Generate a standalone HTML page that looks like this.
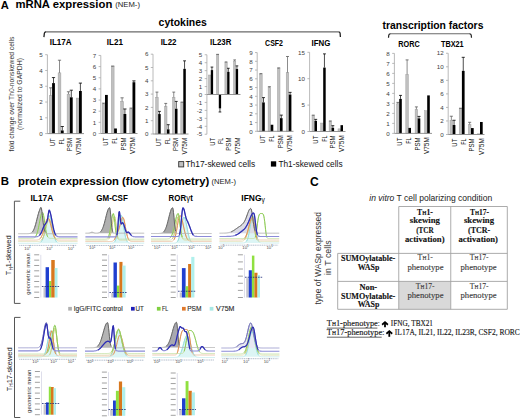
<!DOCTYPE html>
<html><head><meta charset="utf-8"><title>figure</title>
<style>html,body{margin:0;padding:0;background:#fff;width:520px;height:419px;overflow:hidden;font-family:"Liberation Sans",sans-serif}svg{display:block}</style>
</head><body>
<svg width="520" height="419" viewBox="0 0 520 419">
<text x="0.88" y="8.5" font-size="11" font-weight="bold" fill="#000" font-family='"Liberation Sans", sans-serif' textLength="8.06" lengthAdjust="spacingAndGlyphs">A</text>
<text x="15.47" y="8.3" font-size="10.8" font-weight="bold" fill="#000" font-family='"Liberation Sans", sans-serif' textLength="96.83" lengthAdjust="spacingAndGlyphs">mRNA expression</text>
<text x="115.22" y="6.9" font-size="6.4" font-weight="normal" fill="#222" font-family='"Liberation Sans", sans-serif' textLength="24.75" lengthAdjust="spacingAndGlyphs">(NEM-)</text>
<text x="158.59" y="25.6" font-size="10.8" font-weight="bold" fill="#000" font-family='"Liberation Sans", sans-serif' textLength="48.23" lengthAdjust="spacingAndGlyphs">cytokines</text>
<text x="382.58" y="28.5" font-size="10.8" font-weight="bold" fill="#000" font-family='"Liberation Sans", sans-serif' textLength="100.84" lengthAdjust="spacingAndGlyphs">transcription factors</text>
<path d="M45.5,31.9 L338.5,31.9" stroke="#6a6a6a" stroke-width="1.2" fill="none"/>
<path d="M43.9,37.2 L44.4,33.2 Q44.6,31.9 46,31.9" stroke="#222" stroke-width="1.3" fill="none"/>
<path d="M338.5,31.9 Q339.9,31.9 340.1,33.2 L340.4,37" stroke="#222" stroke-width="1.3" fill="none"/>
<path d="M390,33.8 L470,33.8" stroke="#6a6a6a" stroke-width="1.1" fill="none"/>
<path d="M388.5,37.7 L388.8,35 Q389,33.8 390.3,33.8" stroke="#222" stroke-width="1.2" fill="none"/>
<path d="M469.7,33.8 Q471,33.8 471.2,35 L471.5,37.7" stroke="#222" stroke-width="1.2" fill="none"/>
<text x="-0.09" y="0" transform="translate(14 151.4) rotate(-90)" font-size="8" font-weight="normal" fill="#333" font-family='"Liberation Sans", sans-serif' textLength="114.74" lengthAdjust="spacingAndGlyphs">fold change over Th0-nonskewed cells</text>
<text x="-0.42" y="0" transform="translate(22.4 129.5) rotate(-90)" font-size="8" font-weight="normal" fill="#333" font-family='"Liberation Sans", sans-serif' textLength="71.85" lengthAdjust="spacingAndGlyphs">(normalized to GAPDH)</text>
<text x="49.67" y="45.3" font-size="8.9" font-weight="bold" fill="#000" font-family='"Liberation Sans", sans-serif' textLength="22.05" lengthAdjust="spacingAndGlyphs">IL17A</text>
<line x1="47.4" y1="54.7" x2="47.4" y2="133.6" stroke="#a8a8a8" stroke-width="0.8"/>
<line x1="45.2" y1="133.6" x2="47.4" y2="133.6" stroke="#a8a8a8" stroke-width="0.8"/>
<text x="42.8" y="135.8" font-size="6.2" font-weight="normal" text-anchor="end" fill="#404040" font-family='"Liberation Sans", sans-serif'>0</text>
<line x1="45.2" y1="117.82" x2="47.4" y2="117.82" stroke="#a8a8a8" stroke-width="0.8"/>
<text x="42.8" y="120.02" font-size="6.2" font-weight="normal" text-anchor="end" fill="#404040" font-family='"Liberation Sans", sans-serif'>1</text>
<line x1="45.2" y1="102.04" x2="47.4" y2="102.04" stroke="#a8a8a8" stroke-width="0.8"/>
<text x="42.8" y="104.24" font-size="6.2" font-weight="normal" text-anchor="end" fill="#404040" font-family='"Liberation Sans", sans-serif'>2</text>
<line x1="45.2" y1="86.26" x2="47.4" y2="86.26" stroke="#a8a8a8" stroke-width="0.8"/>
<text x="42.8" y="88.46" font-size="6.2" font-weight="normal" text-anchor="end" fill="#404040" font-family='"Liberation Sans", sans-serif'>3</text>
<line x1="45.2" y1="70.48" x2="47.4" y2="70.48" stroke="#a8a8a8" stroke-width="0.8"/>
<text x="42.8" y="72.68" font-size="6.2" font-weight="normal" text-anchor="end" fill="#404040" font-family='"Liberation Sans", sans-serif'>4</text>
<line x1="45.2" y1="54.7" x2="47.4" y2="54.7" stroke="#a8a8a8" stroke-width="0.8"/>
<text x="42.8" y="56.9" font-size="6.2" font-weight="normal" text-anchor="end" fill="#404040" font-family='"Liberation Sans", sans-serif'>5</text>
<rect x="49.3" y="95.73" width="2.8" height="37.87" fill="#c0c0c0" stroke="#9c9c9c" stroke-width="0.45"/>
<line x1="50.7" y1="95.73" x2="50.7" y2="87.84" stroke="#5a5a5a" stroke-width="0.7"/>
<line x1="49.1" y1="87.84" x2="52.3" y2="87.84" stroke="#5a5a5a" stroke-width="0.8"/>
<rect x="52.1" y="83.1" width="2.8" height="50.5" fill="#000"/>
<line x1="53.5" y1="83.1" x2="53.5" y2="77.58" stroke="#000" stroke-width="0.7"/>
<line x1="51.9" y1="77.58" x2="55.1" y2="77.58" stroke="#000" stroke-width="0.8"/>
<rect x="58.1" y="72.85" width="2.8" height="60.75" fill="#c0c0c0" stroke="#9c9c9c" stroke-width="0.45"/>
<line x1="59.5" y1="72.85" x2="59.5" y2="60.22" stroke="#5a5a5a" stroke-width="0.7"/>
<line x1="57.9" y1="60.22" x2="61.1" y2="60.22" stroke="#5a5a5a" stroke-width="0.8"/>
<rect x="60.9" y="130.44" width="2.8" height="3.16" fill="#000"/>
<line x1="62.3" y1="130.44" x2="62.3" y2="126.5" stroke="#000" stroke-width="0.7"/>
<line x1="60.7" y1="126.5" x2="63.9" y2="126.5" stroke="#000" stroke-width="0.8"/>
<rect x="67.1" y="94.15" width="2.8" height="39.45" fill="#c0c0c0" stroke="#9c9c9c" stroke-width="0.45"/>
<line x1="68.5" y1="94.15" x2="68.5" y2="91.78" stroke="#5a5a5a" stroke-width="0.7"/>
<line x1="66.9" y1="91.78" x2="70.1" y2="91.78" stroke="#5a5a5a" stroke-width="0.8"/>
<rect x="69.9" y="97.31" width="2.8" height="36.29" fill="#000"/>
<line x1="71.3" y1="97.31" x2="71.3" y2="90.2" stroke="#000" stroke-width="0.7"/>
<line x1="69.7" y1="90.2" x2="72.9" y2="90.2" stroke="#000" stroke-width="0.8"/>
<rect x="76.2" y="98.09" width="2.8" height="35.5" fill="#c0c0c0" stroke="#9c9c9c" stroke-width="0.45"/>
<rect x="79" y="90.99" width="2.8" height="42.61" fill="#000"/>
<line x1="80.4" y1="90.99" x2="80.4" y2="83.1" stroke="#000" stroke-width="0.7"/>
<line x1="78.8" y1="83.1" x2="82" y2="83.1" stroke="#000" stroke-width="0.8"/>
<line x1="47.4" y1="133.6" x2="84" y2="133.6" stroke="#8a8a8a" stroke-width="0.9"/>
<text x="-0.46" y="0" transform="translate(54.9 145.9) rotate(-90)" font-size="7.5" font-weight="normal" fill="#111" font-family='"Liberation Sans", sans-serif' textLength="8" lengthAdjust="spacingAndGlyphs">UT</text>
<text x="-0.44" y="0" transform="translate(63.5 144.1) rotate(-90)" font-size="7.5" font-weight="normal" fill="#111" font-family='"Liberation Sans", sans-serif' textLength="6.21" lengthAdjust="spacingAndGlyphs">FL</text>
<text x="-0.5" y="0" transform="translate(72.3 150.7) rotate(-90)" font-size="7.5" font-weight="normal" fill="#111" font-family='"Liberation Sans", sans-serif' textLength="13.2" lengthAdjust="spacingAndGlyphs">PSM</text>
<text x="-0.03" y="0" transform="translate(81.3 154.7) rotate(-90)" font-size="7.5" font-weight="normal" fill="#111" font-family='"Liberation Sans", sans-serif' textLength="16.75" lengthAdjust="spacingAndGlyphs">V75M</text>
<text x="106.87" y="44.8" font-size="8.9" font-weight="bold" fill="#000" font-family='"Liberation Sans", sans-serif' textLength="16.15" lengthAdjust="spacingAndGlyphs">IL21</text>
<line x1="100.8" y1="55.45" x2="100.8" y2="133.5" stroke="#a8a8a8" stroke-width="0.8"/>
<line x1="98.6" y1="133.5" x2="100.8" y2="133.5" stroke="#a8a8a8" stroke-width="0.8"/>
<text x="96.2" y="135.7" font-size="6.2" font-weight="normal" text-anchor="end" fill="#404040" font-family='"Liberation Sans", sans-serif'>0</text>
<line x1="98.6" y1="122.35" x2="100.8" y2="122.35" stroke="#a8a8a8" stroke-width="0.8"/>
<text x="96.2" y="124.55" font-size="6.2" font-weight="normal" text-anchor="end" fill="#404040" font-family='"Liberation Sans", sans-serif'>1</text>
<line x1="98.6" y1="111.2" x2="100.8" y2="111.2" stroke="#a8a8a8" stroke-width="0.8"/>
<text x="96.2" y="113.4" font-size="6.2" font-weight="normal" text-anchor="end" fill="#404040" font-family='"Liberation Sans", sans-serif'>2</text>
<line x1="98.6" y1="100.05" x2="100.8" y2="100.05" stroke="#a8a8a8" stroke-width="0.8"/>
<text x="96.2" y="102.25" font-size="6.2" font-weight="normal" text-anchor="end" fill="#404040" font-family='"Liberation Sans", sans-serif'>3</text>
<line x1="98.6" y1="88.9" x2="100.8" y2="88.9" stroke="#a8a8a8" stroke-width="0.8"/>
<text x="96.2" y="91.1" font-size="6.2" font-weight="normal" text-anchor="end" fill="#404040" font-family='"Liberation Sans", sans-serif'>4</text>
<line x1="98.6" y1="77.75" x2="100.8" y2="77.75" stroke="#a8a8a8" stroke-width="0.8"/>
<text x="96.2" y="79.95" font-size="6.2" font-weight="normal" text-anchor="end" fill="#404040" font-family='"Liberation Sans", sans-serif'>5</text>
<line x1="98.6" y1="66.6" x2="100.8" y2="66.6" stroke="#a8a8a8" stroke-width="0.8"/>
<text x="96.2" y="68.8" font-size="6.2" font-weight="normal" text-anchor="end" fill="#404040" font-family='"Liberation Sans", sans-serif'>6</text>
<line x1="98.6" y1="55.45" x2="100.8" y2="55.45" stroke="#a8a8a8" stroke-width="0.8"/>
<text x="96.2" y="57.65" font-size="6.2" font-weight="normal" text-anchor="end" fill="#404040" font-family='"Liberation Sans", sans-serif'>7</text>
<rect x="102.2" y="103.95" width="2.8" height="29.55" fill="#c0c0c0" stroke="#9c9c9c" stroke-width="0.45"/>
<line x1="103.6" y1="103.95" x2="103.6" y2="103.17" stroke="#5a5a5a" stroke-width="0.7"/>
<line x1="102" y1="103.17" x2="105.2" y2="103.17" stroke="#5a5a5a" stroke-width="0.8"/>
<rect x="105" y="94.92" width="2.8" height="38.58" fill="#000"/>
<rect x="111.3" y="66.6" width="2.8" height="66.9" fill="#c0c0c0" stroke="#9c9c9c" stroke-width="0.45"/>
<line x1="112.7" y1="66.6" x2="112.7" y2="66.04" stroke="#5a5a5a" stroke-width="0.7"/>
<line x1="111.1" y1="66.04" x2="114.3" y2="66.04" stroke="#5a5a5a" stroke-width="0.8"/>
<rect x="114.1" y="128.48" width="2.8" height="5.02" fill="#000"/>
<rect x="120.7" y="101.72" width="2.8" height="31.78" fill="#c0c0c0" stroke="#9c9c9c" stroke-width="0.45"/>
<line x1="122.1" y1="101.72" x2="122.1" y2="97.82" stroke="#5a5a5a" stroke-width="0.7"/>
<line x1="120.5" y1="97.82" x2="123.7" y2="97.82" stroke="#5a5a5a" stroke-width="0.8"/>
<rect x="123.5" y="113.99" width="2.8" height="19.51" fill="#000"/>
<line x1="124.9" y1="113.99" x2="124.9" y2="108.97" stroke="#000" stroke-width="0.7"/>
<line x1="123.3" y1="108.97" x2="126.5" y2="108.97" stroke="#000" stroke-width="0.8"/>
<rect x="129.7" y="108.97" width="2.8" height="24.53" fill="#c0c0c0" stroke="#9c9c9c" stroke-width="0.45"/>
<line x1="131.1" y1="108.97" x2="131.1" y2="108.08" stroke="#5a5a5a" stroke-width="0.7"/>
<line x1="129.5" y1="108.08" x2="132.7" y2="108.08" stroke="#5a5a5a" stroke-width="0.8"/>
<rect x="132.5" y="82.21" width="2.8" height="51.29" fill="#000"/>
<line x1="133.9" y1="82.21" x2="133.9" y2="80.87" stroke="#000" stroke-width="0.7"/>
<line x1="132.3" y1="80.87" x2="135.5" y2="80.87" stroke="#000" stroke-width="0.8"/>
<line x1="100.8" y1="133.5" x2="137.5" y2="133.5" stroke="#8a8a8a" stroke-width="0.9"/>
<text x="-0.46" y="0" transform="translate(107.6 145.2) rotate(-90)" font-size="7.5" font-weight="normal" fill="#111" font-family='"Liberation Sans", sans-serif' textLength="8" lengthAdjust="spacingAndGlyphs">UT</text>
<text x="-0.44" y="0" transform="translate(116.7 143.4) rotate(-90)" font-size="7.5" font-weight="normal" fill="#111" font-family='"Liberation Sans", sans-serif' textLength="6.21" lengthAdjust="spacingAndGlyphs">FL</text>
<text x="-0.5" y="0" transform="translate(126 150) rotate(-90)" font-size="7.5" font-weight="normal" fill="#111" font-family='"Liberation Sans", sans-serif' textLength="13.2" lengthAdjust="spacingAndGlyphs">PSM</text>
<text x="-0.03" y="0" transform="translate(135 154) rotate(-90)" font-size="7.5" font-weight="normal" fill="#111" font-family='"Liberation Sans", sans-serif' textLength="16.75" lengthAdjust="spacingAndGlyphs">V75M</text>
<text x="160.68" y="44.8" font-size="8.9" font-weight="bold" fill="#000" font-family='"Liberation Sans", sans-serif' textLength="15.83" lengthAdjust="spacingAndGlyphs">IL22</text>
<line x1="153" y1="54.2" x2="153" y2="134" stroke="#a8a8a8" stroke-width="0.8"/>
<line x1="150.8" y1="134" x2="153" y2="134" stroke="#a8a8a8" stroke-width="0.8"/>
<text x="148.4" y="136.2" font-size="6.2" font-weight="normal" text-anchor="end" fill="#404040" font-family='"Liberation Sans", sans-serif'>0</text>
<line x1="150.8" y1="120.7" x2="153" y2="120.7" stroke="#a8a8a8" stroke-width="0.8"/>
<text x="148.4" y="122.9" font-size="6.2" font-weight="normal" text-anchor="end" fill="#404040" font-family='"Liberation Sans", sans-serif'>1</text>
<line x1="150.8" y1="107.4" x2="153" y2="107.4" stroke="#a8a8a8" stroke-width="0.8"/>
<text x="148.4" y="109.6" font-size="6.2" font-weight="normal" text-anchor="end" fill="#404040" font-family='"Liberation Sans", sans-serif'>2</text>
<line x1="150.8" y1="94.1" x2="153" y2="94.1" stroke="#a8a8a8" stroke-width="0.8"/>
<text x="148.4" y="96.3" font-size="6.2" font-weight="normal" text-anchor="end" fill="#404040" font-family='"Liberation Sans", sans-serif'>3</text>
<line x1="150.8" y1="80.8" x2="153" y2="80.8" stroke="#a8a8a8" stroke-width="0.8"/>
<text x="148.4" y="83" font-size="6.2" font-weight="normal" text-anchor="end" fill="#404040" font-family='"Liberation Sans", sans-serif'>4</text>
<line x1="150.8" y1="67.5" x2="153" y2="67.5" stroke="#a8a8a8" stroke-width="0.8"/>
<text x="148.4" y="69.7" font-size="6.2" font-weight="normal" text-anchor="end" fill="#404040" font-family='"Liberation Sans", sans-serif'>5</text>
<line x1="150.8" y1="54.2" x2="153" y2="54.2" stroke="#a8a8a8" stroke-width="0.8"/>
<text x="148.4" y="56.4" font-size="6.2" font-weight="normal" text-anchor="end" fill="#404040" font-family='"Liberation Sans", sans-serif'>6</text>
<rect x="155.7" y="97.42" width="2.5" height="36.58" fill="#c0c0c0" stroke="#9c9c9c" stroke-width="0.45"/>
<line x1="156.95" y1="97.42" x2="156.95" y2="92.1" stroke="#5a5a5a" stroke-width="0.7"/>
<line x1="155.5" y1="92.1" x2="158.4" y2="92.1" stroke="#5a5a5a" stroke-width="0.8"/>
<rect x="158.2" y="114.05" width="2.5" height="19.95" fill="#000"/>
<line x1="159.45" y1="114.05" x2="159.45" y2="111.39" stroke="#000" stroke-width="0.7"/>
<line x1="158" y1="111.39" x2="160.9" y2="111.39" stroke="#000" stroke-width="0.8"/>
<rect x="164.5" y="106.73" width="2.5" height="27.27" fill="#c0c0c0" stroke="#9c9c9c" stroke-width="0.45"/>
<line x1="165.75" y1="106.73" x2="165.75" y2="103.41" stroke="#5a5a5a" stroke-width="0.7"/>
<line x1="164.3" y1="103.41" x2="167.2" y2="103.41" stroke="#5a5a5a" stroke-width="0.8"/>
<rect x="167" y="129.34" width="2.5" height="4.66" fill="#000"/>
<line x1="168.25" y1="129.34" x2="168.25" y2="124.69" stroke="#000" stroke-width="0.7"/>
<line x1="166.8" y1="124.69" x2="169.7" y2="124.69" stroke="#000" stroke-width="0.8"/>
<rect x="172.5" y="97.42" width="2.5" height="36.58" fill="#c0c0c0" stroke="#9c9c9c" stroke-width="0.45"/>
<line x1="173.75" y1="97.42" x2="173.75" y2="92.1" stroke="#5a5a5a" stroke-width="0.7"/>
<line x1="172.3" y1="92.1" x2="175.2" y2="92.1" stroke="#5a5a5a" stroke-width="0.8"/>
<rect x="175" y="108.73" width="2.5" height="25.27" fill="#000"/>
<line x1="176.25" y1="108.73" x2="176.25" y2="101.41" stroke="#000" stroke-width="0.7"/>
<line x1="174.8" y1="101.41" x2="177.7" y2="101.41" stroke="#000" stroke-width="0.8"/>
<rect x="180.8" y="102.75" width="2.5" height="31.25" fill="#c0c0c0" stroke="#9c9c9c" stroke-width="0.45"/>
<line x1="182.05" y1="102.75" x2="182.05" y2="102.08" stroke="#5a5a5a" stroke-width="0.7"/>
<line x1="180.6" y1="102.08" x2="183.5" y2="102.08" stroke="#5a5a5a" stroke-width="0.8"/>
<rect x="183.3" y="68.83" width="2.5" height="65.17" fill="#000"/>
<line x1="184.55" y1="68.83" x2="184.55" y2="60.85" stroke="#000" stroke-width="0.7"/>
<line x1="183.1" y1="60.85" x2="186" y2="60.85" stroke="#000" stroke-width="0.8"/>
<line x1="153" y1="134" x2="188.5" y2="134" stroke="#8a8a8a" stroke-width="0.9"/>
<text x="-0.46" y="0" transform="translate(161.3 145.7) rotate(-90)" font-size="7.5" font-weight="normal" fill="#111" font-family='"Liberation Sans", sans-serif' textLength="8" lengthAdjust="spacingAndGlyphs">UT</text>
<text x="-0.44" y="0" transform="translate(169.7 143.9) rotate(-90)" font-size="7.5" font-weight="normal" fill="#111" font-family='"Liberation Sans", sans-serif' textLength="6.21" lengthAdjust="spacingAndGlyphs">FL</text>
<text x="-0.5" y="0" transform="translate(178.2 150.5) rotate(-90)" font-size="7.5" font-weight="normal" fill="#111" font-family='"Liberation Sans", sans-serif' textLength="13.2" lengthAdjust="spacingAndGlyphs">PSM</text>
<text x="-0.03" y="0" transform="translate(186.7 154.5) rotate(-90)" font-size="7.5" font-weight="normal" fill="#111" font-family='"Liberation Sans", sans-serif' textLength="16.75" lengthAdjust="spacingAndGlyphs">V75M</text>
<text x="210.08" y="45.4" font-size="8.9" font-weight="bold" fill="#000" font-family='"Liberation Sans", sans-serif' textLength="21.27" lengthAdjust="spacingAndGlyphs">IL23R</text>
<line x1="206.9" y1="54.75" x2="206.9" y2="134.25" stroke="#a8a8a8" stroke-width="0.8"/>
<line x1="204.7" y1="134.25" x2="206.9" y2="134.25" stroke="#a8a8a8" stroke-width="0.8"/>
<text x="202.3" y="136.45" font-size="6.2" font-weight="normal" text-anchor="end" fill="#404040" font-family='"Liberation Sans", sans-serif'>-5</text>
<line x1="204.7" y1="126.3" x2="206.9" y2="126.3" stroke="#a8a8a8" stroke-width="0.8"/>
<text x="202.3" y="128.5" font-size="6.2" font-weight="normal" text-anchor="end" fill="#404040" font-family='"Liberation Sans", sans-serif'>-4</text>
<line x1="204.7" y1="118.35" x2="206.9" y2="118.35" stroke="#a8a8a8" stroke-width="0.8"/>
<text x="202.3" y="120.55" font-size="6.2" font-weight="normal" text-anchor="end" fill="#404040" font-family='"Liberation Sans", sans-serif'>-3</text>
<line x1="204.7" y1="110.4" x2="206.9" y2="110.4" stroke="#a8a8a8" stroke-width="0.8"/>
<text x="202.3" y="112.6" font-size="6.2" font-weight="normal" text-anchor="end" fill="#404040" font-family='"Liberation Sans", sans-serif'>-2</text>
<line x1="204.7" y1="102.45" x2="206.9" y2="102.45" stroke="#a8a8a8" stroke-width="0.8"/>
<text x="202.3" y="104.65" font-size="6.2" font-weight="normal" text-anchor="end" fill="#404040" font-family='"Liberation Sans", sans-serif'>-1</text>
<line x1="204.7" y1="94.5" x2="206.9" y2="94.5" stroke="#a8a8a8" stroke-width="0.8"/>
<text x="202.3" y="96.7" font-size="6.2" font-weight="normal" text-anchor="end" fill="#404040" font-family='"Liberation Sans", sans-serif'>0</text>
<line x1="204.7" y1="86.55" x2="206.9" y2="86.55" stroke="#a8a8a8" stroke-width="0.8"/>
<text x="202.3" y="88.75" font-size="6.2" font-weight="normal" text-anchor="end" fill="#404040" font-family='"Liberation Sans", sans-serif'>1</text>
<line x1="204.7" y1="78.6" x2="206.9" y2="78.6" stroke="#a8a8a8" stroke-width="0.8"/>
<text x="202.3" y="80.8" font-size="6.2" font-weight="normal" text-anchor="end" fill="#404040" font-family='"Liberation Sans", sans-serif'>2</text>
<line x1="204.7" y1="70.65" x2="206.9" y2="70.65" stroke="#a8a8a8" stroke-width="0.8"/>
<text x="202.3" y="72.85" font-size="6.2" font-weight="normal" text-anchor="end" fill="#404040" font-family='"Liberation Sans", sans-serif'>3</text>
<line x1="204.7" y1="62.7" x2="206.9" y2="62.7" stroke="#a8a8a8" stroke-width="0.8"/>
<text x="202.3" y="64.9" font-size="6.2" font-weight="normal" text-anchor="end" fill="#404040" font-family='"Liberation Sans", sans-serif'>4</text>
<line x1="204.7" y1="54.75" x2="206.9" y2="54.75" stroke="#a8a8a8" stroke-width="0.8"/>
<text x="202.3" y="56.95" font-size="6.2" font-weight="normal" text-anchor="end" fill="#404040" font-family='"Liberation Sans", sans-serif'>5</text>
<rect x="208.5" y="75.02" width="2.3" height="19.48" fill="#c0c0c0" stroke="#9c9c9c" stroke-width="0.45"/>
<rect x="210.8" y="70.09" width="2.3" height="24.41" fill="#000"/>
<line x1="211.95" y1="70.09" x2="211.95" y2="67.07" stroke="#000" stroke-width="0.7"/>
<line x1="210.6" y1="67.07" x2="213.3" y2="67.07" stroke="#000" stroke-width="0.8"/>
<rect x="216.5" y="54.59" width="2.3" height="39.91" fill="#c0c0c0" stroke="#9c9c9c" stroke-width="0.45"/>
<line x1="217.65" y1="54.59" x2="217.65" y2="54.35" stroke="#5a5a5a" stroke-width="0.7"/>
<line x1="216.3" y1="54.35" x2="219" y2="54.35" stroke="#5a5a5a" stroke-width="0.8"/>
<rect x="218.8" y="94.5" width="2.3" height="13.91" fill="#000"/>
<line x1="219.95" y1="108.41" x2="219.95" y2="111.99" stroke="#000" stroke-width="0.7"/>
<line x1="218.6" y1="111.99" x2="221.3" y2="111.99" stroke="#000" stroke-width="0.8"/>
<rect x="224.9" y="62.7" width="2.3" height="31.8" fill="#c0c0c0" stroke="#9c9c9c" stroke-width="0.45"/>
<line x1="226.05" y1="62.7" x2="226.05" y2="61.91" stroke="#5a5a5a" stroke-width="0.7"/>
<line x1="224.7" y1="61.91" x2="227.4" y2="61.91" stroke="#5a5a5a" stroke-width="0.8"/>
<rect x="227.2" y="71.84" width="2.3" height="22.66" fill="#000"/>
<line x1="228.35" y1="71.84" x2="228.35" y2="68.27" stroke="#000" stroke-width="0.7"/>
<line x1="227" y1="68.27" x2="229.7" y2="68.27" stroke="#000" stroke-width="0.8"/>
<rect x="233.5" y="61.11" width="2.3" height="33.39" fill="#c0c0c0" stroke="#9c9c9c" stroke-width="0.45"/>
<line x1="234.65" y1="61.11" x2="234.65" y2="59.92" stroke="#5a5a5a" stroke-width="0.7"/>
<line x1="233.3" y1="59.92" x2="236" y2="59.92" stroke="#5a5a5a" stroke-width="0.8"/>
<rect x="235.8" y="69.06" width="2.3" height="25.44" fill="#000"/>
<line x1="236.95" y1="69.06" x2="236.95" y2="65.88" stroke="#000" stroke-width="0.7"/>
<line x1="235.6" y1="65.88" x2="238.3" y2="65.88" stroke="#000" stroke-width="0.8"/>
<line x1="206.9" y1="94.5" x2="240.5" y2="94.5" stroke="#8a8a8a" stroke-width="0.9"/>
<text x="-0.46" y="0" transform="translate(214.7 145.4) rotate(-90)" font-size="7.5" font-weight="normal" fill="#111" font-family='"Liberation Sans", sans-serif' textLength="8" lengthAdjust="spacingAndGlyphs">UT</text>
<text x="-0.44" y="0" transform="translate(223 143.6) rotate(-90)" font-size="7.5" font-weight="normal" fill="#111" font-family='"Liberation Sans", sans-serif' textLength="6.21" lengthAdjust="spacingAndGlyphs">FL</text>
<text x="-0.5" y="0" transform="translate(231.3 150.2) rotate(-90)" font-size="7.5" font-weight="normal" fill="#111" font-family='"Liberation Sans", sans-serif' textLength="13.2" lengthAdjust="spacingAndGlyphs">PSM</text>
<text x="-0.03" y="0" transform="translate(240 154.2) rotate(-90)" font-size="7.5" font-weight="normal" fill="#111" font-family='"Liberation Sans", sans-serif' textLength="16.75" lengthAdjust="spacingAndGlyphs">V75M</text>
<text x="265.11" y="45.6" font-size="8.9" font-weight="bold" fill="#000" font-family='"Liberation Sans", sans-serif' textLength="17.86" lengthAdjust="spacingAndGlyphs">CSF2</text>
<line x1="257.2" y1="52.55" x2="257.2" y2="131.3" stroke="#a8a8a8" stroke-width="0.8"/>
<line x1="255" y1="131.3" x2="257.2" y2="131.3" stroke="#a8a8a8" stroke-width="0.8"/>
<text x="252.6" y="133.5" font-size="6.2" font-weight="normal" text-anchor="end" fill="#404040" font-family='"Liberation Sans", sans-serif'>0</text>
<line x1="255" y1="122.55" x2="257.2" y2="122.55" stroke="#a8a8a8" stroke-width="0.8"/>
<text x="252.6" y="124.75" font-size="6.2" font-weight="normal" text-anchor="end" fill="#404040" font-family='"Liberation Sans", sans-serif'>1</text>
<line x1="255" y1="113.8" x2="257.2" y2="113.8" stroke="#a8a8a8" stroke-width="0.8"/>
<text x="252.6" y="116" font-size="6.2" font-weight="normal" text-anchor="end" fill="#404040" font-family='"Liberation Sans", sans-serif'>2</text>
<line x1="255" y1="105.05" x2="257.2" y2="105.05" stroke="#a8a8a8" stroke-width="0.8"/>
<text x="252.6" y="107.25" font-size="6.2" font-weight="normal" text-anchor="end" fill="#404040" font-family='"Liberation Sans", sans-serif'>3</text>
<line x1="255" y1="96.3" x2="257.2" y2="96.3" stroke="#a8a8a8" stroke-width="0.8"/>
<text x="252.6" y="98.5" font-size="6.2" font-weight="normal" text-anchor="end" fill="#404040" font-family='"Liberation Sans", sans-serif'>4</text>
<line x1="255" y1="87.55" x2="257.2" y2="87.55" stroke="#a8a8a8" stroke-width="0.8"/>
<text x="252.6" y="89.75" font-size="6.2" font-weight="normal" text-anchor="end" fill="#404040" font-family='"Liberation Sans", sans-serif'>5</text>
<line x1="255" y1="78.8" x2="257.2" y2="78.8" stroke="#a8a8a8" stroke-width="0.8"/>
<text x="252.6" y="81" font-size="6.2" font-weight="normal" text-anchor="end" fill="#404040" font-family='"Liberation Sans", sans-serif'>6</text>
<line x1="255" y1="70.05" x2="257.2" y2="70.05" stroke="#a8a8a8" stroke-width="0.8"/>
<text x="252.6" y="72.25" font-size="6.2" font-weight="normal" text-anchor="end" fill="#404040" font-family='"Liberation Sans", sans-serif'>7</text>
<line x1="255" y1="61.3" x2="257.2" y2="61.3" stroke="#a8a8a8" stroke-width="0.8"/>
<text x="252.6" y="63.5" font-size="6.2" font-weight="normal" text-anchor="end" fill="#404040" font-family='"Liberation Sans", sans-serif'>8</text>
<line x1="255" y1="52.55" x2="257.2" y2="52.55" stroke="#a8a8a8" stroke-width="0.8"/>
<text x="252.6" y="54.75" font-size="6.2" font-weight="normal" text-anchor="end" fill="#404040" font-family='"Liberation Sans", sans-serif'>9</text>
<rect x="259.6" y="74.43" width="2.6" height="56.88" fill="#c0c0c0" stroke="#9c9c9c" stroke-width="0.45"/>
<line x1="260.9" y1="74.43" x2="260.9" y2="73.55" stroke="#5a5a5a" stroke-width="0.7"/>
<line x1="259.4" y1="73.55" x2="262.4" y2="73.55" stroke="#5a5a5a" stroke-width="0.8"/>
<rect x="262.2" y="102.43" width="2.6" height="28.88" fill="#000"/>
<line x1="263.5" y1="102.43" x2="263.5" y2="97.61" stroke="#000" stroke-width="0.7"/>
<line x1="262" y1="97.61" x2="265" y2="97.61" stroke="#000" stroke-width="0.8"/>
<rect x="268.1" y="87.55" width="2.6" height="43.75" fill="#c0c0c0" stroke="#9c9c9c" stroke-width="0.45"/>
<line x1="269.4" y1="87.55" x2="269.4" y2="86.68" stroke="#5a5a5a" stroke-width="0.7"/>
<line x1="267.9" y1="86.68" x2="270.9" y2="86.68" stroke="#5a5a5a" stroke-width="0.8"/>
<rect x="270.7" y="124.74" width="2.6" height="6.56" fill="#000"/>
<rect x="277.4" y="68.74" width="2.6" height="62.56" fill="#c0c0c0" stroke="#9c9c9c" stroke-width="0.45"/>
<line x1="278.7" y1="68.74" x2="278.7" y2="67.86" stroke="#5a5a5a" stroke-width="0.7"/>
<line x1="277.2" y1="67.86" x2="280.2" y2="67.86" stroke="#5a5a5a" stroke-width="0.8"/>
<rect x="280" y="118.18" width="2.6" height="13.12" fill="#000"/>
<line x1="281.3" y1="118.18" x2="281.3" y2="115.11" stroke="#000" stroke-width="0.7"/>
<line x1="279.8" y1="115.11" x2="282.8" y2="115.11" stroke="#000" stroke-width="0.8"/>
<rect x="286.2" y="72.68" width="2.6" height="58.62" fill="#c0c0c0" stroke="#9c9c9c" stroke-width="0.45"/>
<line x1="287.5" y1="72.68" x2="287.5" y2="56.49" stroke="#5a5a5a" stroke-width="0.7"/>
<line x1="286" y1="56.49" x2="289" y2="56.49" stroke="#5a5a5a" stroke-width="0.8"/>
<rect x="288.8" y="94.55" width="2.6" height="36.75" fill="#000"/>
<line x1="290.1" y1="94.55" x2="290.1" y2="92.36" stroke="#000" stroke-width="0.7"/>
<line x1="288.6" y1="92.36" x2="291.6" y2="92.36" stroke="#000" stroke-width="0.8"/>
<line x1="257.2" y1="131.3" x2="293.5" y2="131.3" stroke="#8a8a8a" stroke-width="0.9"/>
<text x="-0.46" y="0" transform="translate(265.1 143) rotate(-90)" font-size="7.5" font-weight="normal" fill="#111" font-family='"Liberation Sans", sans-serif' textLength="8" lengthAdjust="spacingAndGlyphs">UT</text>
<text x="-0.44" y="0" transform="translate(273.9 141.2) rotate(-90)" font-size="7.5" font-weight="normal" fill="#111" font-family='"Liberation Sans", sans-serif' textLength="6.21" lengthAdjust="spacingAndGlyphs">FL</text>
<text x="-0.5" y="0" transform="translate(282.9 147.8) rotate(-90)" font-size="7.5" font-weight="normal" fill="#111" font-family='"Liberation Sans", sans-serif' textLength="13.2" lengthAdjust="spacingAndGlyphs">PSM</text>
<text x="-0.03" y="0" transform="translate(291.8 151.8) rotate(-90)" font-size="7.5" font-weight="normal" fill="#111" font-family='"Liberation Sans", sans-serif' textLength="16.75" lengthAdjust="spacingAndGlyphs">V75M</text>
<text x="311.48" y="45.6" font-size="8.9" font-weight="bold" fill="#000" font-family='"Liberation Sans", sans-serif' textLength="18.81" lengthAdjust="spacingAndGlyphs">IFNG</text>
<line x1="309.6" y1="52.3" x2="309.6" y2="131.5" stroke="#a8a8a8" stroke-width="0.8"/>
<line x1="307.4" y1="131.5" x2="309.6" y2="131.5" stroke="#a8a8a8" stroke-width="0.8"/>
<text x="305" y="133.7" font-size="6.2" font-weight="normal" text-anchor="end" fill="#404040" font-family='"Liberation Sans", sans-serif'>0</text>
<line x1="307.4" y1="105.1" x2="309.6" y2="105.1" stroke="#a8a8a8" stroke-width="0.8"/>
<text x="305" y="107.3" font-size="6.2" font-weight="normal" text-anchor="end" fill="#404040" font-family='"Liberation Sans", sans-serif'>5</text>
<line x1="307.4" y1="78.7" x2="309.6" y2="78.7" stroke="#a8a8a8" stroke-width="0.8"/>
<text x="305" y="80.9" font-size="6.2" font-weight="normal" text-anchor="end" fill="#404040" font-family='"Liberation Sans", sans-serif'>10</text>
<line x1="307.4" y1="52.3" x2="309.6" y2="52.3" stroke="#a8a8a8" stroke-width="0.8"/>
<text x="305" y="54.5" font-size="6.2" font-weight="normal" text-anchor="end" fill="#404040" font-family='"Liberation Sans", sans-serif'>15</text>
<rect x="312" y="115.66" width="2.5" height="15.84" fill="#c0c0c0" stroke="#9c9c9c" stroke-width="0.45"/>
<line x1="313.25" y1="115.66" x2="313.25" y2="115.13" stroke="#5a5a5a" stroke-width="0.7"/>
<line x1="311.8" y1="115.13" x2="314.7" y2="115.13" stroke="#5a5a5a" stroke-width="0.8"/>
<rect x="314.5" y="120.94" width="2.5" height="10.56" fill="#000"/>
<line x1="315.75" y1="120.94" x2="315.75" y2="119.36" stroke="#000" stroke-width="0.7"/>
<line x1="314.3" y1="119.36" x2="317.2" y2="119.36" stroke="#000" stroke-width="0.8"/>
<rect x="320.7" y="123.05" width="2.5" height="8.45" fill="#c0c0c0" stroke="#9c9c9c" stroke-width="0.45"/>
<rect x="323.2" y="67.61" width="2.5" height="63.89" fill="#000"/>
<line x1="324.45" y1="67.61" x2="324.45" y2="53.88" stroke="#000" stroke-width="0.7"/>
<line x1="323" y1="53.88" x2="325.9" y2="53.88" stroke="#000" stroke-width="0.8"/>
<rect x="329.1" y="121.47" width="2.5" height="10.03" fill="#c0c0c0" stroke="#9c9c9c" stroke-width="0.45"/>
<line x1="330.35" y1="121.47" x2="330.35" y2="120.94" stroke="#5a5a5a" stroke-width="0.7"/>
<line x1="328.9" y1="120.94" x2="331.8" y2="120.94" stroke="#5a5a5a" stroke-width="0.8"/>
<rect x="331.6" y="127.8" width="2.5" height="3.7" fill="#000"/>
<line x1="332.85" y1="127.8" x2="332.85" y2="125.69" stroke="#000" stroke-width="0.7"/>
<line x1="331.4" y1="125.69" x2="334.3" y2="125.69" stroke="#000" stroke-width="0.8"/>
<rect x="338" y="128.86" width="2.5" height="2.64" fill="#c0c0c0" stroke="#9c9c9c" stroke-width="0.45"/>
<rect x="340.5" y="125.16" width="2.5" height="6.34" fill="#000"/>
<line x1="309.6" y1="131.5" x2="345.5" y2="131.5" stroke="#8a8a8a" stroke-width="0.9"/>
<text x="-0.46" y="0" transform="translate(317.7 143.2) rotate(-90)" font-size="7.5" font-weight="normal" fill="#111" font-family='"Liberation Sans", sans-serif' textLength="8" lengthAdjust="spacingAndGlyphs">UT</text>
<text x="-0.44" y="0" transform="translate(326.5 141.4) rotate(-90)" font-size="7.5" font-weight="normal" fill="#111" font-family='"Liberation Sans", sans-serif' textLength="6.21" lengthAdjust="spacingAndGlyphs">FL</text>
<text x="-0.5" y="0" transform="translate(335.2 148) rotate(-90)" font-size="7.5" font-weight="normal" fill="#111" font-family='"Liberation Sans", sans-serif' textLength="13.2" lengthAdjust="spacingAndGlyphs">PSM</text>
<text x="-0.03" y="0" transform="translate(344.2 152) rotate(-90)" font-size="7.5" font-weight="normal" fill="#111" font-family='"Liberation Sans", sans-serif' textLength="16.75" lengthAdjust="spacingAndGlyphs">V75M</text>
<text x="398.32" y="47.1" font-size="8.9" font-weight="bold" fill="#000" font-family='"Liberation Sans", sans-serif' textLength="21.48" lengthAdjust="spacingAndGlyphs">RORC</text>
<line x1="394.4" y1="53.4" x2="394.4" y2="133.4" stroke="#a8a8a8" stroke-width="0.8"/>
<line x1="392.2" y1="133.4" x2="394.4" y2="133.4" stroke="#a8a8a8" stroke-width="0.8"/>
<text x="389.8" y="135.6" font-size="6.2" font-weight="normal" text-anchor="end" fill="#404040" font-family='"Liberation Sans", sans-serif'>0</text>
<line x1="392.2" y1="123.4" x2="394.4" y2="123.4" stroke="#a8a8a8" stroke-width="0.8"/>
<text x="389.8" y="125.6" font-size="6.2" font-weight="normal" text-anchor="end" fill="#404040" font-family='"Liberation Sans", sans-serif'>1</text>
<line x1="392.2" y1="113.4" x2="394.4" y2="113.4" stroke="#a8a8a8" stroke-width="0.8"/>
<text x="389.8" y="115.6" font-size="6.2" font-weight="normal" text-anchor="end" fill="#404040" font-family='"Liberation Sans", sans-serif'>2</text>
<line x1="392.2" y1="103.4" x2="394.4" y2="103.4" stroke="#a8a8a8" stroke-width="0.8"/>
<text x="389.8" y="105.6" font-size="6.2" font-weight="normal" text-anchor="end" fill="#404040" font-family='"Liberation Sans", sans-serif'>3</text>
<line x1="392.2" y1="93.4" x2="394.4" y2="93.4" stroke="#a8a8a8" stroke-width="0.8"/>
<text x="389.8" y="95.6" font-size="6.2" font-weight="normal" text-anchor="end" fill="#404040" font-family='"Liberation Sans", sans-serif'>4</text>
<line x1="392.2" y1="83.4" x2="394.4" y2="83.4" stroke="#a8a8a8" stroke-width="0.8"/>
<text x="389.8" y="85.6" font-size="6.2" font-weight="normal" text-anchor="end" fill="#404040" font-family='"Liberation Sans", sans-serif'>5</text>
<line x1="392.2" y1="73.4" x2="394.4" y2="73.4" stroke="#a8a8a8" stroke-width="0.8"/>
<text x="389.8" y="75.6" font-size="6.2" font-weight="normal" text-anchor="end" fill="#404040" font-family='"Liberation Sans", sans-serif'>6</text>
<line x1="392.2" y1="63.4" x2="394.4" y2="63.4" stroke="#a8a8a8" stroke-width="0.8"/>
<text x="389.8" y="65.6" font-size="6.2" font-weight="normal" text-anchor="end" fill="#404040" font-family='"Liberation Sans", sans-serif'>7</text>
<line x1="392.2" y1="53.4" x2="394.4" y2="53.4" stroke="#a8a8a8" stroke-width="0.8"/>
<text x="389.8" y="55.6" font-size="6.2" font-weight="normal" text-anchor="end" fill="#404040" font-family='"Liberation Sans", sans-serif'>8</text>
<rect x="396.6" y="103.9" width="2.6" height="29.5" fill="#c0c0c0" stroke="#9c9c9c" stroke-width="0.45"/>
<line x1="397.9" y1="103.9" x2="397.9" y2="102.4" stroke="#5a5a5a" stroke-width="0.7"/>
<line x1="396.4" y1="102.4" x2="399.4" y2="102.4" stroke="#5a5a5a" stroke-width="0.8"/>
<rect x="399.2" y="98.9" width="2.6" height="34.5" fill="#000"/>
<line x1="400.5" y1="98.9" x2="400.5" y2="95.4" stroke="#000" stroke-width="0.7"/>
<line x1="399" y1="95.4" x2="402" y2="95.4" stroke="#000" stroke-width="0.8"/>
<rect x="405.8" y="74.4" width="2.6" height="59" fill="#c0c0c0" stroke="#9c9c9c" stroke-width="0.45"/>
<line x1="407.1" y1="74.4" x2="407.1" y2="59.9" stroke="#5a5a5a" stroke-width="0.7"/>
<line x1="405.6" y1="59.9" x2="408.6" y2="59.9" stroke="#5a5a5a" stroke-width="0.8"/>
<rect x="408.4" y="127.9" width="2.6" height="5.5" fill="#000"/>
<rect x="415.1" y="109.4" width="2.6" height="24" fill="#c0c0c0" stroke="#9c9c9c" stroke-width="0.45"/>
<line x1="416.4" y1="109.4" x2="416.4" y2="106.9" stroke="#5a5a5a" stroke-width="0.7"/>
<line x1="414.9" y1="106.9" x2="417.9" y2="106.9" stroke="#5a5a5a" stroke-width="0.8"/>
<rect x="417.7" y="118.4" width="2.6" height="15" fill="#000"/>
<line x1="419" y1="118.4" x2="419" y2="116.4" stroke="#000" stroke-width="0.7"/>
<line x1="417.5" y1="116.4" x2="420.5" y2="116.4" stroke="#000" stroke-width="0.8"/>
<rect x="424.6" y="110.7" width="2.6" height="22.7" fill="#c0c0c0" stroke="#9c9c9c" stroke-width="0.45"/>
<rect x="427.2" y="95.4" width="2.6" height="38" fill="#000"/>
<line x1="394.4" y1="133.4" x2="432" y2="133.4" stroke="#8a8a8a" stroke-width="0.9"/>
<text x="-0.46" y="0" transform="translate(401.7 145.2) rotate(-90)" font-size="7.5" font-weight="normal" fill="#111" font-family='"Liberation Sans", sans-serif' textLength="8" lengthAdjust="spacingAndGlyphs">UT</text>
<text x="-0.44" y="0" transform="translate(410.8 143.4) rotate(-90)" font-size="7.5" font-weight="normal" fill="#111" font-family='"Liberation Sans", sans-serif' textLength="6.21" lengthAdjust="spacingAndGlyphs">FL</text>
<text x="-0.5" y="0" transform="translate(420.1 150) rotate(-90)" font-size="7.5" font-weight="normal" fill="#111" font-family='"Liberation Sans", sans-serif' textLength="13.2" lengthAdjust="spacingAndGlyphs">PSM</text>
<text x="-0.03" y="0" transform="translate(429 154) rotate(-90)" font-size="7.5" font-weight="normal" fill="#111" font-family='"Liberation Sans", sans-serif' textLength="16.75" lengthAdjust="spacingAndGlyphs">V75M</text>
<text x="440.92" y="47.1" font-size="8.9" font-weight="bold" fill="#000" font-family='"Liberation Sans", sans-serif' textLength="22.78" lengthAdjust="spacingAndGlyphs">TBX21</text>
<line x1="448.2" y1="53.26" x2="448.2" y2="134.5" stroke="#a8a8a8" stroke-width="0.8"/>
<line x1="446" y1="134.5" x2="448.2" y2="134.5" stroke="#a8a8a8" stroke-width="0.8"/>
<text x="443.6" y="136.7" font-size="6.2" font-weight="normal" text-anchor="end" fill="#404040" font-family='"Liberation Sans", sans-serif'>0</text>
<line x1="446" y1="120.96" x2="448.2" y2="120.96" stroke="#a8a8a8" stroke-width="0.8"/>
<text x="443.6" y="123.16" font-size="6.2" font-weight="normal" text-anchor="end" fill="#404040" font-family='"Liberation Sans", sans-serif'>2</text>
<line x1="446" y1="107.42" x2="448.2" y2="107.42" stroke="#a8a8a8" stroke-width="0.8"/>
<text x="443.6" y="109.62" font-size="6.2" font-weight="normal" text-anchor="end" fill="#404040" font-family='"Liberation Sans", sans-serif'>4</text>
<line x1="446" y1="93.88" x2="448.2" y2="93.88" stroke="#a8a8a8" stroke-width="0.8"/>
<text x="443.6" y="96.08" font-size="6.2" font-weight="normal" text-anchor="end" fill="#404040" font-family='"Liberation Sans", sans-serif'>6</text>
<line x1="446" y1="80.34" x2="448.2" y2="80.34" stroke="#a8a8a8" stroke-width="0.8"/>
<text x="443.6" y="82.54" font-size="6.2" font-weight="normal" text-anchor="end" fill="#404040" font-family='"Liberation Sans", sans-serif'>8</text>
<line x1="446" y1="66.8" x2="448.2" y2="66.8" stroke="#a8a8a8" stroke-width="0.8"/>
<text x="443.6" y="69" font-size="6.2" font-weight="normal" text-anchor="end" fill="#404040" font-family='"Liberation Sans", sans-serif'>10</text>
<line x1="446" y1="53.26" x2="448.2" y2="53.26" stroke="#a8a8a8" stroke-width="0.8"/>
<text x="443.6" y="55.46" font-size="6.2" font-weight="normal" text-anchor="end" fill="#404040" font-family='"Liberation Sans", sans-serif'>12</text>
<rect x="450" y="120.28" width="2.7" height="14.22" fill="#c0c0c0" stroke="#9c9c9c" stroke-width="0.45"/>
<line x1="451.35" y1="120.28" x2="451.35" y2="116.22" stroke="#5a5a5a" stroke-width="0.7"/>
<line x1="449.8" y1="116.22" x2="452.9" y2="116.22" stroke="#5a5a5a" stroke-width="0.8"/>
<rect x="452.7" y="125.02" width="2.7" height="9.48" fill="#000"/>
<line x1="454.05" y1="125.02" x2="454.05" y2="120.28" stroke="#000" stroke-width="0.7"/>
<line x1="452.5" y1="120.28" x2="455.6" y2="120.28" stroke="#000" stroke-width="0.8"/>
<rect x="459.2" y="108.77" width="2.7" height="25.73" fill="#c0c0c0" stroke="#9c9c9c" stroke-width="0.45"/>
<line x1="460.55" y1="108.77" x2="460.55" y2="108.23" stroke="#5a5a5a" stroke-width="0.7"/>
<line x1="459" y1="108.23" x2="462.1" y2="108.23" stroke="#5a5a5a" stroke-width="0.8"/>
<rect x="461.9" y="70.86" width="2.7" height="63.64" fill="#000"/>
<line x1="463.25" y1="70.86" x2="463.25" y2="57.32" stroke="#000" stroke-width="0.7"/>
<line x1="461.7" y1="57.32" x2="464.8" y2="57.32" stroke="#000" stroke-width="0.8"/>
<rect x="468.3" y="124.68" width="2.7" height="9.82" fill="#c0c0c0" stroke="#9c9c9c" stroke-width="0.45"/>
<line x1="469.65" y1="124.68" x2="469.65" y2="122.31" stroke="#5a5a5a" stroke-width="0.7"/>
<line x1="468.1" y1="122.31" x2="471.2" y2="122.31" stroke="#5a5a5a" stroke-width="0.8"/>
<rect x="471" y="128.07" width="2.7" height="6.43" fill="#000"/>
<rect x="477.3" y="133.82" width="2.7" height="0.68" fill="#c0c0c0" stroke="#9c9c9c" stroke-width="0.45"/>
<rect x="480" y="121.98" width="2.7" height="12.52" fill="#000"/>
<line x1="448.2" y1="134.5" x2="484.5" y2="134.5" stroke="#8a8a8a" stroke-width="0.9"/>
<text x="-0.46" y="0" transform="translate(456.7 146.2) rotate(-90)" font-size="7.5" font-weight="normal" fill="#111" font-family='"Liberation Sans", sans-serif' textLength="8" lengthAdjust="spacingAndGlyphs">UT</text>
<text x="-0.44" y="0" transform="translate(466.3 144.4) rotate(-90)" font-size="7.5" font-weight="normal" fill="#111" font-family='"Liberation Sans", sans-serif' textLength="6.21" lengthAdjust="spacingAndGlyphs">FL</text>
<text x="-0.5" y="0" transform="translate(474.2 151) rotate(-90)" font-size="7.5" font-weight="normal" fill="#111" font-family='"Liberation Sans", sans-serif' textLength="13.2" lengthAdjust="spacingAndGlyphs">PSM</text>
<text x="-0.03" y="0" transform="translate(483.7 155) rotate(-90)" font-size="7.5" font-weight="normal" fill="#111" font-family='"Liberation Sans", sans-serif' textLength="16.75" lengthAdjust="spacingAndGlyphs">V75M</text>
<rect x="178.7" y="161.6" width="5" height="5.3" fill="#c0c0c0" stroke="#333" stroke-width="0.9"/>
<text x="185.41" y="167.4" font-size="8.8" font-weight="normal" fill="#111" font-family='"Liberation Sans", sans-serif' textLength="69.69" lengthAdjust="spacingAndGlyphs">Th17-skewed cells</text>
<rect x="270.9" y="161.3" width="5.3" height="5.3" fill="#000"/>
<text x="278.42" y="167.4" font-size="8.8" font-weight="normal" fill="#111" font-family='"Liberation Sans", sans-serif' textLength="64.18" lengthAdjust="spacingAndGlyphs">Th1-skewed cells</text>
<text x="0.74" y="185" font-size="10.5" font-weight="bold" fill="#000" font-family='"Liberation Sans", sans-serif' textLength="8.27" lengthAdjust="spacingAndGlyphs">B</text>
<text x="18.07" y="185" font-size="10.6" font-weight="bold" fill="#000" font-family='"Liberation Sans", sans-serif' textLength="191.18" lengthAdjust="spacingAndGlyphs">protein expression (flow cytometry)</text>
<text x="211.53" y="184" font-size="6.4" font-weight="normal" fill="#222" font-family='"Liberation Sans", sans-serif' textLength="24.44" lengthAdjust="spacingAndGlyphs">(NEM-)</text>
<text x="30.45" y="200.5" font-size="8.8" font-weight="bold" fill="#000" font-family='"Liberation Sans", sans-serif' textLength="22.87" lengthAdjust="spacingAndGlyphs">IL17A</text>
<text x="96.37" y="200.5" font-size="8.8" font-weight="bold" fill="#000" font-family='"Liberation Sans", sans-serif' textLength="31.41" lengthAdjust="spacingAndGlyphs">GM-CSF</text>
<text x="168.59" y="200.5" font-size="8.8" font-weight="bold" fill="#000" font-family='"Liberation Sans", sans-serif' textLength="24.21" lengthAdjust="spacingAndGlyphs">ROR<tspan font-weight="normal">&#947;</tspan>t</text>
<text x="241.37" y="200.5" font-size="8.8" font-weight="bold" fill="#000" font-family='"Liberation Sans", sans-serif' textLength="23.46" lengthAdjust="spacingAndGlyphs">IFNG<tspan font-weight="normal" font-size="7" dy="1.2">&#947;</tspan></text>
<path d="M20.3,201.2 L14.4,201.2 L14.4,303.4 L20.5,303.4" stroke="#555" stroke-width="1" fill="none"/>
<path d="M20.5,317.4 L14.5,317.4 L14.5,417.5 L20.3,417.5" stroke="#555" stroke-width="1" fill="none"/>
<text x="-0.16" y="0" transform="translate(11 275) rotate(-90)" font-size="7.5" font-weight="normal" fill="#1a1a1a" font-family='"Liberation Sans", sans-serif' textLength="39.71" lengthAdjust="spacingAndGlyphs">T<tspan font-size="4.8" dy="1.7">H</tspan><tspan dy="-1.7">1-skewed</tspan></text>
<text x="-0.16" y="0" transform="translate(11.6 391.2) rotate(-90)" font-size="7.5" font-weight="normal" fill="#1a1a1a" font-family='"Liberation Sans", sans-serif' textLength="44.01" lengthAdjust="spacingAndGlyphs">T<tspan font-size="4.8" dy="1.7">H</tspan><tspan dy="-1.7">17-skewed</tspan></text>
<line x1="19.2" y1="245.4" x2="76.5" y2="245.4" stroke="#8090aa" stroke-width="0.6" stroke-dasharray="1.2,0.6"/>
<text x="27.5" y="249.6" font-size="4.3" font-weight="normal" text-anchor="middle" fill="#4a4a4a" font-family='"Liberation Sans", sans-serif'>10<tspan font-size="3" dy="-1.6">1</tspan></text>
<text x="49.5" y="249.6" font-size="4.3" font-weight="normal" text-anchor="middle" fill="#4a4a4a" font-family='"Liberation Sans", sans-serif'>10<tspan font-size="3" dy="-1.6">1</tspan></text>
<text x="71" y="249.6" font-size="4.3" font-weight="normal" text-anchor="middle" fill="#4a4a4a" font-family='"Liberation Sans", sans-serif'>10<tspan font-size="3" dy="-1.6">1</tspan></text>
<path d="M18.2,243.3 L18.62,243.3 L19.05,243.3 L19.47,243.3 L19.89,243.3 L20.32,243.3 L20.74,243.3 L21.16,243.3 L21.59,243.3 L22.01,243.3 L22.44,243.3 L22.86,243.3 L23.28,243.3 L23.71,243.3 L24.13,243.3 L24.55,243.3 L24.98,243.3 L25.4,243.3 L25.82,243.3 L26.25,243.3 L26.67,243.3 L27.09,243.3 L27.52,243.3 L27.94,243.3 L28.37,243.3 L28.79,243.3 L29.21,243.3 L29.64,243.3 L30.06,243.3 L30.48,243.3 L30.91,243.3 L31.33,243.3 L31.75,243.3 L32.18,243.3 L32.6,243.3 L33.02,243.3 L33.45,243.3 L33.87,243.3 L34.3,243.3 L34.72,243.3 L35.14,243.3 L35.57,243.29 L35.99,243.29 L36.41,243.28 L36.84,243.27 L37.26,243.25 L37.68,243.22 L38.11,243.18 L38.53,243.12 L38.95,243.03 L39.38,242.91 L39.8,242.74 L40.23,242.52 L40.65,242.22 L41.07,241.83 L41.5,241.33 L41.92,240.69 L42.34,239.91 L42.77,238.96 L43.19,237.83 L43.61,236.51 L44.04,235 L44.46,233.31 L44.88,231.46 L45.31,229.49 L45.73,227.44 L46.16,225.37 L46.58,223.33 L47,221.41 L47.43,219.67 L47.85,218.19 L48.27,217.03 L48.7,216.23 L49.12,215.84 L49.54,215.89 L49.97,216.47 L50.39,217.56 L50.81,219.09 L51.24,220.98 L51.66,223.13 L52.09,225.43 L52.51,227.78 L52.93,230.09 L53.36,232.28 L53.78,234.28 L54.2,236.07 L54.63,237.62 L55.05,238.92 L55.47,239.99 L55.9,240.85 L56.32,241.52 L56.75,242.04 L57.17,242.42 L57.59,242.7 L58.02,242.9 L58.44,243.03 L58.86,243.13 L59.29,243.19 L59.71,243.23 L60.13,243.26 L60.56,243.28 L60.98,243.29 L61.4,243.29 L61.83,243.3 L62.25,243.3 L62.67,243.3 L63.1,243.3 L63.52,243.3 L63.95,243.3 L64.37,243.3 L64.79,243.3 L65.22,243.3 L65.64,243.3 L66.06,243.3 L66.49,243.3 L66.91,243.3 L67.33,243.3 L67.76,243.3 L68.18,243.3 L68.61,243.3 L69.03,243.3 L69.45,243.3 L69.88,243.3 L70.3,243.3 L70.72,243.3 L71.15,243.3 L71.57,243.3 L71.99,243.3 L72.42,243.3 L72.84,243.3 L73.26,243.3 L73.69,243.3 L74.11,243.3 L74.53,243.3 L74.96,243.3 L75.38,243.3 L75.81,243.3 L76.23,243.3 L76.65,243.3 L77.08,243.3 L77.5,243.3 L77.5,243.3 L18.2,243.3 Z" stroke="none" stroke-width="1" fill="#dcf5f5"/>
<path d="M18.2,233.7 L18.62,233.7 L19.05,233.7 L19.47,233.7 L19.89,233.7 L20.32,233.7 L20.74,233.7 L21.16,233.7 L21.59,233.7 L22.01,233.7 L22.44,233.7 L22.86,233.7 L23.28,233.7 L23.71,233.7 L24.13,233.7 L24.55,233.7 L24.98,233.7 L25.4,233.7 L25.82,233.69 L26.25,233.69 L26.67,233.69 L27.09,233.68 L27.52,233.67 L27.94,233.65 L28.37,233.63 L28.79,233.59 L29.21,233.54 L29.64,233.47 L30.06,233.37 L30.48,233.24 L30.91,233.06 L31.33,232.83 L31.75,232.53 L32.18,232.15 L32.6,231.67 L33.02,231.08 L33.45,230.36 L33.87,229.51 L34.3,228.52 L34.72,227.38 L35.14,226.09 L35.57,224.67 L35.99,223.13 L36.41,221.49 L36.84,219.8 L37.26,218.09 L37.68,216.41 L38.11,214.8 L38.53,213.32 L38.95,211.96 L39.38,210.73 L39.8,209.57 L40.23,208.5 L40.65,207.62 L41.07,207.62 L41.5,208.99 L41.92,211.65 L42.34,215.19 L42.77,219.01 L43.19,222.61 L43.61,225.67 L44.04,228.1 L44.46,229.94 L44.88,231.27 L45.31,232.2 L45.73,232.81 L46.16,233.19 L46.58,233.42 L47,233.56 L47.43,233.63 L47.85,233.67 L48.27,233.68 L48.7,233.69 L49.12,233.7 L49.54,233.7 L49.97,233.7 L50.39,233.7 L50.81,233.7 L51.24,233.7 L51.66,233.7 L52.09,233.7 L52.51,233.7 L52.93,233.7 L53.36,233.7 L53.78,233.7 L54.2,233.7 L54.63,233.7 L55.05,233.7 L55.47,233.7 L55.9,233.7 L56.32,233.7 L56.75,233.7 L57.17,233.7 L57.59,233.7 L58.02,233.7 L58.44,233.7 L58.86,233.7 L59.29,233.7 L59.71,233.7 L60.13,233.7 L60.56,233.7 L60.98,233.7 L61.4,233.7 L61.83,233.7 L62.25,233.7 L62.67,233.7 L63.1,233.7 L63.52,233.7 L63.95,233.7 L64.37,233.7 L64.79,233.7 L65.22,233.7 L65.64,233.7 L66.06,233.7 L66.49,233.7 L66.91,233.7 L67.33,233.7 L67.76,233.7 L68.18,233.7 L68.61,233.7 L69.03,233.7 L69.45,233.7 L69.88,233.7 L70.3,233.7 L70.72,233.7 L71.15,233.7 L71.57,233.7 L71.99,233.7 L72.42,233.7 L72.84,233.7 L73.26,233.7 L73.69,233.7 L74.11,233.7 L74.53,233.7 L74.96,233.7 L75.38,233.7 L75.81,233.7 L76.23,233.7 L76.65,233.7 L77.08,233.7 L77.5,233.7 L77.5,233.7 L18.2,233.7 Z" stroke="none" stroke-width="1" fill="#c4c4c4"/>
<path d="M18.2,243.3 L18.62,243.3 L19.05,243.3 L19.47,243.3 L19.89,243.3 L20.32,243.3 L20.74,243.3 L21.16,243.3 L21.59,243.3 L22.01,243.3 L22.44,243.3 L22.86,243.3 L23.28,243.3 L23.71,243.3 L24.13,243.3 L24.55,243.3 L24.98,243.3 L25.4,243.3 L25.82,243.3 L26.25,243.3 L26.67,243.3 L27.09,243.3 L27.52,243.3 L27.94,243.3 L28.37,243.3 L28.79,243.3 L29.21,243.3 L29.64,243.3 L30.06,243.3 L30.48,243.3 L30.91,243.3 L31.33,243.3 L31.75,243.3 L32.18,243.3 L32.6,243.3 L33.02,243.3 L33.45,243.3 L33.87,243.3 L34.3,243.3 L34.72,243.3 L35.14,243.3 L35.57,243.29 L35.99,243.29 L36.41,243.28 L36.84,243.27 L37.26,243.25 L37.68,243.22 L38.11,243.18 L38.53,243.12 L38.95,243.03 L39.38,242.91 L39.8,242.74 L40.23,242.52 L40.65,242.22 L41.07,241.83 L41.5,241.33 L41.92,240.69 L42.34,239.91 L42.77,238.96 L43.19,237.83 L43.61,236.51 L44.04,235 L44.46,233.31 L44.88,231.46 L45.31,229.49 L45.73,227.44 L46.16,225.37 L46.58,223.33 L47,221.41 L47.43,219.67 L47.85,218.19 L48.27,217.03 L48.7,216.23 L49.12,215.84 L49.54,215.89 L49.97,216.47 L50.39,217.56 L50.81,219.09 L51.24,220.98 L51.66,223.13 L52.09,225.43 L52.51,227.78 L52.93,230.09 L53.36,232.28 L53.78,234.28 L54.2,236.07 L54.63,237.62 L55.05,238.92 L55.47,239.99 L55.9,240.85 L56.32,241.52 L56.75,242.04 L57.17,242.42 L57.59,242.7 L58.02,242.9 L58.44,243.03 L58.86,243.13 L59.29,243.19 L59.71,243.23 L60.13,243.26 L60.56,243.28 L60.98,243.29 L61.4,243.29 L61.83,243.3 L62.25,243.3 L62.67,243.3 L63.1,243.3 L63.52,243.3 L63.95,243.3 L64.37,243.3 L64.79,243.3 L65.22,243.3 L65.64,243.3 L66.06,243.3 L66.49,243.3 L66.91,243.3 L67.33,243.3 L67.76,243.3 L68.18,243.3 L68.61,243.3 L69.03,243.3 L69.45,243.3 L69.88,243.3 L70.3,243.3 L70.72,243.3 L71.15,243.3 L71.57,243.3 L71.99,243.3 L72.42,243.3 L72.84,243.3 L73.26,243.3 L73.69,243.3 L74.11,243.3 L74.53,243.3 L74.96,243.3 L75.38,243.3 L75.81,243.3 L76.23,243.3 L76.65,243.3 L77.08,243.3 L77.5,243.3" stroke="#bce8e8" stroke-width="0.8" fill="none" stroke-linejoin="round"/>
<path d="M41.07,241.83 L41.5,241.33 L41.92,240.69 L42.34,239.91 L42.77,238.96 L43.19,237.83 L43.61,236.51 L44.04,235 L44.46,233.31 L44.88,231.46 L45.31,229.49 L45.73,227.44 L46.16,225.37 L46.58,223.33 L47,221.41 L47.43,219.67 L47.85,218.19 L48.27,217.03 L48.7,216.23 L49.12,215.84 L49.54,215.89 L49.97,216.47 L50.39,217.56 L50.81,219.09 L51.24,220.98 L51.66,223.13 L52.09,225.43 L52.51,227.78 L52.93,230.09 L53.36,232.28 L53.78,234.28 L54.2,236.07 L54.63,237.62 L55.05,238.92 L55.47,239.99 L55.9,240.85 L56.32,241.52 L56.75,242.04" stroke="#86d8d8" stroke-width="0.8" fill="none" stroke-linejoin="round"/>
<path d="M18.2,241.5 L18.62,241.5 L19.05,241.5 L19.47,241.5 L19.89,241.5 L20.32,241.5 L20.74,241.5 L21.16,241.5 L21.59,241.5 L22.01,241.5 L22.44,241.5 L22.86,241.5 L23.28,241.5 L23.71,241.5 L24.13,241.5 L24.55,241.5 L24.98,241.5 L25.4,241.5 L25.82,241.5 L26.25,241.5 L26.67,241.5 L27.09,241.5 L27.52,241.5 L27.94,241.5 L28.37,241.5 L28.79,241.5 L29.21,241.5 L29.64,241.5 L30.06,241.5 L30.48,241.5 L30.91,241.5 L31.33,241.5 L31.75,241.5 L32.18,241.5 L32.6,241.5 L33.02,241.5 L33.45,241.5 L33.87,241.5 L34.3,241.5 L34.72,241.5 L35.14,241.5 L35.57,241.5 L35.99,241.49 L36.41,241.49 L36.84,241.48 L37.26,241.47 L37.68,241.46 L38.11,241.43 L38.53,241.4 L38.95,241.34 L39.38,241.26 L39.8,241.15 L40.23,240.99 L40.65,240.77 L41.07,240.48 L41.5,240.09 L41.92,239.6 L42.34,238.97 L42.77,238.2 L43.19,237.27 L43.61,236.16 L44.04,234.89 L44.46,233.45 L44.88,231.88 L45.31,230.19 L45.73,228.44 L46.16,226.68 L46.58,224.97 L47,223.39 L47.43,222.01 L47.85,220.88 L48.27,220.06 L48.7,219.6 L49.12,219.52 L49.54,219.82 L49.97,220.48 L50.39,221.48 L50.81,222.77 L51.24,224.28 L51.66,225.94 L52.09,227.68 L52.51,229.44 L52.93,231.16 L53.36,232.79 L53.78,234.29 L54.2,235.64 L54.63,236.81 L55.05,237.82 L55.47,238.66 L55.9,239.35 L56.32,239.89 L56.75,240.32 L57.17,240.65 L57.59,240.9 L58.02,241.08 L58.44,241.22 L58.86,241.31 L59.29,241.37 L59.71,241.42 L60.13,241.45 L60.56,241.47 L60.98,241.48 L61.4,241.49 L61.83,241.49 L62.25,241.5 L62.67,241.5 L63.1,241.5 L63.52,241.5 L63.95,241.5 L64.37,241.5 L64.79,241.5 L65.22,241.5 L65.64,241.5 L66.06,241.5 L66.49,241.5 L66.91,241.5 L67.33,241.5 L67.76,241.5 L68.18,241.5 L68.61,241.5 L69.03,241.5 L69.45,241.5 L69.88,241.5 L70.3,241.5 L70.72,241.5 L71.15,241.5 L71.57,241.5 L71.99,241.5 L72.42,241.5 L72.84,241.5 L73.26,241.5 L73.69,241.5 L74.11,241.5 L74.53,241.5 L74.96,241.5 L75.38,241.5 L75.81,241.5 L76.23,241.5 L76.65,241.5 L77.08,241.5 L77.5,241.5" stroke="#deddb0" stroke-width="0.8" fill="none" stroke-linejoin="round"/>
<path d="M41.5,240.09 L41.92,239.6 L42.34,238.97 L42.77,238.2 L43.19,237.27 L43.61,236.16 L44.04,234.89 L44.46,233.45 L44.88,231.88 L45.31,230.19 L45.73,228.44 L46.16,226.68 L46.58,224.97 L47,223.39 L47.43,222.01 L47.85,220.88 L48.27,220.06 L48.7,219.6 L49.12,219.52 L49.54,219.82 L49.97,220.48 L50.39,221.48 L50.81,222.77 L51.24,224.28 L51.66,225.94 L52.09,227.68 L52.51,229.44 L52.93,231.16 L53.36,232.79 L53.78,234.29 L54.2,235.64 L54.63,236.81 L55.05,237.82 L55.47,238.66 L55.9,239.35 L56.32,239.89" stroke="#c4c468" stroke-width="0.8" fill="none" stroke-linejoin="round"/>
<path d="M18.2,240.1 L18.62,240.1 L19.05,240.1 L19.47,240.1 L19.89,240.1 L20.32,240.1 L20.74,240.1 L21.16,240.1 L21.59,240.1 L22.01,240.1 L22.44,240.1 L22.86,240.1 L23.28,240.1 L23.71,240.1 L24.13,240.1 L24.55,240.1 L24.98,240.1 L25.4,240.1 L25.82,240.1 L26.25,240.1 L26.67,240.1 L27.09,240.1 L27.52,240.1 L27.94,240.1 L28.37,240.1 L28.79,240.1 L29.21,240.1 L29.64,240.1 L30.06,240.1 L30.48,240.1 L30.91,240.1 L31.33,240.1 L31.75,240.1 L32.18,240.1 L32.6,240.1 L33.02,240.1 L33.45,240.1 L33.87,240.1 L34.3,240.09 L34.72,240.09 L35.14,240.08 L35.57,240.07 L35.99,240.06 L36.41,240.03 L36.84,240 L37.26,239.95 L37.68,239.88 L38.11,239.78 L38.53,239.64 L38.95,239.46 L39.38,239.22 L39.8,238.9 L40.23,238.49 L40.65,237.97 L41.07,237.34 L41.5,236.57 L41.92,235.65 L42.34,234.59 L42.77,233.37 L43.19,232.01 L43.61,230.53 L44.04,228.94 L44.46,227.3 L44.88,225.64 L45.31,224.02 L45.73,222.49 L46.16,221.11 L46.58,219.94 L47,219.03 L47.43,218.41 L47.85,218.12 L48.27,218.18 L48.7,218.62 L49.12,219.41 L49.54,220.52 L49.97,221.89 L50.39,223.46 L50.81,225.16 L51.24,226.92 L51.66,228.67 L52.09,230.36 L52.51,231.95 L52.93,233.39 L53.36,234.68 L53.78,235.8 L54.2,236.74 L54.63,237.52 L55.05,238.16 L55.47,238.66 L55.9,239.05 L56.32,239.35 L56.75,239.57 L57.17,239.74 L57.59,239.85 L58.02,239.94 L58.44,239.99 L58.86,240.03 L59.29,240.06 L59.71,240.07 L60.13,240.08 L60.56,240.09 L60.98,240.09 L61.4,240.1 L61.83,240.1 L62.25,240.1 L62.67,240.1 L63.1,240.1 L63.52,240.1 L63.95,240.1 L64.37,240.1 L64.79,240.1 L65.22,240.1 L65.64,240.1 L66.06,240.1 L66.49,240.1 L66.91,240.1 L67.33,240.1 L67.76,240.1 L68.18,240.1 L68.61,240.1 L69.03,240.1 L69.45,240.1 L69.88,240.1 L70.3,240.1 L70.72,240.1 L71.15,240.1 L71.57,240.1 L71.99,240.1 L72.42,240.1 L72.84,240.1 L73.26,240.1 L73.69,240.1 L74.11,240.1 L74.53,240.1 L74.96,240.1 L75.38,240.1 L75.81,240.1 L76.23,240.1 L76.65,240.1 L77.08,240.1 L77.5,240.1" stroke="#eac0a0" stroke-width="0.85" fill="none" stroke-linejoin="round"/>
<path d="M39.8,238.9 L40.23,238.49 L40.65,237.97 L41.07,237.34 L41.5,236.57 L41.92,235.65 L42.34,234.59 L42.77,233.37 L43.19,232.01 L43.61,230.53 L44.04,228.94 L44.46,227.3 L44.88,225.64 L45.31,224.02 L45.73,222.49 L46.16,221.11 L46.58,219.94 L47,219.03 L47.43,218.41 L47.85,218.12 L48.27,218.18 L48.7,218.62 L49.12,219.41 L49.54,220.52 L49.97,221.89 L50.39,223.46 L50.81,225.16 L51.24,226.92 L51.66,228.67 L52.09,230.36 L52.51,231.95 L52.93,233.39 L53.36,234.68 L53.78,235.8 L54.2,236.74 L54.63,237.52 L55.05,238.16 L55.47,238.66" stroke="#dc8846" stroke-width="0.85" fill="none" stroke-linejoin="round"/>
<path d="M18.2,238.4 L18.62,238.4 L19.05,238.4 L19.47,238.4 L19.89,238.4 L20.32,238.4 L20.74,238.4 L21.16,238.4 L21.59,238.4 L22.01,238.4 L22.44,238.4 L22.86,238.4 L23.28,238.4 L23.71,238.4 L24.13,238.4 L24.55,238.4 L24.98,238.4 L25.4,238.4 L25.82,238.4 L26.25,238.4 L26.67,238.4 L27.09,238.4 L27.52,238.4 L27.94,238.4 L28.37,238.4 L28.79,238.4 L29.21,238.4 L29.64,238.4 L30.06,238.4 L30.48,238.39 L30.91,238.39 L31.33,238.37 L31.75,238.36 L32.18,238.33 L32.6,238.29 L33.02,238.22 L33.45,238.13 L33.87,237.98 L34.3,237.78 L34.72,237.5 L35.14,237.11 L35.57,236.6 L35.99,235.93 L36.41,235.08 L36.84,234.02 L37.26,232.74 L37.68,231.23 L38.11,229.5 L38.53,227.56 L38.95,225.47 L39.38,223.27 L39.8,221.05 L40.23,218.89 L40.65,216.91 L41.07,215.18 L41.5,213.81 L41.92,212.88 L42.34,212.44 L42.77,212.59 L43.19,213.65 L43.61,215.53 L44.04,218.04 L44.46,220.93 L44.88,223.95 L45.31,226.89 L45.73,229.56 L46.16,231.86 L46.58,233.74 L47,235.2 L47.43,236.28 L47.85,237.05 L48.27,237.57 L48.7,237.91 L49.12,238.12 L49.54,238.25 L49.97,238.32 L50.39,238.36 L50.81,238.38 L51.24,238.39 L51.66,238.4 L52.09,238.4 L52.51,238.4 L52.93,238.4 L53.36,238.4 L53.78,238.4 L54.2,238.4 L54.63,238.4 L55.05,238.4 L55.47,238.4 L55.9,238.4 L56.32,238.4 L56.75,238.4 L57.17,238.4 L57.59,238.4 L58.02,238.4 L58.44,238.4 L58.86,238.4 L59.29,238.4 L59.71,238.4 L60.13,238.4 L60.56,238.4 L60.98,238.4 L61.4,238.4 L61.83,238.4 L62.25,238.4 L62.67,238.4 L63.1,238.4 L63.52,238.4 L63.95,238.4 L64.37,238.4 L64.79,238.4 L65.22,238.4 L65.64,238.4 L66.06,238.4 L66.49,238.4 L66.91,238.4 L67.33,238.4 L67.76,238.4 L68.18,238.4 L68.61,238.4 L69.03,238.4 L69.45,238.4 L69.88,238.4 L70.3,238.4 L70.72,238.4 L71.15,238.4 L71.57,238.4 L71.99,238.4 L72.42,238.4 L72.84,238.4 L73.26,238.4 L73.69,238.4 L74.11,238.4 L74.53,238.4 L74.96,238.4 L75.38,238.4 L75.81,238.4 L76.23,238.4 L76.65,238.4 L77.08,238.4 L77.5,238.4" stroke="#c4e2a4" stroke-width="0.9" fill="none" stroke-linejoin="round"/>
<path d="M35.14,237.11 L35.57,236.6 L35.99,235.93 L36.41,235.08 L36.84,234.02 L37.26,232.74 L37.68,231.23 L38.11,229.5 L38.53,227.56 L38.95,225.47 L39.38,223.27 L39.8,221.05 L40.23,218.89 L40.65,216.91 L41.07,215.18 L41.5,213.81 L41.92,212.88 L42.34,212.44 L42.77,212.59 L43.19,213.65 L43.61,215.53 L44.04,218.04 L44.46,220.93 L44.88,223.95 L45.31,226.89 L45.73,229.56 L46.16,231.86 L46.58,233.74 L47,235.2 L47.43,236.28 L47.85,237.05" stroke="#86c84c" stroke-width="0.9" fill="none" stroke-linejoin="round"/>
<path d="M18.2,233.7 L18.62,233.7 L19.05,233.7 L19.47,233.7 L19.89,233.7 L20.32,233.7 L20.74,233.7 L21.16,233.7 L21.59,233.7 L22.01,233.7 L22.44,233.7 L22.86,233.7 L23.28,233.7 L23.71,233.7 L24.13,233.7 L24.55,233.7 L24.98,233.7 L25.4,233.7 L25.82,233.69 L26.25,233.69 L26.67,233.69 L27.09,233.68 L27.52,233.67 L27.94,233.65 L28.37,233.63 L28.79,233.59 L29.21,233.54 L29.64,233.47 L30.06,233.37 L30.48,233.24 L30.91,233.06 L31.33,232.83 L31.75,232.53 L32.18,232.15 L32.6,231.67 L33.02,231.08 L33.45,230.36 L33.87,229.51 L34.3,228.52 L34.72,227.38 L35.14,226.09 L35.57,224.67 L35.99,223.13 L36.41,221.49 L36.84,219.8 L37.26,218.09 L37.68,216.41 L38.11,214.8 L38.53,213.32 L38.95,211.96 L39.38,210.73 L39.8,209.57 L40.23,208.5 L40.65,207.62 L41.07,207.62 L41.5,208.99 L41.92,211.65 L42.34,215.19 L42.77,219.01 L43.19,222.61 L43.61,225.67 L44.04,228.1 L44.46,229.94 L44.88,231.27 L45.31,232.2 L45.73,232.81 L46.16,233.19 L46.58,233.42 L47,233.56 L47.43,233.63 L47.85,233.67 L48.27,233.68 L48.7,233.69 L49.12,233.7 L49.54,233.7 L49.97,233.7 L50.39,233.7 L50.81,233.7 L51.24,233.7 L51.66,233.7 L52.09,233.7 L52.51,233.7 L52.93,233.7 L53.36,233.7 L53.78,233.7 L54.2,233.7 L54.63,233.7 L55.05,233.7 L55.47,233.7 L55.9,233.7 L56.32,233.7 L56.75,233.7 L57.17,233.7 L57.59,233.7 L58.02,233.7 L58.44,233.7 L58.86,233.7 L59.29,233.7 L59.71,233.7 L60.13,233.7 L60.56,233.7 L60.98,233.7 L61.4,233.7 L61.83,233.7 L62.25,233.7 L62.67,233.7 L63.1,233.7 L63.52,233.7 L63.95,233.7 L64.37,233.7 L64.79,233.7 L65.22,233.7 L65.64,233.7 L66.06,233.7 L66.49,233.7 L66.91,233.7 L67.33,233.7 L67.76,233.7 L68.18,233.7 L68.61,233.7 L69.03,233.7 L69.45,233.7 L69.88,233.7 L70.3,233.7 L70.72,233.7 L71.15,233.7 L71.57,233.7 L71.99,233.7 L72.42,233.7 L72.84,233.7 L73.26,233.7 L73.69,233.7 L74.11,233.7 L74.53,233.7 L74.96,233.7 L75.38,233.7 L75.81,233.7 L76.23,233.7 L76.65,233.7 L77.08,233.7 L77.5,233.7" stroke="#b4b4b4" stroke-width="1" fill="none" stroke-linejoin="round"/>
<path d="M32.18,232.15 L32.6,231.67 L33.02,231.08 L33.45,230.36 L33.87,229.51 L34.3,228.52 L34.72,227.38 L35.14,226.09 L35.57,224.67 L35.99,223.13 L36.41,221.49 L36.84,219.8 L37.26,218.09 L37.68,216.41 L38.11,214.8 L38.53,213.32 L38.95,211.96 L39.38,210.73 L39.8,209.57 L40.23,208.5 L40.65,207.62 L41.07,207.62 L41.5,208.99 L41.92,211.65 L42.34,215.19 L42.77,219.01 L43.19,222.61 L43.61,225.67 L44.04,228.1 L44.46,229.94 L44.88,231.27 L45.31,232.2" stroke="#666666" stroke-width="1" fill="none" stroke-linejoin="round"/>
<path d="M18.2,236.9 L18.62,236.9 L19.05,236.9 L19.47,236.9 L19.89,236.9 L20.32,236.9 L20.74,236.9 L21.16,236.9 L21.59,236.9 L22.01,236.9 L22.44,236.9 L22.86,236.9 L23.28,236.9 L23.71,236.9 L24.13,236.9 L24.55,236.9 L24.98,236.9 L25.4,236.9 L25.82,236.9 L26.25,236.9 L26.67,236.9 L27.09,236.9 L27.52,236.9 L27.94,236.9 L28.37,236.9 L28.79,236.9 L29.21,236.9 L29.64,236.9 L30.06,236.9 L30.48,236.9 L30.91,236.9 L31.33,236.9 L31.75,236.9 L32.18,236.9 L32.6,236.9 L33.02,236.9 L33.45,236.89 L33.87,236.89 L34.3,236.88 L34.72,236.87 L35.14,236.86 L35.57,236.84 L35.99,236.8 L36.41,236.75 L36.84,236.68 L37.26,236.59 L37.68,236.46 L38.11,236.28 L38.53,236.05 L38.95,235.75 L39.38,235.37 L39.8,234.91 L40.23,234.35 L40.65,233.69 L41.07,232.93 L41.5,232.07 L41.92,231.13 L42.34,230.13 L42.77,229.1 L43.19,228.06 L43.61,227.05 L44.04,226.12 L44.46,225.3 L44.88,224.61 L45.31,224.03 L45.73,223.49 L46.16,222.86 L46.58,222.23 L47,221.29 L47.43,219.66 L47.85,217.2 L48.27,214.21 L48.7,211.5 L49.12,210.07 L49.54,210.56 L49.97,211.75 L50.39,213.23 L50.81,214.97 L51.24,216.96 L51.66,219.13 L52.09,221.39 L52.51,223.66 L52.93,225.84 L53.36,227.87 L53.78,229.69 L54.2,231.28 L54.63,232.61 L55.05,233.7 L55.47,234.57 L55.9,235.24 L56.32,235.75 L56.75,236.11 L57.17,236.38 L57.59,236.56 L58.02,236.68 L58.44,236.77 L58.86,236.82 L59.29,236.85 L59.71,236.87 L60.13,236.88 L60.56,236.89 L60.98,236.9 L61.4,236.9 L61.83,236.9 L62.25,236.9 L62.67,236.9 L63.1,236.9 L63.52,236.9 L63.95,236.9 L64.37,236.9 L64.79,236.9 L65.22,236.9 L65.64,236.9 L66.06,236.9 L66.49,236.9 L66.91,236.9 L67.33,236.9 L67.76,236.9 L68.18,236.9 L68.61,236.9 L69.03,236.9 L69.45,236.9 L69.88,236.9 L70.3,236.9 L70.72,236.9 L71.15,236.9 L71.57,236.9 L71.99,236.9 L72.42,236.9 L72.84,236.9 L73.26,236.9 L73.69,236.9 L74.11,236.9 L74.53,236.9 L74.96,236.9 L75.38,236.9 L75.81,236.9 L76.23,236.9 L76.65,236.9 L77.08,236.9 L77.5,236.9" stroke="#8c8cd8" stroke-width="1.2" fill="none" stroke-linejoin="round"/>
<path d="M39.38,235.37 L39.8,234.91 L40.23,234.35 L40.65,233.69 L41.07,232.93 L41.5,232.07 L41.92,231.13 L42.34,230.13 L42.77,229.1 L43.19,228.06 L43.61,227.05 L44.04,226.12 L44.46,225.3 L44.88,224.61 L45.31,224.03 L45.73,223.49 L46.16,222.86 L46.58,222.23 L47,221.29 L47.43,219.66 L47.85,217.2 L48.27,214.21 L48.7,211.5 L49.12,210.07 L49.54,210.56 L49.97,211.75 L50.39,213.23 L50.81,214.97 L51.24,216.96 L51.66,219.13 L52.09,221.39 L52.51,223.66 L52.93,225.84 L53.36,227.87 L53.78,229.69 L54.2,231.28 L54.63,232.61 L55.05,233.7 L55.47,234.57 L55.9,235.24" stroke="#2c2cb0" stroke-width="1.2" fill="none" stroke-linejoin="round"/>
<line x1="86.4" y1="245.5" x2="143.2" y2="245.5" stroke="#8090aa" stroke-width="0.6" stroke-dasharray="1.2,0.6"/>
<text x="92.3" y="249.1" font-size="4.3" font-weight="normal" text-anchor="middle" fill="#4a4a4a" font-family='"Liberation Sans", sans-serif'>10<tspan font-size="3" dy="-1.6">1</tspan></text>
<text x="112.2" y="249.1" font-size="4.3" font-weight="normal" text-anchor="middle" fill="#4a4a4a" font-family='"Liberation Sans", sans-serif'>10<tspan font-size="3" dy="-1.6">1</tspan></text>
<text x="131.2" y="249.1" font-size="4.3" font-weight="normal" text-anchor="middle" fill="#4a4a4a" font-family='"Liberation Sans", sans-serif'>10<tspan font-size="3" dy="-1.6">1</tspan></text>
<path d="M85.4,243.2 L85.82,243.2 L86.24,243.2 L86.66,243.2 L87.08,243.2 L87.5,243.2 L87.92,243.2 L88.34,243.2 L88.76,243.2 L89.18,243.2 L89.6,243.2 L90.02,243.2 L90.44,243.2 L90.86,243.2 L91.28,243.2 L91.7,243.2 L92.12,243.2 L92.54,243.2 L92.96,243.2 L93.38,243.2 L93.8,243.2 L94.22,243.2 L94.64,243.2 L95.06,243.2 L95.48,243.2 L95.9,243.2 L96.32,243.2 L96.74,243.2 L97.16,243.2 L97.58,243.2 L98,243.2 L98.42,243.2 L98.84,243.2 L99.26,243.2 L99.68,243.2 L100.1,243.2 L100.52,243.2 L100.94,243.2 L101.36,243.2 L101.78,243.2 L102.2,243.2 L102.62,243.2 L103.04,243.2 L103.46,243.2 L103.88,243.2 L104.3,243.2 L104.72,243.2 L105.14,243.2 L105.56,243.2 L105.98,243.2 L106.4,243.2 L106.82,243.2 L107.24,243.2 L107.66,243.2 L108.08,243.2 L108.5,243.2 L108.92,243.2 L109.34,243.2 L109.76,243.2 L110.18,243.2 L110.6,243.19 L111.02,243.18 L111.44,243.17 L111.86,243.14 L112.28,243.1 L112.7,243.03 L113.12,242.92 L113.54,242.74 L113.96,242.48 L114.38,242.1 L114.8,241.57 L115.22,240.83 L115.64,239.86 L116.06,238.59 L116.48,237.02 L116.9,235.12 L117.32,232.92 L117.74,230.44 L118.16,227.78 L118.58,225.04 L119,222.37 L119.42,219.92 L119.84,217.85 L120.26,216.31 L120.68,215.41 L121.1,215.22 L121.52,215.75 L121.94,216.97 L122.36,218.78 L122.78,221.05 L123.2,223.63 L123.62,226.35 L124.04,229.06 L124.46,231.65 L124.88,234 L125.3,236.07 L125.72,237.81 L126.14,239.23 L126.56,240.35 L126.98,241.21 L127.4,241.85 L127.82,242.3 L128.24,242.62 L128.66,242.83 L129.08,242.98 L129.5,243.07 L129.92,243.12 L130.34,243.16 L130.76,243.18 L131.18,243.19 L131.6,243.19 L132.02,243.2 L132.44,243.2 L132.86,243.2 L133.28,243.2 L133.7,243.2 L134.12,243.2 L134.54,243.2 L134.96,243.2 L135.38,243.2 L135.8,243.2 L136.22,243.2 L136.64,243.2 L137.06,243.2 L137.48,243.2 L137.9,243.2 L138.32,243.2 L138.74,243.2 L139.16,243.2 L139.58,243.2 L140,243.2 L140.42,243.2 L140.84,243.2 L141.26,243.2 L141.68,243.2 L142.1,243.2 L142.52,243.2 L142.94,243.2 L143.36,243.2 L143.78,243.2 L144.2,243.2 L144.2,243.2 L85.4,243.2 Z" stroke="none" stroke-width="1" fill="#dcf5f5"/>
<path d="M85.4,233.2 L85.82,233.2 L86.24,233.2 L86.66,233.2 L87.08,233.2 L87.5,233.19 L87.92,233.18 L88.34,233.15 L88.76,233.1 L89.18,233.03 L89.6,232.92 L90.02,232.78 L90.44,232.62 L90.86,232.45 L91.28,232.31 L91.7,232.22 L92.12,232.2 L92.54,232.26 L92.96,232.38 L93.38,232.54 L93.8,232.71 L94.22,232.86 L94.64,232.98 L95.06,233.06 L95.48,233.11 L95.9,233.13 L96.32,233.13 L96.74,233.11 L97.16,233.08 L97.58,233.03 L98,232.96 L98.42,232.86 L98.84,232.74 L99.26,232.57 L99.68,232.36 L100.1,232.08 L100.52,231.73 L100.94,231.3 L101.36,230.77 L101.78,230.13 L102.2,229.37 L102.62,228.48 L103.04,227.45 L103.46,226.29 L103.88,224.99 L104.3,223.56 L104.72,222.02 L105.14,220.39 L105.56,218.71 L105.98,217 L106.4,215.31 L106.82,213.69 L107.24,212.17 L107.66,210.82 L108.08,209.66 L108.5,208.75 L108.92,208.11 L109.34,207.76 L109.76,207.89 L110.18,210.12 L110.6,214.23 L111.02,219.16 L111.44,223.83 L111.86,227.57 L112.28,230.15 L112.7,231.71 L113.12,232.55 L113.54,232.94 L113.96,233.11 L114.38,233.17 L114.8,233.19 L115.22,233.2 L115.64,233.2 L116.06,233.2 L116.48,233.2 L116.9,233.2 L117.32,233.2 L117.74,233.2 L118.16,233.2 L118.58,233.2 L119,233.2 L119.42,233.2 L119.84,233.2 L120.26,233.2 L120.68,233.2 L121.1,233.2 L121.52,233.2 L121.94,233.2 L122.36,233.2 L122.78,233.2 L123.2,233.2 L123.62,233.2 L124.04,233.2 L124.46,233.2 L124.88,233.2 L125.3,233.2 L125.72,233.2 L126.14,233.2 L126.56,233.2 L126.98,233.2 L127.4,233.2 L127.82,233.2 L128.24,233.2 L128.66,233.2 L129.08,233.2 L129.5,233.2 L129.92,233.2 L130.34,233.2 L130.76,233.2 L131.18,233.2 L131.6,233.2 L132.02,233.2 L132.44,233.2 L132.86,233.2 L133.28,233.2 L133.7,233.2 L134.12,233.2 L134.54,233.2 L134.96,233.2 L135.38,233.2 L135.8,233.2 L136.22,233.2 L136.64,233.2 L137.06,233.2 L137.48,233.2 L137.9,233.2 L138.32,233.2 L138.74,233.2 L139.16,233.2 L139.58,233.2 L140,233.2 L140.42,233.2 L140.84,233.2 L141.26,233.2 L141.68,233.2 L142.1,233.2 L142.52,233.2 L142.94,233.2 L143.36,233.2 L143.78,233.2 L144.2,233.2 L144.2,233.2 L85.4,233.2 Z" stroke="none" stroke-width="1" fill="#b0b0b0"/>
<path d="M85.4,243.2 L85.82,243.2 L86.24,243.2 L86.66,243.2 L87.08,243.2 L87.5,243.2 L87.92,243.2 L88.34,243.2 L88.76,243.2 L89.18,243.2 L89.6,243.2 L90.02,243.2 L90.44,243.2 L90.86,243.2 L91.28,243.2 L91.7,243.2 L92.12,243.2 L92.54,243.2 L92.96,243.2 L93.38,243.2 L93.8,243.2 L94.22,243.2 L94.64,243.2 L95.06,243.2 L95.48,243.2 L95.9,243.2 L96.32,243.2 L96.74,243.2 L97.16,243.2 L97.58,243.2 L98,243.2 L98.42,243.2 L98.84,243.2 L99.26,243.2 L99.68,243.2 L100.1,243.2 L100.52,243.2 L100.94,243.2 L101.36,243.2 L101.78,243.2 L102.2,243.2 L102.62,243.2 L103.04,243.2 L103.46,243.2 L103.88,243.2 L104.3,243.2 L104.72,243.2 L105.14,243.2 L105.56,243.2 L105.98,243.2 L106.4,243.2 L106.82,243.2 L107.24,243.2 L107.66,243.2 L108.08,243.2 L108.5,243.2 L108.92,243.2 L109.34,243.2 L109.76,243.2 L110.18,243.2 L110.6,243.19 L111.02,243.18 L111.44,243.17 L111.86,243.14 L112.28,243.1 L112.7,243.03 L113.12,242.92 L113.54,242.74 L113.96,242.48 L114.38,242.1 L114.8,241.57 L115.22,240.83 L115.64,239.86 L116.06,238.59 L116.48,237.02 L116.9,235.12 L117.32,232.92 L117.74,230.44 L118.16,227.78 L118.58,225.04 L119,222.37 L119.42,219.92 L119.84,217.85 L120.26,216.31 L120.68,215.41 L121.1,215.22 L121.52,215.75 L121.94,216.97 L122.36,218.78 L122.78,221.05 L123.2,223.63 L123.62,226.35 L124.04,229.06 L124.46,231.65 L124.88,234 L125.3,236.07 L125.72,237.81 L126.14,239.23 L126.56,240.35 L126.98,241.21 L127.4,241.85 L127.82,242.3 L128.24,242.62 L128.66,242.83 L129.08,242.98 L129.5,243.07 L129.92,243.12 L130.34,243.16 L130.76,243.18 L131.18,243.19 L131.6,243.19 L132.02,243.2 L132.44,243.2 L132.86,243.2 L133.28,243.2 L133.7,243.2 L134.12,243.2 L134.54,243.2 L134.96,243.2 L135.38,243.2 L135.8,243.2 L136.22,243.2 L136.64,243.2 L137.06,243.2 L137.48,243.2 L137.9,243.2 L138.32,243.2 L138.74,243.2 L139.16,243.2 L139.58,243.2 L140,243.2 L140.42,243.2 L140.84,243.2 L141.26,243.2 L141.68,243.2 L142.1,243.2 L142.52,243.2 L142.94,243.2 L143.36,243.2 L143.78,243.2 L144.2,243.2" stroke="#bce8e8" stroke-width="0.8" fill="none" stroke-linejoin="round"/>
<path d="M114.8,241.57 L115.22,240.83 L115.64,239.86 L116.06,238.59 L116.48,237.02 L116.9,235.12 L117.32,232.92 L117.74,230.44 L118.16,227.78 L118.58,225.04 L119,222.37 L119.42,219.92 L119.84,217.85 L120.26,216.31 L120.68,215.41 L121.1,215.22 L121.52,215.75 L121.94,216.97 L122.36,218.78 L122.78,221.05 L123.2,223.63 L123.62,226.35 L124.04,229.06 L124.46,231.65 L124.88,234 L125.3,236.07 L125.72,237.81 L126.14,239.23 L126.56,240.35 L126.98,241.21 L127.4,241.85" stroke="#86d8d8" stroke-width="0.8" fill="none" stroke-linejoin="round"/>
<path d="M85.4,240.3 L85.82,240.3 L86.24,240.3 L86.66,240.3 L87.08,240.3 L87.5,240.3 L87.92,240.3 L88.34,240.3 L88.76,240.3 L89.18,240.3 L89.6,240.3 L90.02,240.3 L90.44,240.3 L90.86,240.3 L91.28,240.3 L91.7,240.3 L92.12,240.3 L92.54,240.3 L92.96,240.3 L93.38,240.3 L93.8,240.3 L94.22,240.3 L94.64,240.3 L95.06,240.3 L95.48,240.3 L95.9,240.3 L96.32,240.3 L96.74,240.3 L97.16,240.3 L97.58,240.3 L98,240.3 L98.42,240.3 L98.84,240.3 L99.26,240.3 L99.68,240.3 L100.1,240.3 L100.52,240.3 L100.94,240.3 L101.36,240.3 L101.78,240.3 L102.2,240.3 L102.62,240.3 L103.04,240.3 L103.46,240.3 L103.88,240.3 L104.3,240.3 L104.72,240.29 L105.14,240.29 L105.56,240.28 L105.98,240.26 L106.4,240.22 L106.82,240.16 L107.24,240.05 L107.66,239.89 L108.08,239.63 L108.5,239.25 L108.92,238.69 L109.34,237.92 L109.76,236.89 L110.18,235.55 L110.6,233.89 L111.02,231.91 L111.44,229.65 L111.86,227.19 L112.28,224.65 L112.7,222.18 L113.12,219.96 L113.54,218.15 L113.96,216.9 L114.38,216.33 L114.8,216.72 L115.22,218.61 L115.64,221.68 L116.06,225.38 L116.48,229.14 L116.9,232.51 L117.32,235.22 L117.74,237.21 L118.16,238.55 L118.58,239.37 L119,239.84 L119.42,240.09 L119.84,240.21 L120.26,240.26 L120.68,240.29 L121.1,240.3 L121.52,240.3 L121.94,240.3 L122.36,240.3 L122.78,240.3 L123.2,240.3 L123.62,240.3 L124.04,240.3 L124.46,240.3 L124.88,240.3 L125.3,240.3 L125.72,240.3 L126.14,240.3 L126.56,240.3 L126.98,240.3 L127.4,240.3 L127.82,240.3 L128.24,240.3 L128.66,240.3 L129.08,240.3 L129.5,240.3 L129.92,240.3 L130.34,240.3 L130.76,240.3 L131.18,240.3 L131.6,240.3 L132.02,240.3 L132.44,240.3 L132.86,240.3 L133.28,240.3 L133.7,240.3 L134.12,240.3 L134.54,240.3 L134.96,240.3 L135.38,240.3 L135.8,240.3 L136.22,240.3 L136.64,240.3 L137.06,240.3 L137.48,240.3 L137.9,240.3 L138.32,240.3 L138.74,240.3 L139.16,240.3 L139.58,240.3 L140,240.3 L140.42,240.3 L140.84,240.3 L141.26,240.3 L141.68,240.3 L142.1,240.3 L142.52,240.3 L142.94,240.3 L143.36,240.3 L143.78,240.3 L144.2,240.3" stroke="#deddb0" stroke-width="0.8" fill="none" stroke-linejoin="round"/>
<path d="M108.92,238.69 L109.34,237.92 L109.76,236.89 L110.18,235.55 L110.6,233.89 L111.02,231.91 L111.44,229.65 L111.86,227.19 L112.28,224.65 L112.7,222.18 L113.12,219.96 L113.54,218.15 L113.96,216.9 L114.38,216.33 L114.8,216.72 L115.22,218.61 L115.64,221.68 L116.06,225.38 L116.48,229.14 L116.9,232.51 L117.32,235.22 L117.74,237.21 L118.16,238.55" stroke="#c4c468" stroke-width="0.8" fill="none" stroke-linejoin="round"/>
<path d="M85.4,241.5 L85.82,241.5 L86.24,241.5 L86.66,241.5 L87.08,241.5 L87.5,241.5 L87.92,241.5 L88.34,241.5 L88.76,241.5 L89.18,241.5 L89.6,241.5 L90.02,241.5 L90.44,241.5 L90.86,241.5 L91.28,241.5 L91.7,241.5 L92.12,241.5 L92.54,241.5 L92.96,241.5 L93.38,241.5 L93.8,241.5 L94.22,241.5 L94.64,241.5 L95.06,241.5 L95.48,241.5 L95.9,241.5 L96.32,241.5 L96.74,241.5 L97.16,241.5 L97.58,241.5 L98,241.5 L98.42,241.5 L98.84,241.5 L99.26,241.5 L99.68,241.5 L100.1,241.5 L100.52,241.5 L100.94,241.5 L101.36,241.5 L101.78,241.5 L102.2,241.5 L102.62,241.5 L103.04,241.5 L103.46,241.5 L103.88,241.5 L104.3,241.5 L104.72,241.5 L105.14,241.5 L105.56,241.5 L105.98,241.5 L106.4,241.5 L106.82,241.5 L107.24,241.5 L107.66,241.5 L108.08,241.5 L108.5,241.5 L108.92,241.5 L109.34,241.5 L109.76,241.5 L110.18,241.49 L110.6,241.48 L111.02,241.47 L111.44,241.44 L111.86,241.38 L112.28,241.29 L112.7,241.15 L113.12,240.93 L113.54,240.61 L113.96,240.17 L114.38,239.6 L114.8,238.88 L115.22,238.02 L115.64,237.07 L116.06,236.04 L116.48,234.98 L116.9,233.94 L117.32,232.92 L117.74,231.93 L118.16,230.94 L118.58,229.88 L119,228.72 L119.42,227.41 L119.84,225.92 L120.26,224.29 L120.68,222.59 L121.1,220.93 L121.52,219.44 L121.94,218.27 L122.36,217.53 L122.78,217.32 L123.2,217.68 L123.62,218.61 L124.04,220.05 L124.46,221.91 L124.88,224.07 L125.3,226.38 L125.72,228.72 L126.14,230.98 L126.56,233.06 L126.98,234.91 L127.4,236.48 L127.82,237.78 L128.24,238.81 L128.66,239.61 L129.08,240.2 L129.5,240.63 L129.92,240.94 L130.34,241.14 L130.76,241.28 L131.18,241.37 L131.6,241.42 L132.02,241.46 L132.44,241.48 L132.86,241.49 L133.28,241.49 L133.7,241.5 L134.12,241.5 L134.54,241.5 L134.96,241.5 L135.38,241.5 L135.8,241.5 L136.22,241.5 L136.64,241.5 L137.06,241.5 L137.48,241.5 L137.9,241.5 L138.32,241.5 L138.74,241.5 L139.16,241.5 L139.58,241.5 L140,241.5 L140.42,241.5 L140.84,241.5 L141.26,241.5 L141.68,241.5 L142.1,241.5 L142.52,241.5 L142.94,241.5 L143.36,241.5 L143.78,241.5 L144.2,241.5" stroke="#eac0a0" stroke-width="0.9" fill="none" stroke-linejoin="round"/>
<path d="M113.96,240.17 L114.38,239.6 L114.8,238.88 L115.22,238.02 L115.64,237.07 L116.06,236.04 L116.48,234.98 L116.9,233.94 L117.32,232.92 L117.74,231.93 L118.16,230.94 L118.58,229.88 L119,228.72 L119.42,227.41 L119.84,225.92 L120.26,224.29 L120.68,222.59 L121.1,220.93 L121.52,219.44 L121.94,218.27 L122.36,217.53 L122.78,217.32 L123.2,217.68 L123.62,218.61 L124.04,220.05 L124.46,221.91 L124.88,224.07 L125.3,226.38 L125.72,228.72 L126.14,230.98 L126.56,233.06 L126.98,234.91 L127.4,236.48 L127.82,237.78 L128.24,238.81 L128.66,239.61 L129.08,240.2" stroke="#dc8846" stroke-width="0.9" fill="none" stroke-linejoin="round"/>
<path d="M85.4,239.2 L85.82,239.2 L86.24,239.2 L86.66,239.2 L87.08,239.2 L87.5,239.2 L87.92,239.2 L88.34,239.2 L88.76,239.2 L89.18,239.2 L89.6,239.2 L90.02,239.2 L90.44,239.2 L90.86,239.2 L91.28,239.2 L91.7,239.2 L92.12,239.2 L92.54,239.2 L92.96,239.2 L93.38,239.2 L93.8,239.2 L94.22,239.2 L94.64,239.2 L95.06,239.2 L95.48,239.2 L95.9,239.2 L96.32,239.2 L96.74,239.2 L97.16,239.2 L97.58,239.2 L98,239.2 L98.42,239.2 L98.84,239.2 L99.26,239.2 L99.68,239.2 L100.1,239.2 L100.52,239.2 L100.94,239.2 L101.36,239.2 L101.78,239.2 L102.2,239.2 L102.62,239.2 L103.04,239.2 L103.46,239.2 L103.88,239.2 L104.3,239.19 L104.72,239.19 L105.14,239.17 L105.56,239.15 L105.98,239.1 L106.4,239.01 L106.82,238.86 L107.24,238.62 L107.66,238.24 L108.08,237.66 L108.5,236.82 L108.92,235.66 L109.34,234.11 L109.76,232.16 L110.18,229.8 L110.6,227.1 L111.02,224.18 L111.44,221.22 L111.86,218.46 L112.28,216.12 L112.7,214.44 L113.12,213.59 L113.54,213.79 L113.96,215.6 L114.38,218.74 L114.8,222.64 L115.22,226.69 L115.64,230.38 L116.06,233.4 L116.48,235.63 L116.9,237.16 L117.32,238.11 L117.74,238.65 L118.16,238.95 L118.58,239.09 L119,239.15 L119.42,239.18 L119.84,239.19 L120.26,239.2 L120.68,239.2 L121.1,239.2 L121.52,239.2 L121.94,239.2 L122.36,239.2 L122.78,239.2 L123.2,239.2 L123.62,239.2 L124.04,239.2 L124.46,239.2 L124.88,239.2 L125.3,239.2 L125.72,239.2 L126.14,239.2 L126.56,239.2 L126.98,239.2 L127.4,239.2 L127.82,239.2 L128.24,239.2 L128.66,239.2 L129.08,239.2 L129.5,239.2 L129.92,239.2 L130.34,239.2 L130.76,239.2 L131.18,239.2 L131.6,239.2 L132.02,239.2 L132.44,239.2 L132.86,239.2 L133.28,239.2 L133.7,239.2 L134.12,239.2 L134.54,239.2 L134.96,239.2 L135.38,239.2 L135.8,239.2 L136.22,239.2 L136.64,239.2 L137.06,239.2 L137.48,239.2 L137.9,239.2 L138.32,239.2 L138.74,239.2 L139.16,239.2 L139.58,239.2 L140,239.2 L140.42,239.2 L140.84,239.2 L141.26,239.2 L141.68,239.2 L142.1,239.2 L142.52,239.2 L142.94,239.2 L143.36,239.2 L143.78,239.2 L144.2,239.2" stroke="#c4e2a4" stroke-width="0.9" fill="none" stroke-linejoin="round"/>
<path d="M108.08,237.66 L108.5,236.82 L108.92,235.66 L109.34,234.11 L109.76,232.16 L110.18,229.8 L110.6,227.1 L111.02,224.18 L111.44,221.22 L111.86,218.46 L112.28,216.12 L112.7,214.44 L113.12,213.59 L113.54,213.79 L113.96,215.6 L114.38,218.74 L114.8,222.64 L115.22,226.69 L115.64,230.38 L116.06,233.4 L116.48,235.63 L116.9,237.16" stroke="#86c84c" stroke-width="0.9" fill="none" stroke-linejoin="round"/>
<path d="M85.4,233.2 L85.82,233.2 L86.24,233.2 L86.66,233.2 L87.08,233.2 L87.5,233.19 L87.92,233.18 L88.34,233.15 L88.76,233.1 L89.18,233.03 L89.6,232.92 L90.02,232.78 L90.44,232.62 L90.86,232.45 L91.28,232.31 L91.7,232.22 L92.12,232.2 L92.54,232.26 L92.96,232.38 L93.38,232.54 L93.8,232.71 L94.22,232.86 L94.64,232.98 L95.06,233.06 L95.48,233.11 L95.9,233.13 L96.32,233.13 L96.74,233.11 L97.16,233.08 L97.58,233.03 L98,232.96 L98.42,232.86 L98.84,232.74 L99.26,232.57 L99.68,232.36 L100.1,232.08 L100.52,231.73 L100.94,231.3 L101.36,230.77 L101.78,230.13 L102.2,229.37 L102.62,228.48 L103.04,227.45 L103.46,226.29 L103.88,224.99 L104.3,223.56 L104.72,222.02 L105.14,220.39 L105.56,218.71 L105.98,217 L106.4,215.31 L106.82,213.69 L107.24,212.17 L107.66,210.82 L108.08,209.66 L108.5,208.75 L108.92,208.11 L109.34,207.76 L109.76,207.89 L110.18,210.12 L110.6,214.23 L111.02,219.16 L111.44,223.83 L111.86,227.57 L112.28,230.15 L112.7,231.71 L113.12,232.55 L113.54,232.94 L113.96,233.11 L114.38,233.17 L114.8,233.19 L115.22,233.2 L115.64,233.2 L116.06,233.2 L116.48,233.2 L116.9,233.2 L117.32,233.2 L117.74,233.2 L118.16,233.2 L118.58,233.2 L119,233.2 L119.42,233.2 L119.84,233.2 L120.26,233.2 L120.68,233.2 L121.1,233.2 L121.52,233.2 L121.94,233.2 L122.36,233.2 L122.78,233.2 L123.2,233.2 L123.62,233.2 L124.04,233.2 L124.46,233.2 L124.88,233.2 L125.3,233.2 L125.72,233.2 L126.14,233.2 L126.56,233.2 L126.98,233.2 L127.4,233.2 L127.82,233.2 L128.24,233.2 L128.66,233.2 L129.08,233.2 L129.5,233.2 L129.92,233.2 L130.34,233.2 L130.76,233.2 L131.18,233.2 L131.6,233.2 L132.02,233.2 L132.44,233.2 L132.86,233.2 L133.28,233.2 L133.7,233.2 L134.12,233.2 L134.54,233.2 L134.96,233.2 L135.38,233.2 L135.8,233.2 L136.22,233.2 L136.64,233.2 L137.06,233.2 L137.48,233.2 L137.9,233.2 L138.32,233.2 L138.74,233.2 L139.16,233.2 L139.58,233.2 L140,233.2 L140.42,233.2 L140.84,233.2 L141.26,233.2 L141.68,233.2 L142.1,233.2 L142.52,233.2 L142.94,233.2 L143.36,233.2 L143.78,233.2 L144.2,233.2" stroke="#b4b4b4" stroke-width="1" fill="none" stroke-linejoin="round"/>
<path d="M100.52,231.73 L100.94,231.3 L101.36,230.77 L101.78,230.13 L102.2,229.37 L102.62,228.48 L103.04,227.45 L103.46,226.29 L103.88,224.99 L104.3,223.56 L104.72,222.02 L105.14,220.39 L105.56,218.71 L105.98,217 L106.4,215.31 L106.82,213.69 L107.24,212.17 L107.66,210.82 L108.08,209.66 L108.5,208.75 L108.92,208.11 L109.34,207.76 L109.76,207.89 L110.18,210.12 L110.6,214.23 L111.02,219.16 L111.44,223.83 L111.86,227.57 L112.28,230.15 L112.7,231.71" stroke="#666666" stroke-width="1" fill="none" stroke-linejoin="round"/>
<path d="M85.4,236.8 L85.82,236.8 L86.24,236.8 L86.66,236.8 L87.08,236.8 L87.5,236.8 L87.92,236.8 L88.34,236.8 L88.76,236.8 L89.18,236.8 L89.6,236.8 L90.02,236.8 L90.44,236.8 L90.86,236.8 L91.28,236.8 L91.7,236.8 L92.12,236.8 L92.54,236.8 L92.96,236.8 L93.38,236.8 L93.8,236.8 L94.22,236.8 L94.64,236.8 L95.06,236.8 L95.48,236.8 L95.9,236.8 L96.32,236.8 L96.74,236.8 L97.16,236.8 L97.58,236.8 L98,236.8 L98.42,236.8 L98.84,236.8 L99.26,236.8 L99.68,236.8 L100.1,236.8 L100.52,236.8 L100.94,236.8 L101.36,236.8 L101.78,236.8 L102.2,236.8 L102.62,236.8 L103.04,236.8 L103.46,236.8 L103.88,236.8 L104.3,236.8 L104.72,236.8 L105.14,236.8 L105.56,236.8 L105.98,236.8 L106.4,236.8 L106.82,236.8 L107.24,236.8 L107.66,236.8 L108.08,236.8 L108.5,236.8 L108.92,236.8 L109.34,236.8 L109.76,236.8 L110.18,236.8 L110.6,236.8 L111.02,236.8 L111.44,236.8 L111.86,236.8 L112.28,236.8 L112.7,236.8 L113.12,236.8 L113.54,236.8 L113.96,236.8 L114.38,236.8 L114.8,236.8 L115.22,236.79 L115.64,236.76 L116.06,236.63 L116.48,236.2 L116.9,235.08 L117.32,232.66 L117.74,228.44 L118.16,222.61 L118.58,216.54 L119,212.36 L119.42,211.67 L119.84,214.34 L120.26,218.52 L120.68,222.07 L121.1,223.8 L121.52,223.86 L121.94,223.18 L122.36,222.7 L122.78,222.86 L123.2,223.37 L123.62,224.24 L124.04,225.4 L124.46,226.76 L124.88,228.2 L125.3,229.6 L125.72,230.83 L126.14,231.79 L126.56,232.37 L126.98,232.55 L127.4,232.43 L127.82,232.19 L128.24,232.09 L128.66,232.29 L129.08,232.64 L129.5,233.07 L129.92,233.57 L130.34,234.11 L130.76,234.65 L131.18,235.15 L131.6,235.59 L132.02,235.94 L132.44,236.22 L132.86,236.43 L133.28,236.57 L133.7,236.66 L134.12,236.72 L134.54,236.76 L134.96,236.78 L135.38,236.79 L135.8,236.79 L136.22,236.8 L136.64,236.8 L137.06,236.8 L137.48,236.8 L137.9,236.8 L138.32,236.8 L138.74,236.8 L139.16,236.8 L139.58,236.8 L140,236.8 L140.42,236.8 L140.84,236.8 L141.26,236.8 L141.68,236.8 L142.1,236.8 L142.52,236.8 L142.94,236.8 L143.36,236.8 L143.78,236.8 L144.2,236.8" stroke="#8c8cd8" stroke-width="1.2" fill="none" stroke-linejoin="round"/>
<path d="M116.9,235.08 L117.32,232.66 L117.74,228.44 L118.16,222.61 L118.58,216.54 L119,212.36 L119.42,211.67 L119.84,214.34 L120.26,218.52 L120.68,222.07 L121.1,223.8 L121.52,223.86 L121.94,223.18 L122.36,222.7 L122.78,222.86 L123.2,223.37 L123.62,224.24 L124.04,225.4 L124.46,226.76 L124.88,228.2 L125.3,229.6 L125.72,230.83 L126.14,231.79 L126.56,232.37 L126.98,232.55 L127.4,232.43 L127.82,232.19 L128.24,232.09 L128.66,232.29 L129.08,232.64 L129.5,233.07 L129.92,233.57 L130.34,234.11 L130.76,234.65 L131.18,235.15 L131.6,235.59" stroke="#2c2cb0" stroke-width="1.2" fill="none" stroke-linejoin="round"/>
<line x1="152" y1="245.5" x2="210.6" y2="245.5" stroke="#8090aa" stroke-width="0.6" stroke-dasharray="1.2,0.6"/>
<text x="157.1" y="249.2" font-size="4.3" font-weight="normal" text-anchor="middle" fill="#4a4a4a" font-family='"Liberation Sans", sans-serif'>10<tspan font-size="3" dy="-1.6">1</tspan></text>
<text x="174.4" y="249.2" font-size="4.3" font-weight="normal" text-anchor="middle" fill="#4a4a4a" font-family='"Liberation Sans", sans-serif'>10<tspan font-size="3" dy="-1.6">1</tspan></text>
<text x="191.4" y="249.2" font-size="4.3" font-weight="normal" text-anchor="middle" fill="#4a4a4a" font-family='"Liberation Sans", sans-serif'>10<tspan font-size="3" dy="-1.6">1</tspan></text>
<text x="208.2" y="249.2" font-size="4.3" font-weight="normal" text-anchor="middle" fill="#4a4a4a" font-family='"Liberation Sans", sans-serif'>10<tspan font-size="3" dy="-1.6">1</tspan></text>
<path d="M151,243.2 L151.43,243.2 L151.87,243.2 L152.3,243.2 L152.73,243.2 L153.16,243.2 L153.6,243.2 L154.03,243.2 L154.46,243.2 L154.9,243.2 L155.33,243.2 L155.76,243.2 L156.19,243.2 L156.63,243.2 L157.06,243.2 L157.49,243.2 L157.93,243.2 L158.36,243.2 L158.79,243.2 L159.22,243.2 L159.66,243.2 L160.09,243.2 L160.52,243.2 L160.96,243.2 L161.39,243.2 L161.82,243.2 L162.25,243.2 L162.69,243.2 L163.12,243.2 L163.55,243.2 L163.99,243.2 L164.42,243.2 L164.85,243.2 L165.28,243.2 L165.72,243.2 L166.15,243.2 L166.58,243.2 L167.02,243.2 L167.45,243.2 L167.88,243.2 L168.31,243.2 L168.75,243.2 L169.18,243.2 L169.61,243.2 L170.05,243.2 L170.48,243.2 L170.91,243.2 L171.34,243.2 L171.78,243.2 L172.21,243.2 L172.64,243.19 L173.08,243.19 L173.51,243.18 L173.94,243.16 L174.37,243.13 L174.81,243.08 L175.24,243.01 L175.67,242.89 L176.11,242.71 L176.54,242.45 L176.97,242.09 L177.4,241.58 L177.84,240.89 L178.27,240 L178.7,238.86 L179.14,237.45 L179.57,235.77 L180,233.82 L180.43,231.64 L180.87,229.3 L181.3,226.87 L181.73,224.47 L182.17,222.22 L182.6,220.26 L183.03,218.71 L183.46,217.67 L183.9,217.22 L184.33,217.36 L184.76,218.03 L185.2,219.19 L185.63,220.76 L186.06,222.67 L186.49,224.8 L186.93,227.05 L187.36,229.31 L187.79,231.51 L188.23,233.56 L188.66,235.41 L189.09,237.04 L189.52,238.43 L189.96,239.58 L190.39,240.51 L190.82,241.24 L191.26,241.8 L191.69,242.23 L192.12,242.53 L192.55,242.75 L192.99,242.91 L193.42,243.01 L193.85,243.08 L194.29,243.13 L194.72,243.16 L195.15,243.17 L195.58,243.18 L196.02,243.19 L196.45,243.2 L196.88,243.2 L197.32,243.2 L197.75,243.2 L198.18,243.2 L198.61,243.2 L199.05,243.2 L199.48,243.2 L199.91,243.2 L200.35,243.2 L200.78,243.2 L201.21,243.2 L201.64,243.2 L202.08,243.2 L202.51,243.2 L202.94,243.2 L203.38,243.2 L203.81,243.2 L204.24,243.2 L204.67,243.2 L205.11,243.2 L205.54,243.2 L205.97,243.2 L206.41,243.2 L206.84,243.2 L207.27,243.2 L207.7,243.2 L208.14,243.2 L208.57,243.2 L209,243.2 L209.44,243.2 L209.87,243.2 L210.3,243.2 L210.73,243.2 L211.17,243.2 L211.6,243.2 L211.6,243.2 L151,243.2 Z" stroke="none" stroke-width="1" fill="#dcf5f5"/>
<path d="M151,233.5 L151.43,233.5 L151.87,233.5 L152.3,233.5 L152.73,233.5 L153.16,233.5 L153.6,233.5 L154.03,233.5 L154.46,233.5 L154.9,233.5 L155.33,233.5 L155.76,233.5 L156.19,233.5 L156.63,233.5 L157.06,233.49 L157.49,233.49 L157.93,233.49 L158.36,233.48 L158.79,233.47 L159.22,233.45 L159.66,233.42 L160.09,233.39 L160.52,233.34 L160.96,233.27 L161.39,233.17 L161.82,233.04 L162.25,232.87 L162.69,232.64 L163.12,232.36 L163.55,231.99 L163.99,231.53 L164.42,230.97 L164.85,230.29 L165.28,229.47 L165.72,228.52 L166.15,227.41 L166.58,226.16 L167.02,224.77 L167.45,223.25 L167.88,221.61 L168.31,219.89 L168.75,218.13 L169.18,216.36 L169.61,214.63 L170.05,213 L170.48,211.51 L170.91,210.22 L171.34,209.17 L171.78,208.4 L172.21,207.93 L172.64,207.81 L173.08,209.24 L173.51,212.68 L173.94,217.26 L174.37,221.99 L174.81,226.08 L175.24,229.16 L175.67,231.19 L176.11,232.38 L176.54,233.01 L176.97,233.3 L177.4,233.43 L177.84,233.48 L178.27,233.49 L178.7,233.5 L179.14,233.5 L179.57,233.5 L180,233.5 L180.43,233.5 L180.87,233.5 L181.3,233.5 L181.73,233.5 L182.17,233.5 L182.6,233.5 L183.03,233.5 L183.46,233.5 L183.9,233.5 L184.33,233.5 L184.76,233.5 L185.2,233.5 L185.63,233.5 L186.06,233.5 L186.49,233.5 L186.93,233.5 L187.36,233.5 L187.79,233.5 L188.23,233.5 L188.66,233.5 L189.09,233.5 L189.52,233.5 L189.96,233.5 L190.39,233.5 L190.82,233.5 L191.26,233.5 L191.69,233.5 L192.12,233.5 L192.55,233.5 L192.99,233.5 L193.42,233.5 L193.85,233.5 L194.29,233.5 L194.72,233.5 L195.15,233.5 L195.58,233.5 L196.02,233.5 L196.45,233.5 L196.88,233.5 L197.32,233.5 L197.75,233.5 L198.18,233.5 L198.61,233.5 L199.05,233.5 L199.48,233.5 L199.91,233.5 L200.35,233.5 L200.78,233.5 L201.21,233.5 L201.64,233.5 L202.08,233.5 L202.51,233.5 L202.94,233.5 L203.38,233.5 L203.81,233.5 L204.24,233.5 L204.67,233.5 L205.11,233.5 L205.54,233.5 L205.97,233.5 L206.41,233.5 L206.84,233.5 L207.27,233.5 L207.7,233.5 L208.14,233.5 L208.57,233.5 L209,233.5 L209.44,233.5 L209.87,233.5 L210.3,233.5 L210.73,233.5 L211.17,233.5 L211.6,233.5 L211.6,233.5 L151,233.5 Z" stroke="none" stroke-width="1" fill="#a8a8a8"/>
<path d="M151,243.2 L151.43,243.2 L151.87,243.2 L152.3,243.2 L152.73,243.2 L153.16,243.2 L153.6,243.2 L154.03,243.2 L154.46,243.2 L154.9,243.2 L155.33,243.2 L155.76,243.2 L156.19,243.2 L156.63,243.2 L157.06,243.2 L157.49,243.2 L157.93,243.2 L158.36,243.2 L158.79,243.2 L159.22,243.2 L159.66,243.2 L160.09,243.2 L160.52,243.2 L160.96,243.2 L161.39,243.2 L161.82,243.2 L162.25,243.2 L162.69,243.2 L163.12,243.2 L163.55,243.2 L163.99,243.2 L164.42,243.2 L164.85,243.2 L165.28,243.2 L165.72,243.2 L166.15,243.2 L166.58,243.2 L167.02,243.2 L167.45,243.2 L167.88,243.2 L168.31,243.2 L168.75,243.2 L169.18,243.2 L169.61,243.2 L170.05,243.2 L170.48,243.2 L170.91,243.2 L171.34,243.2 L171.78,243.2 L172.21,243.2 L172.64,243.19 L173.08,243.19 L173.51,243.18 L173.94,243.16 L174.37,243.13 L174.81,243.08 L175.24,243.01 L175.67,242.89 L176.11,242.71 L176.54,242.45 L176.97,242.09 L177.4,241.58 L177.84,240.89 L178.27,240 L178.7,238.86 L179.14,237.45 L179.57,235.77 L180,233.82 L180.43,231.64 L180.87,229.3 L181.3,226.87 L181.73,224.47 L182.17,222.22 L182.6,220.26 L183.03,218.71 L183.46,217.67 L183.9,217.22 L184.33,217.36 L184.76,218.03 L185.2,219.19 L185.63,220.76 L186.06,222.67 L186.49,224.8 L186.93,227.05 L187.36,229.31 L187.79,231.51 L188.23,233.56 L188.66,235.41 L189.09,237.04 L189.52,238.43 L189.96,239.58 L190.39,240.51 L190.82,241.24 L191.26,241.8 L191.69,242.23 L192.12,242.53 L192.55,242.75 L192.99,242.91 L193.42,243.01 L193.85,243.08 L194.29,243.13 L194.72,243.16 L195.15,243.17 L195.58,243.18 L196.02,243.19 L196.45,243.2 L196.88,243.2 L197.32,243.2 L197.75,243.2 L198.18,243.2 L198.61,243.2 L199.05,243.2 L199.48,243.2 L199.91,243.2 L200.35,243.2 L200.78,243.2 L201.21,243.2 L201.64,243.2 L202.08,243.2 L202.51,243.2 L202.94,243.2 L203.38,243.2 L203.81,243.2 L204.24,243.2 L204.67,243.2 L205.11,243.2 L205.54,243.2 L205.97,243.2 L206.41,243.2 L206.84,243.2 L207.27,243.2 L207.7,243.2 L208.14,243.2 L208.57,243.2 L209,243.2 L209.44,243.2 L209.87,243.2 L210.3,243.2 L210.73,243.2 L211.17,243.2 L211.6,243.2" stroke="#bce8e8" stroke-width="0.8" fill="none" stroke-linejoin="round"/>
<path d="M177.4,241.58 L177.84,240.89 L178.27,240 L178.7,238.86 L179.14,237.45 L179.57,235.77 L180,233.82 L180.43,231.64 L180.87,229.3 L181.3,226.87 L181.73,224.47 L182.17,222.22 L182.6,220.26 L183.03,218.71 L183.46,217.67 L183.9,217.22 L184.33,217.36 L184.76,218.03 L185.2,219.19 L185.63,220.76 L186.06,222.67 L186.49,224.8 L186.93,227.05 L187.36,229.31 L187.79,231.51 L188.23,233.56 L188.66,235.41 L189.09,237.04 L189.52,238.43 L189.96,239.58 L190.39,240.51 L190.82,241.24 L191.26,241.8" stroke="#86d8d8" stroke-width="0.8" fill="none" stroke-linejoin="round"/>
<path d="M151,240.3 L151.43,240.3 L151.87,240.3 L152.3,240.3 L152.73,240.3 L153.16,240.3 L153.6,240.3 L154.03,240.3 L154.46,240.3 L154.9,240.3 L155.33,240.3 L155.76,240.3 L156.19,240.3 L156.63,240.3 L157.06,240.3 L157.49,240.3 L157.93,240.3 L158.36,240.3 L158.79,240.3 L159.22,240.3 L159.66,240.3 L160.09,240.3 L160.52,240.3 L160.96,240.3 L161.39,240.3 L161.82,240.3 L162.25,240.3 L162.69,240.3 L163.12,240.3 L163.55,240.3 L163.99,240.3 L164.42,240.3 L164.85,240.3 L165.28,240.3 L165.72,240.3 L166.15,240.3 L166.58,240.3 L167.02,240.3 L167.45,240.3 L167.88,240.29 L168.31,240.29 L168.75,240.28 L169.18,240.26 L169.61,240.23 L170.05,240.18 L170.48,240.09 L170.91,239.96 L171.34,239.76 L171.78,239.45 L172.21,239.01 L172.64,238.4 L173.08,237.58 L173.51,236.5 L173.94,235.14 L174.37,233.49 L174.81,231.55 L175.24,229.36 L175.67,227.01 L176.11,224.59 L176.54,222.24 L176.97,220.11 L177.4,218.34 L177.84,217.07 L178.27,216.39 L178.7,216.45 L179.14,217.75 L179.57,220.18 L180,223.35 L180.43,226.83 L180.87,230.19 L181.3,233.14 L181.73,235.52 L182.17,237.28 L182.6,238.5 L183.03,239.29 L183.46,239.76 L183.9,240.03 L184.33,240.17 L184.76,240.24 L185.2,240.28 L185.63,240.29 L186.06,240.3 L186.49,240.3 L186.93,240.3 L187.36,240.3 L187.79,240.3 L188.23,240.3 L188.66,240.3 L189.09,240.3 L189.52,240.3 L189.96,240.3 L190.39,240.3 L190.82,240.3 L191.26,240.3 L191.69,240.3 L192.12,240.3 L192.55,240.3 L192.99,240.3 L193.42,240.3 L193.85,240.3 L194.29,240.3 L194.72,240.3 L195.15,240.3 L195.58,240.3 L196.02,240.3 L196.45,240.3 L196.88,240.3 L197.32,240.3 L197.75,240.3 L198.18,240.3 L198.61,240.3 L199.05,240.3 L199.48,240.3 L199.91,240.3 L200.35,240.3 L200.78,240.3 L201.21,240.3 L201.64,240.3 L202.08,240.3 L202.51,240.3 L202.94,240.3 L203.38,240.3 L203.81,240.3 L204.24,240.3 L204.67,240.3 L205.11,240.3 L205.54,240.3 L205.97,240.3 L206.41,240.3 L206.84,240.3 L207.27,240.3 L207.7,240.3 L208.14,240.3 L208.57,240.3 L209,240.3 L209.44,240.3 L209.87,240.3 L210.3,240.3 L210.73,240.3 L211.17,240.3 L211.6,240.3" stroke="#deddb0" stroke-width="0.8" fill="none" stroke-linejoin="round"/>
<path d="M172.21,239.01 L172.64,238.4 L173.08,237.58 L173.51,236.5 L173.94,235.14 L174.37,233.49 L174.81,231.55 L175.24,229.36 L175.67,227.01 L176.11,224.59 L176.54,222.24 L176.97,220.11 L177.4,218.34 L177.84,217.07 L178.27,216.39 L178.7,216.45 L179.14,217.75 L179.57,220.18 L180,223.35 L180.43,226.83 L180.87,230.19 L181.3,233.14 L181.73,235.52 L182.17,237.28 L182.6,238.5" stroke="#c4c468" stroke-width="0.8" fill="none" stroke-linejoin="round"/>
<path d="M151,241.5 L151.43,241.5 L151.87,241.5 L152.3,241.5 L152.73,241.5 L153.16,241.5 L153.6,241.5 L154.03,241.5 L154.46,241.5 L154.9,241.5 L155.33,241.5 L155.76,241.5 L156.19,241.5 L156.63,241.5 L157.06,241.5 L157.49,241.5 L157.93,241.5 L158.36,241.5 L158.79,241.5 L159.22,241.5 L159.66,241.5 L160.09,241.5 L160.52,241.5 L160.96,241.5 L161.39,241.5 L161.82,241.5 L162.25,241.5 L162.69,241.5 L163.12,241.5 L163.55,241.5 L163.99,241.5 L164.42,241.5 L164.85,241.5 L165.28,241.5 L165.72,241.5 L166.15,241.5 L166.58,241.5 L167.02,241.5 L167.45,241.5 L167.88,241.5 L168.31,241.5 L168.75,241.5 L169.18,241.5 L169.61,241.49 L170.05,241.48 L170.48,241.47 L170.91,241.44 L171.34,241.4 L171.78,241.33 L172.21,241.21 L172.64,241.03 L173.08,240.75 L173.51,240.35 L173.94,239.78 L174.37,239 L174.81,237.96 L175.24,236.63 L175.67,234.99 L176.11,233.03 L176.54,230.78 L176.97,228.31 L177.4,225.7 L177.84,223.1 L178.27,220.66 L178.7,218.54 L179.14,216.9 L179.57,215.86 L180,215.5 L180.43,215.71 L180.87,216.33 L181.3,217.33 L181.73,218.67 L182.17,220.27 L182.6,222.09 L183.03,224.03 L183.46,226.03 L183.9,228.02 L184.33,229.94 L184.76,231.75 L185.2,233.41 L185.63,234.9 L186.06,236.19 L186.49,237.31 L186.93,238.24 L187.36,239 L187.79,239.62 L188.23,240.11 L188.66,240.48 L189.09,240.77 L189.52,240.99 L189.96,241.14 L190.39,241.26 L190.82,241.34 L191.26,241.39 L191.69,241.43 L192.12,241.45 L192.55,241.47 L192.99,241.48 L193.42,241.49 L193.85,241.49 L194.29,241.5 L194.72,241.5 L195.15,241.5 L195.58,241.5 L196.02,241.5 L196.45,241.5 L196.88,241.5 L197.32,241.5 L197.75,241.5 L198.18,241.5 L198.61,241.5 L199.05,241.5 L199.48,241.5 L199.91,241.5 L200.35,241.5 L200.78,241.5 L201.21,241.5 L201.64,241.5 L202.08,241.5 L202.51,241.5 L202.94,241.5 L203.38,241.5 L203.81,241.5 L204.24,241.5 L204.67,241.5 L205.11,241.5 L205.54,241.5 L205.97,241.5 L206.41,241.5 L206.84,241.5 L207.27,241.5 L207.7,241.5 L208.14,241.5 L208.57,241.5 L209,241.5 L209.44,241.5 L209.87,241.5 L210.3,241.5 L210.73,241.5 L211.17,241.5 L211.6,241.5" stroke="#eac0a0" stroke-width="0.85" fill="none" stroke-linejoin="round"/>
<path d="M173.94,239.78 L174.37,239 L174.81,237.96 L175.24,236.63 L175.67,234.99 L176.11,233.03 L176.54,230.78 L176.97,228.31 L177.4,225.7 L177.84,223.1 L178.27,220.66 L178.7,218.54 L179.14,216.9 L179.57,215.86 L180,215.5 L180.43,215.71 L180.87,216.33 L181.3,217.33 L181.73,218.67 L182.17,220.27 L182.6,222.09 L183.03,224.03 L183.46,226.03 L183.9,228.02 L184.33,229.94 L184.76,231.75 L185.2,233.41 L185.63,234.9 L186.06,236.19 L186.49,237.31 L186.93,238.24 L187.36,239 L187.79,239.62 L188.23,240.11" stroke="#dc8846" stroke-width="0.85" fill="none" stroke-linejoin="round"/>
<path d="M151,239 L151.43,239 L151.87,239 L152.3,239 L152.73,239 L153.16,239 L153.6,239 L154.03,239 L154.46,239 L154.9,239 L155.33,239 L155.76,239 L156.19,239 L156.63,239 L157.06,239 L157.49,239 L157.93,239 L158.36,239 L158.79,239 L159.22,239 L159.66,239 L160.09,239 L160.52,239 L160.96,239 L161.39,239 L161.82,239 L162.25,239 L162.69,239 L163.12,239 L163.55,239 L163.99,239 L164.42,239 L164.85,239 L165.28,238.99 L165.72,238.99 L166.15,238.98 L166.58,238.96 L167.02,238.94 L167.45,238.9 L167.88,238.84 L168.31,238.76 L168.75,238.64 L169.18,238.48 L169.61,238.24 L170.05,237.93 L170.48,237.5 L170.91,236.95 L171.34,236.25 L171.78,235.38 L172.21,234.31 L172.64,233.04 L173.08,231.57 L173.51,229.89 L173.94,228.04 L174.37,226.05 L174.81,223.98 L175.24,221.9 L175.67,219.87 L176.11,218 L176.54,216.36 L176.97,215.04 L177.4,214.1 L177.84,213.59 L178.27,213.61 L178.7,214.89 L179.14,217.39 L179.57,220.72 L180,224.4 L180.43,228 L180.87,231.18 L181.3,233.75 L181.73,235.67 L182.17,237.01 L182.6,237.88 L183.03,238.4 L183.46,238.7 L183.9,238.86 L184.33,238.94 L184.76,238.97 L185.2,238.99 L185.63,239 L186.06,239 L186.49,239 L186.93,239 L187.36,239 L187.79,239 L188.23,239 L188.66,239 L189.09,239 L189.52,239 L189.96,239 L190.39,239 L190.82,239 L191.26,239 L191.69,239 L192.12,239 L192.55,239 L192.99,239 L193.42,239 L193.85,239 L194.29,239 L194.72,239 L195.15,239 L195.58,239 L196.02,239 L196.45,239 L196.88,239 L197.32,239 L197.75,239 L198.18,239 L198.61,239 L199.05,239 L199.48,239 L199.91,239 L200.35,239 L200.78,239 L201.21,239 L201.64,239 L202.08,239 L202.51,239 L202.94,239 L203.38,239 L203.81,239 L204.24,239 L204.67,239 L205.11,239 L205.54,239 L205.97,239 L206.41,239 L206.84,239 L207.27,239 L207.7,239 L208.14,239 L208.57,239 L209,239 L209.44,239 L209.87,239 L210.3,239 L210.73,239 L211.17,239 L211.6,239" stroke="#c4e2a4" stroke-width="0.9" fill="none" stroke-linejoin="round"/>
<path d="M170.48,237.5 L170.91,236.95 L171.34,236.25 L171.78,235.38 L172.21,234.31 L172.64,233.04 L173.08,231.57 L173.51,229.89 L173.94,228.04 L174.37,226.05 L174.81,223.98 L175.24,221.9 L175.67,219.87 L176.11,218 L176.54,216.36 L176.97,215.04 L177.4,214.1 L177.84,213.59 L178.27,213.61 L178.7,214.89 L179.14,217.39 L179.57,220.72 L180,224.4 L180.43,228 L180.87,231.18 L181.3,233.75 L181.73,235.67 L182.17,237.01" stroke="#86c84c" stroke-width="0.9" fill="none" stroke-linejoin="round"/>
<path d="M151,233.5 L151.43,233.5 L151.87,233.5 L152.3,233.5 L152.73,233.5 L153.16,233.5 L153.6,233.5 L154.03,233.5 L154.46,233.5 L154.9,233.5 L155.33,233.5 L155.76,233.5 L156.19,233.5 L156.63,233.5 L157.06,233.49 L157.49,233.49 L157.93,233.49 L158.36,233.48 L158.79,233.47 L159.22,233.45 L159.66,233.42 L160.09,233.39 L160.52,233.34 L160.96,233.27 L161.39,233.17 L161.82,233.04 L162.25,232.87 L162.69,232.64 L163.12,232.36 L163.55,231.99 L163.99,231.53 L164.42,230.97 L164.85,230.29 L165.28,229.47 L165.72,228.52 L166.15,227.41 L166.58,226.16 L167.02,224.77 L167.45,223.25 L167.88,221.61 L168.31,219.89 L168.75,218.13 L169.18,216.36 L169.61,214.63 L170.05,213 L170.48,211.51 L170.91,210.22 L171.34,209.17 L171.78,208.4 L172.21,207.93 L172.64,207.81 L173.08,209.24 L173.51,212.68 L173.94,217.26 L174.37,221.99 L174.81,226.08 L175.24,229.16 L175.67,231.19 L176.11,232.38 L176.54,233.01 L176.97,233.3 L177.4,233.43 L177.84,233.48 L178.27,233.49 L178.7,233.5 L179.14,233.5 L179.57,233.5 L180,233.5 L180.43,233.5 L180.87,233.5 L181.3,233.5 L181.73,233.5 L182.17,233.5 L182.6,233.5 L183.03,233.5 L183.46,233.5 L183.9,233.5 L184.33,233.5 L184.76,233.5 L185.2,233.5 L185.63,233.5 L186.06,233.5 L186.49,233.5 L186.93,233.5 L187.36,233.5 L187.79,233.5 L188.23,233.5 L188.66,233.5 L189.09,233.5 L189.52,233.5 L189.96,233.5 L190.39,233.5 L190.82,233.5 L191.26,233.5 L191.69,233.5 L192.12,233.5 L192.55,233.5 L192.99,233.5 L193.42,233.5 L193.85,233.5 L194.29,233.5 L194.72,233.5 L195.15,233.5 L195.58,233.5 L196.02,233.5 L196.45,233.5 L196.88,233.5 L197.32,233.5 L197.75,233.5 L198.18,233.5 L198.61,233.5 L199.05,233.5 L199.48,233.5 L199.91,233.5 L200.35,233.5 L200.78,233.5 L201.21,233.5 L201.64,233.5 L202.08,233.5 L202.51,233.5 L202.94,233.5 L203.38,233.5 L203.81,233.5 L204.24,233.5 L204.67,233.5 L205.11,233.5 L205.54,233.5 L205.97,233.5 L206.41,233.5 L206.84,233.5 L207.27,233.5 L207.7,233.5 L208.14,233.5 L208.57,233.5 L209,233.5 L209.44,233.5 L209.87,233.5 L210.3,233.5 L210.73,233.5 L211.17,233.5 L211.6,233.5" stroke="#b4b4b4" stroke-width="1" fill="none" stroke-linejoin="round"/>
<path d="M163.55,231.99 L163.99,231.53 L164.42,230.97 L164.85,230.29 L165.28,229.47 L165.72,228.52 L166.15,227.41 L166.58,226.16 L167.02,224.77 L167.45,223.25 L167.88,221.61 L168.31,219.89 L168.75,218.13 L169.18,216.36 L169.61,214.63 L170.05,213 L170.48,211.51 L170.91,210.22 L171.34,209.17 L171.78,208.4 L172.21,207.93 L172.64,207.81 L173.08,209.24 L173.51,212.68 L173.94,217.26 L174.37,221.99 L174.81,226.08 L175.24,229.16 L175.67,231.19" stroke="#666666" stroke-width="1" fill="none" stroke-linejoin="round"/>
<path d="M151,236.5 L151.43,236.5 L151.87,236.5 L152.3,236.5 L152.73,236.5 L153.16,236.5 L153.6,236.5 L154.03,236.5 L154.46,236.5 L154.9,236.5 L155.33,236.5 L155.76,236.5 L156.19,236.5 L156.63,236.5 L157.06,236.5 L157.49,236.5 L157.93,236.5 L158.36,236.5 L158.79,236.5 L159.22,236.5 L159.66,236.5 L160.09,236.5 L160.52,236.5 L160.96,236.5 L161.39,236.5 L161.82,236.5 L162.25,236.5 L162.69,236.5 L163.12,236.5 L163.55,236.5 L163.99,236.5 L164.42,236.5 L164.85,236.5 L165.28,236.5 L165.72,236.5 L166.15,236.5 L166.58,236.5 L167.02,236.5 L167.45,236.5 L167.88,236.5 L168.31,236.5 L168.75,236.5 L169.18,236.5 L169.61,236.5 L170.05,236.5 L170.48,236.5 L170.91,236.5 L171.34,236.5 L171.78,236.5 L172.21,236.5 L172.64,236.5 L173.08,236.5 L173.51,236.5 L173.94,236.5 L174.37,236.5 L174.81,236.5 L175.24,236.5 L175.67,236.5 L176.11,236.5 L176.54,236.5 L176.97,236.5 L177.4,236.49 L177.84,236.46 L178.27,236.38 L178.7,236.16 L179.14,235.66 L179.57,234.61 L180,232.71 L180.43,229.69 L180.87,225.53 L181.3,220.6 L181.73,215.66 L182.17,211.55 L182.6,208.76 L183.03,207.86 L183.46,208.3 L183.9,209.2 L184.33,210.48 L184.76,212.54 L185.2,214.56 L185.63,216.37 L186.06,217.99 L186.49,219.29 L186.93,220.26 L187.36,221.03 L187.79,221.88 L188.23,223.01 L188.66,224.08 L189.09,225.12 L189.52,226.22 L189.96,227.39 L190.39,228.61 L190.82,229.83 L191.26,231.02 L191.69,232.11 L192.12,233.08 L192.55,233.91 L192.99,234.59 L193.42,235.13 L193.85,235.55 L194.29,235.85 L194.72,236.07 L195.15,236.23 L195.58,236.33 L196.02,236.4 L196.45,236.44 L196.88,236.46 L197.32,236.48 L197.75,236.49 L198.18,236.49 L198.61,236.5 L199.05,236.5 L199.48,236.5 L199.91,236.5 L200.35,236.5 L200.78,236.5 L201.21,236.5 L201.64,236.5 L202.08,236.5 L202.51,236.5 L202.94,236.5 L203.38,236.5 L203.81,236.5 L204.24,236.5 L204.67,236.5 L205.11,236.5 L205.54,236.5 L205.97,236.5 L206.41,236.5 L206.84,236.5 L207.27,236.5 L207.7,236.5 L208.14,236.5 L208.57,236.5 L209,236.5 L209.44,236.5 L209.87,236.5 L210.3,236.5 L210.73,236.5 L211.17,236.5 L211.6,236.5" stroke="#8c8cd8" stroke-width="1.2" fill="none" stroke-linejoin="round"/>
<path d="M179.57,234.61 L180,232.71 L180.43,229.69 L180.87,225.53 L181.3,220.6 L181.73,215.66 L182.17,211.55 L182.6,208.76 L183.03,207.86 L183.46,208.3 L183.9,209.2 L184.33,210.48 L184.76,212.54 L185.2,214.56 L185.63,216.37 L186.06,217.99 L186.49,219.29 L186.93,220.26 L187.36,221.03 L187.79,221.88 L188.23,223.01 L188.66,224.08 L189.09,225.12 L189.52,226.22 L189.96,227.39 L190.39,228.61 L190.82,229.83 L191.26,231.02 L191.69,232.11 L192.12,233.08 L192.55,233.91 L192.99,234.59 L193.42,235.13" stroke="#2c2cb0" stroke-width="1.2" fill="none" stroke-linejoin="round"/>
<line x1="220.5" y1="245.2" x2="278.2" y2="245.2" stroke="#8090aa" stroke-width="0.6" stroke-dasharray="1.2,0.6"/>
<text x="221.2" y="248.7" font-size="4.3" font-weight="normal" text-anchor="middle" fill="#4a4a4a" font-family='"Liberation Sans", sans-serif'>10<tspan font-size="3" dy="-1.6">1</tspan></text>
<text x="245.5" y="248.7" font-size="4.3" font-weight="normal" text-anchor="middle" fill="#4a4a4a" font-family='"Liberation Sans", sans-serif'>10<tspan font-size="3" dy="-1.6">1</tspan></text>
<text x="269.7" y="248.7" font-size="4.3" font-weight="normal" text-anchor="middle" fill="#4a4a4a" font-family='"Liberation Sans", sans-serif'>10<tspan font-size="3" dy="-1.6">1</tspan></text>
<path d="M219.5,243 L219.93,243 L220.35,243 L220.78,243 L221.21,243 L221.63,243 L222.06,243 L222.49,243 L222.91,243 L223.34,243 L223.76,243 L224.19,243 L224.62,243 L225.04,243 L225.47,243 L225.9,243 L226.32,243 L226.75,243 L227.18,243 L227.6,243 L228.03,243 L228.45,243 L228.88,243 L229.31,243 L229.73,243 L230.16,243 L230.59,243 L231.01,243 L231.44,243 L231.87,243 L232.29,243 L232.72,243 L233.15,243 L233.57,243 L234,243 L234.43,243 L234.85,243 L235.28,243 L235.7,243 L236.13,243 L236.56,243 L236.98,243 L237.41,243 L237.84,243 L238.26,243 L238.69,243 L239.12,243 L239.54,243 L239.97,243 L240.39,243 L240.82,243 L241.25,243 L241.67,242.99 L242.1,242.99 L242.53,242.98 L242.95,242.96 L243.38,242.93 L243.81,242.88 L244.23,242.8 L244.66,242.68 L245.09,242.5 L245.51,242.24 L245.94,241.88 L246.37,241.37 L246.79,240.69 L247.22,239.8 L247.64,238.67 L248.07,237.27 L248.5,235.59 L248.92,233.64 L249.35,231.46 L249.78,229.08 L250.2,226.61 L250.63,224.13 L251.06,221.78 L251.48,219.69 L251.91,217.98 L252.33,216.75 L252.76,216.1 L253.19,216.08 L253.61,216.87 L254.04,218.42 L254.47,220.6 L254.89,223.22 L255.32,226.08 L255.75,228.97 L256.17,231.73 L256.6,234.23 L257.03,236.39 L257.45,238.17 L257.88,239.58 L258.31,240.65 L258.73,241.44 L259.16,242 L259.58,242.37 L260.01,242.62 L260.44,242.78 L260.86,242.87 L261.29,242.93 L261.72,242.96 L262.14,242.98 L262.57,242.99 L263,243 L263.42,243 L263.85,243 L264.27,243 L264.7,243 L265.13,243 L265.55,243 L265.98,243 L266.41,243 L266.83,243 L267.26,243 L267.69,243 L268.11,243 L268.54,243 L268.97,243 L269.39,243 L269.82,243 L270.25,243 L270.67,243 L271.1,243 L271.52,243 L271.95,243 L272.38,243 L272.8,243 L273.23,243 L273.66,243 L274.08,243 L274.51,243 L274.94,243 L275.36,243 L275.79,243 L276.21,243 L276.64,243 L277.07,243 L277.49,243 L277.92,243 L278.35,243 L278.77,243 L279.2,243 L279.2,243 L219.5,243 Z" stroke="none" stroke-width="1" fill="#dcf5f5"/>
<path d="M219.5,233.19 L219.93,233.19 L220.35,233.19 L220.78,233.19 L221.21,233.18 L221.63,233.18 L222.06,233.17 L222.49,233.16 L222.91,233.16 L223.34,233.14 L223.76,233.13 L224.19,233.11 L224.62,233.09 L225.04,233.07 L225.47,233.04 L225.9,233.01 L226.32,232.97 L226.75,232.92 L227.18,232.87 L227.6,232.81 L228.03,232.73 L228.45,232.65 L228.88,232.56 L229.31,232.45 L229.73,232.33 L230.16,232.2 L230.59,232.05 L231.01,231.89 L231.44,231.71 L231.87,231.52 L232.29,231.31 L232.72,231.08 L233.15,230.84 L233.57,230.59 L234,230.32 L234.43,230.04 L234.85,229.75 L235.28,229.46 L235.7,229.15 L236.13,228.85 L236.56,228.54 L236.98,228.23 L237.41,227.93 L237.84,227.63 L238.26,227.33 L238.69,227.04 L239.12,226.75 L239.54,226.47 L239.97,226.18 L240.39,225.88 L240.82,225.57 L241.25,225.24 L241.67,224.87 L242.1,224.46 L242.53,224.02 L242.95,223.55 L243.38,223.04 L243.81,222.47 L244.23,221.82 L244.66,221.08 L245.09,220.25 L245.51,219.32 L245.94,218.3 L246.37,217.19 L246.79,216.03 L247.22,214.82 L247.64,213.61 L248.07,212.44 L248.5,211.35 L248.92,210.39 L249.35,209.59 L249.78,209 L250.2,208.64 L250.63,208.54 L251.06,208.86 L251.48,210.13 L251.91,212.29 L252.33,215.07 L252.76,218.17 L253.19,221.29 L253.61,224.18 L254.04,226.67 L254.47,228.68 L254.89,230.21 L255.32,231.31 L255.75,232.05 L256.17,232.54 L256.6,232.83 L257.03,233.01 L257.45,233.1 L257.88,233.15 L258.31,233.18 L258.73,233.19 L259.16,233.2 L259.58,233.2 L260.01,233.2 L260.44,233.2 L260.86,233.2 L261.29,233.2 L261.72,233.2 L262.14,233.2 L262.57,233.2 L263,233.2 L263.42,233.2 L263.85,233.2 L264.27,233.2 L264.7,233.2 L265.13,233.2 L265.55,233.2 L265.98,233.2 L266.41,233.2 L266.83,233.2 L267.26,233.2 L267.69,233.2 L268.11,233.2 L268.54,233.2 L268.97,233.2 L269.39,233.2 L269.82,233.2 L270.25,233.2 L270.67,233.2 L271.1,233.2 L271.52,233.2 L271.95,233.2 L272.38,233.2 L272.8,233.2 L273.23,233.2 L273.66,233.2 L274.08,233.2 L274.51,233.2 L274.94,233.2 L275.36,233.2 L275.79,233.2 L276.21,233.2 L276.64,233.2 L277.07,233.2 L277.49,233.2 L277.92,233.2 L278.35,233.2 L278.77,233.2 L279.2,233.2 L279.2,233.2 L219.5,233.2 Z" stroke="none" stroke-width="1" fill="#dcdce6"/>
<path d="M219.5,243 L219.93,243 L220.35,243 L220.78,243 L221.21,243 L221.63,243 L222.06,243 L222.49,243 L222.91,243 L223.34,243 L223.76,243 L224.19,243 L224.62,243 L225.04,243 L225.47,243 L225.9,243 L226.32,243 L226.75,243 L227.18,243 L227.6,243 L228.03,243 L228.45,243 L228.88,243 L229.31,243 L229.73,243 L230.16,243 L230.59,243 L231.01,243 L231.44,243 L231.87,243 L232.29,243 L232.72,243 L233.15,243 L233.57,243 L234,243 L234.43,243 L234.85,243 L235.28,243 L235.7,243 L236.13,243 L236.56,243 L236.98,243 L237.41,243 L237.84,243 L238.26,243 L238.69,243 L239.12,243 L239.54,243 L239.97,243 L240.39,243 L240.82,243 L241.25,243 L241.67,242.99 L242.1,242.99 L242.53,242.98 L242.95,242.96 L243.38,242.93 L243.81,242.88 L244.23,242.8 L244.66,242.68 L245.09,242.5 L245.51,242.24 L245.94,241.88 L246.37,241.37 L246.79,240.69 L247.22,239.8 L247.64,238.67 L248.07,237.27 L248.5,235.59 L248.92,233.64 L249.35,231.46 L249.78,229.08 L250.2,226.61 L250.63,224.13 L251.06,221.78 L251.48,219.69 L251.91,217.98 L252.33,216.75 L252.76,216.1 L253.19,216.08 L253.61,216.87 L254.04,218.42 L254.47,220.6 L254.89,223.22 L255.32,226.08 L255.75,228.97 L256.17,231.73 L256.6,234.23 L257.03,236.39 L257.45,238.17 L257.88,239.58 L258.31,240.65 L258.73,241.44 L259.16,242 L259.58,242.37 L260.01,242.62 L260.44,242.78 L260.86,242.87 L261.29,242.93 L261.72,242.96 L262.14,242.98 L262.57,242.99 L263,243 L263.42,243 L263.85,243 L264.27,243 L264.7,243 L265.13,243 L265.55,243 L265.98,243 L266.41,243 L266.83,243 L267.26,243 L267.69,243 L268.11,243 L268.54,243 L268.97,243 L269.39,243 L269.82,243 L270.25,243 L270.67,243 L271.1,243 L271.52,243 L271.95,243 L272.38,243 L272.8,243 L273.23,243 L273.66,243 L274.08,243 L274.51,243 L274.94,243 L275.36,243 L275.79,243 L276.21,243 L276.64,243 L277.07,243 L277.49,243 L277.92,243 L278.35,243 L278.77,243 L279.2,243" stroke="#bce8e8" stroke-width="0.8" fill="none" stroke-linejoin="round"/>
<path d="M246.37,241.37 L246.79,240.69 L247.22,239.8 L247.64,238.67 L248.07,237.27 L248.5,235.59 L248.92,233.64 L249.35,231.46 L249.78,229.08 L250.2,226.61 L250.63,224.13 L251.06,221.78 L251.48,219.69 L251.91,217.98 L252.33,216.75 L252.76,216.1 L253.19,216.08 L253.61,216.87 L254.04,218.42 L254.47,220.6 L254.89,223.22 L255.32,226.08 L255.75,228.97 L256.17,231.73 L256.6,234.23 L257.03,236.39 L257.45,238.17 L257.88,239.58 L258.31,240.65 L258.73,241.44" stroke="#86d8d8" stroke-width="0.8" fill="none" stroke-linejoin="round"/>
<path d="M219.5,241.5 L219.93,241.5 L220.35,241.5 L220.78,241.5 L221.21,241.5 L221.63,241.5 L222.06,241.5 L222.49,241.5 L222.91,241.5 L223.34,241.5 L223.76,241.5 L224.19,241.5 L224.62,241.5 L225.04,241.5 L225.47,241.5 L225.9,241.5 L226.32,241.5 L226.75,241.5 L227.18,241.5 L227.6,241.5 L228.03,241.5 L228.45,241.5 L228.88,241.5 L229.31,241.5 L229.73,241.5 L230.16,241.5 L230.59,241.5 L231.01,241.5 L231.44,241.5 L231.87,241.5 L232.29,241.5 L232.72,241.5 L233.15,241.5 L233.57,241.5 L234,241.5 L234.43,241.5 L234.85,241.5 L235.28,241.5 L235.7,241.5 L236.13,241.5 L236.56,241.5 L236.98,241.5 L237.41,241.5 L237.84,241.5 L238.26,241.5 L238.69,241.49 L239.12,241.49 L239.54,241.48 L239.97,241.47 L240.39,241.45 L240.82,241.43 L241.25,241.39 L241.67,241.34 L242.1,241.26 L242.53,241.14 L242.95,240.99 L243.38,240.77 L243.81,240.49 L244.23,240.12 L244.66,239.65 L245.09,239.05 L245.51,238.32 L245.94,237.43 L246.37,236.38 L246.79,235.17 L247.22,233.8 L247.64,232.29 L248.07,230.67 L248.5,228.98 L248.92,227.25 L249.35,225.56 L249.78,223.97 L250.2,222.53 L250.63,221.32 L251.06,220.38 L251.48,219.77 L251.91,219.51 L252.33,219.75 L252.76,220.78 L253.19,222.48 L253.61,224.69 L254.04,227.19 L254.47,229.77 L254.89,232.24 L255.32,234.45 L255.75,236.34 L256.17,237.86 L256.6,239.03 L257.03,239.88 L257.45,240.48 L257.88,240.88 L258.31,241.14 L258.73,241.3 L259.16,241.39 L259.58,241.44 L260.01,241.47 L260.44,241.49 L260.86,241.49 L261.29,241.5 L261.72,241.5 L262.14,241.5 L262.57,241.5 L263,241.5 L263.42,241.5 L263.85,241.5 L264.27,241.5 L264.7,241.5 L265.13,241.5 L265.55,241.5 L265.98,241.5 L266.41,241.5 L266.83,241.5 L267.26,241.5 L267.69,241.5 L268.11,241.5 L268.54,241.5 L268.97,241.5 L269.39,241.5 L269.82,241.5 L270.25,241.5 L270.67,241.5 L271.1,241.5 L271.52,241.5 L271.95,241.5 L272.38,241.5 L272.8,241.5 L273.23,241.5 L273.66,241.5 L274.08,241.5 L274.51,241.5 L274.94,241.5 L275.36,241.5 L275.79,241.5 L276.21,241.5 L276.64,241.5 L277.07,241.5 L277.49,241.5 L277.92,241.5 L278.35,241.5 L278.77,241.5 L279.2,241.5" stroke="#deddb0" stroke-width="0.8" fill="none" stroke-linejoin="round"/>
<path d="M244.23,240.12 L244.66,239.65 L245.09,239.05 L245.51,238.32 L245.94,237.43 L246.37,236.38 L246.79,235.17 L247.22,233.8 L247.64,232.29 L248.07,230.67 L248.5,228.98 L248.92,227.25 L249.35,225.56 L249.78,223.97 L250.2,222.53 L250.63,221.32 L251.06,220.38 L251.48,219.77 L251.91,219.51 L252.33,219.75 L252.76,220.78 L253.19,222.48 L253.61,224.69 L254.04,227.19 L254.47,229.77 L254.89,232.24 L255.32,234.45 L255.75,236.34 L256.17,237.86 L256.6,239.03 L257.03,239.88" stroke="#c4c468" stroke-width="0.8" fill="none" stroke-linejoin="round"/>
<path d="M219.5,240 L219.93,240 L220.35,240 L220.78,240 L221.21,240 L221.63,240 L222.06,240 L222.49,240 L222.91,240 L223.34,240 L223.76,240 L224.19,240 L224.62,240 L225.04,240 L225.47,240 L225.9,240 L226.32,240 L226.75,240 L227.18,240 L227.6,240 L228.03,240 L228.45,240 L228.88,240 L229.31,240 L229.73,240 L230.16,240 L230.59,240 L231.01,240 L231.44,240 L231.87,240 L232.29,240 L232.72,240 L233.15,240 L233.57,240 L234,240 L234.43,240 L234.85,240 L235.28,240 L235.7,240 L236.13,240 L236.56,240 L236.98,240 L237.41,240 L237.84,240 L238.26,239.99 L238.69,239.99 L239.12,239.98 L239.54,239.98 L239.97,239.96 L240.39,239.94 L240.82,239.91 L241.25,239.87 L241.67,239.81 L242.1,239.72 L242.53,239.6 L242.95,239.44 L243.38,239.23 L243.81,238.95 L244.23,238.59 L244.66,238.13 L245.09,237.56 L245.51,236.87 L245.94,236.03 L246.37,235.05 L246.79,233.92 L247.22,232.64 L247.64,231.21 L248.07,229.67 L248.5,228.04 L248.92,226.35 L249.35,224.66 L249.78,223.01 L250.2,221.46 L250.63,220.06 L251.06,218.88 L251.48,217.95 L251.91,217.33 L252.33,217.03 L252.76,217.2 L253.19,218.32 L253.61,220.31 L254.04,222.91 L254.47,225.82 L254.89,228.76 L255.32,231.49 L255.75,233.84 L256.17,235.74 L256.6,237.18 L257.03,238.22 L257.45,238.93 L257.88,239.38 L258.31,239.66 L258.73,239.82 L259.16,239.91 L259.58,239.96 L260.01,239.98 L260.44,239.99 L260.86,240 L261.29,240 L261.72,240 L262.14,240 L262.57,240 L263,240 L263.42,240 L263.85,240 L264.27,240 L264.7,240 L265.13,240 L265.55,240 L265.98,240 L266.41,240 L266.83,240 L267.26,240 L267.69,240 L268.11,240 L268.54,240 L268.97,240 L269.39,240 L269.82,240 L270.25,240 L270.67,240 L271.1,240 L271.52,240 L271.95,240 L272.38,240 L272.8,240 L273.23,240 L273.66,240 L274.08,240 L274.51,240 L274.94,240 L275.36,240 L275.79,240 L276.21,240 L276.64,240 L277.07,240 L277.49,240 L277.92,240 L278.35,240 L278.77,240 L279.2,240" stroke="#eac0a0" stroke-width="0.85" fill="none" stroke-linejoin="round"/>
<path d="M244.23,238.59 L244.66,238.13 L245.09,237.56 L245.51,236.87 L245.94,236.03 L246.37,235.05 L246.79,233.92 L247.22,232.64 L247.64,231.21 L248.07,229.67 L248.5,228.04 L248.92,226.35 L249.35,224.66 L249.78,223.01 L250.2,221.46 L250.63,220.06 L251.06,218.88 L251.48,217.95 L251.91,217.33 L252.33,217.03 L252.76,217.2 L253.19,218.32 L253.61,220.31 L254.04,222.91 L254.47,225.82 L254.89,228.76 L255.32,231.49 L255.75,233.84 L256.17,235.74 L256.6,237.18 L257.03,238.22" stroke="#dc8846" stroke-width="0.85" fill="none" stroke-linejoin="round"/>
<path d="M219.5,238.5 L219.93,238.5 L220.35,238.5 L220.78,238.5 L221.21,238.5 L221.63,238.5 L222.06,238.5 L222.49,238.5 L222.91,238.5 L223.34,238.5 L223.76,238.5 L224.19,238.5 L224.62,238.5 L225.04,238.5 L225.47,238.5 L225.9,238.5 L226.32,238.5 L226.75,238.5 L227.18,238.5 L227.6,238.5 L228.03,238.5 L228.45,238.5 L228.88,238.5 L229.31,238.5 L229.73,238.5 L230.16,238.5 L230.59,238.5 L231.01,238.5 L231.44,238.5 L231.87,238.5 L232.29,238.5 L232.72,238.5 L233.15,238.5 L233.57,238.5 L234,238.5 L234.43,238.5 L234.85,238.5 L235.28,238.5 L235.7,238.5 L236.13,238.5 L236.56,238.5 L236.98,238.5 L237.41,238.5 L237.84,238.5 L238.26,238.5 L238.69,238.5 L239.12,238.5 L239.54,238.5 L239.97,238.5 L240.39,238.5 L240.82,238.5 L241.25,238.5 L241.67,238.5 L242.1,238.5 L242.53,238.5 L242.95,238.5 L243.38,238.5 L243.81,238.5 L244.23,238.5 L244.66,238.5 L245.09,238.5 L245.51,238.5 L245.94,238.5 L246.37,238.5 L246.79,238.5 L247.22,238.5 L247.64,238.5 L248.07,238.5 L248.5,238.5 L248.92,238.5 L249.35,238.5 L249.78,238.5 L250.2,238.5 L250.63,238.5 L251.06,238.5 L251.48,238.5 L251.91,238.5 L252.33,238.5 L252.76,238.5 L253.19,238.5 L253.61,238.49 L254.04,238.44 L254.47,238.29 L254.89,237.89 L255.32,237.05 L255.75,235.56 L256.17,233.31 L256.6,230.4 L257.03,227.07 L257.45,223.7 L257.88,220.63 L258.31,218.1 L258.73,216.21 L259.16,214.93 L259.58,214.15 L260.01,213.74 L260.44,213.56 L260.86,213.51 L261.29,213.5 L261.72,213.5 L262.14,213.52 L262.57,213.62 L263,213.96 L263.42,214.74 L263.85,216.19 L264.27,218.47 L264.7,221.62 L265.13,225.42 L265.55,229.4 L265.98,232.97 L266.41,235.64 L266.83,237.29 L267.26,238.09 L267.69,238.4 L268.11,238.48 L268.54,238.5 L268.97,238.5 L269.39,238.5 L269.82,238.5 L270.25,238.5 L270.67,238.5 L271.1,238.5 L271.52,238.5 L271.95,238.5 L272.38,238.5 L272.8,238.5 L273.23,238.5 L273.66,238.5 L274.08,238.5 L274.51,238.5 L274.94,238.5 L275.36,238.5 L275.79,238.5 L276.21,238.5 L276.64,238.5 L277.07,238.5 L277.49,238.5 L277.92,238.5 L278.35,238.5 L278.77,238.5 L279.2,238.5" stroke="#c4e2a4" stroke-width="0.9" fill="none" stroke-linejoin="round"/>
<path d="M255.32,237.05 L255.75,235.56 L256.17,233.31 L256.6,230.4 L257.03,227.07 L257.45,223.7 L257.88,220.63 L258.31,218.1 L258.73,216.21 L259.16,214.93 L259.58,214.15 L260.01,213.74 L260.44,213.56 L260.86,213.51 L261.29,213.5 L261.72,213.5 L262.14,213.52 L262.57,213.62 L263,213.96 L263.42,214.74 L263.85,216.19 L264.27,218.47 L264.7,221.62 L265.13,225.42 L265.55,229.4 L265.98,232.97 L266.41,235.64 L266.83,237.29" stroke="#86c84c" stroke-width="0.9" fill="none" stroke-linejoin="round"/>
<path d="M219.5,233.19 L219.93,233.19 L220.35,233.19 L220.78,233.19 L221.21,233.18 L221.63,233.18 L222.06,233.17 L222.49,233.16 L222.91,233.16 L223.34,233.14 L223.76,233.13 L224.19,233.11 L224.62,233.09 L225.04,233.07 L225.47,233.04 L225.9,233.01 L226.32,232.97 L226.75,232.92 L227.18,232.87 L227.6,232.81 L228.03,232.73 L228.45,232.65 L228.88,232.56 L229.31,232.45 L229.73,232.33 L230.16,232.2 L230.59,232.05 L231.01,231.89 L231.44,231.71 L231.87,231.52 L232.29,231.31 L232.72,231.08 L233.15,230.84 L233.57,230.59 L234,230.32 L234.43,230.04 L234.85,229.75 L235.28,229.46 L235.7,229.15 L236.13,228.85 L236.56,228.54 L236.98,228.23 L237.41,227.93 L237.84,227.63 L238.26,227.33 L238.69,227.04 L239.12,226.75 L239.54,226.47 L239.97,226.18 L240.39,225.88 L240.82,225.57 L241.25,225.24 L241.67,224.87 L242.1,224.46 L242.53,224.02 L242.95,223.55 L243.38,223.04 L243.81,222.47 L244.23,221.82 L244.66,221.08 L245.09,220.25 L245.51,219.32 L245.94,218.3 L246.37,217.19 L246.79,216.03 L247.22,214.82 L247.64,213.61 L248.07,212.44 L248.5,211.35 L248.92,210.39 L249.35,209.59 L249.78,209 L250.2,208.64 L250.63,208.54 L251.06,208.86 L251.48,210.13 L251.91,212.29 L252.33,215.07 L252.76,218.17 L253.19,221.29 L253.61,224.18 L254.04,226.67 L254.47,228.68 L254.89,230.21 L255.32,231.31 L255.75,232.05 L256.17,232.54 L256.6,232.83 L257.03,233.01 L257.45,233.1 L257.88,233.15 L258.31,233.18 L258.73,233.19 L259.16,233.2 L259.58,233.2 L260.01,233.2 L260.44,233.2 L260.86,233.2 L261.29,233.2 L261.72,233.2 L262.14,233.2 L262.57,233.2 L263,233.2 L263.42,233.2 L263.85,233.2 L264.27,233.2 L264.7,233.2 L265.13,233.2 L265.55,233.2 L265.98,233.2 L266.41,233.2 L266.83,233.2 L267.26,233.2 L267.69,233.2 L268.11,233.2 L268.54,233.2 L268.97,233.2 L269.39,233.2 L269.82,233.2 L270.25,233.2 L270.67,233.2 L271.1,233.2 L271.52,233.2 L271.95,233.2 L272.38,233.2 L272.8,233.2 L273.23,233.2 L273.66,233.2 L274.08,233.2 L274.51,233.2 L274.94,233.2 L275.36,233.2 L275.79,233.2 L276.21,233.2 L276.64,233.2 L277.07,233.2 L277.49,233.2 L277.92,233.2 L278.35,233.2 L278.77,233.2 L279.2,233.2" stroke="#b4b4b4" stroke-width="1" fill="none" stroke-linejoin="round"/>
<path d="M231.01,231.89 L231.44,231.71 L231.87,231.52 L232.29,231.31 L232.72,231.08 L233.15,230.84 L233.57,230.59 L234,230.32 L234.43,230.04 L234.85,229.75 L235.28,229.46 L235.7,229.15 L236.13,228.85 L236.56,228.54 L236.98,228.23 L237.41,227.93 L237.84,227.63 L238.26,227.33 L238.69,227.04 L239.12,226.75 L239.54,226.47 L239.97,226.18 L240.39,225.88 L240.82,225.57 L241.25,225.24 L241.67,224.87 L242.1,224.46 L242.53,224.02 L242.95,223.55 L243.38,223.04 L243.81,222.47 L244.23,221.82 L244.66,221.08 L245.09,220.25 L245.51,219.32 L245.94,218.3 L246.37,217.19 L246.79,216.03 L247.22,214.82 L247.64,213.61 L248.07,212.44 L248.5,211.35 L248.92,210.39 L249.35,209.59 L249.78,209 L250.2,208.64 L250.63,208.54 L251.06,208.86 L251.48,210.13 L251.91,212.29 L252.33,215.07 L252.76,218.17 L253.19,221.29 L253.61,224.18 L254.04,226.67 L254.47,228.68 L254.89,230.21 L255.32,231.31" stroke="#666666" stroke-width="1" fill="none" stroke-linejoin="round"/>
<path d="M219.5,236.5 L219.93,236.5 L220.35,236.5 L220.78,236.5 L221.21,236.5 L221.63,236.5 L222.06,236.5 L222.49,236.5 L222.91,236.5 L223.34,236.5 L223.76,236.49 L224.19,236.49 L224.62,236.49 L225.04,236.49 L225.47,236.48 L225.9,236.48 L226.32,236.48 L226.75,236.47 L227.18,236.46 L227.6,236.45 L228.03,236.44 L228.45,236.42 L228.88,236.41 L229.31,236.38 L229.73,236.36 L230.16,236.33 L230.59,236.29 L231.01,236.25 L231.44,236.2 L231.87,236.14 L232.29,236.08 L232.72,236 L233.15,235.91 L233.57,235.81 L234,235.7 L234.43,235.58 L234.85,235.44 L235.28,235.28 L235.7,235.11 L236.13,234.93 L236.56,234.73 L236.98,234.51 L237.41,234.28 L237.84,234.03 L238.26,233.77 L238.69,233.49 L239.12,233.2 L239.54,232.91 L239.97,232.6 L240.39,232.28 L240.82,231.96 L241.25,231.63 L241.67,231.3 L242.1,230.96 L242.53,230.61 L242.95,230.25 L243.38,229.87 L243.81,229.48 L244.23,229.06 L244.66,228.6 L245.09,228.11 L245.51,227.55 L245.94,226.94 L246.37,226.26 L246.79,225.5 L247.22,224.7 L247.64,223.86 L248.07,222.96 L248.5,222.01 L248.92,221.02 L249.35,219.99 L249.78,218.94 L250.2,217.88 L250.63,216.86 L251.06,215.89 L251.48,215.01 L251.91,214.26 L252.33,213.66 L252.76,213.25 L253.19,213.05 L253.61,213.09 L254.04,213.56 L254.47,215.37 L254.89,218.31 L255.32,221.87 L255.75,225.52 L256.17,228.8 L256.6,231.45 L257.03,233.4 L257.45,234.71 L257.88,235.52 L258.31,235.99 L258.73,236.24 L259.16,236.37 L259.58,236.43 L260.01,236.46 L260.44,236.48 L260.86,236.49 L261.29,236.49 L261.72,236.49 L262.14,236.5 L262.57,236.5 L263,236.5 L263.42,236.5 L263.85,236.5 L264.27,236.5 L264.7,236.5 L265.13,236.5 L265.55,236.5 L265.98,236.5 L266.41,236.5 L266.83,236.5 L267.26,236.5 L267.69,236.5 L268.11,236.5 L268.54,236.5 L268.97,236.5 L269.39,236.5 L269.82,236.5 L270.25,236.5 L270.67,236.5 L271.1,236.5 L271.52,236.5 L271.95,236.5 L272.38,236.5 L272.8,236.5 L273.23,236.5 L273.66,236.5 L274.08,236.5 L274.51,236.5 L274.94,236.5 L275.36,236.5 L275.79,236.5 L276.21,236.5 L276.64,236.5 L277.07,236.5 L277.49,236.5 L277.92,236.5 L278.35,236.5 L278.77,236.5 L279.2,236.5" stroke="#8c8cd8" stroke-width="1.2" fill="none" stroke-linejoin="round"/>
<path d="M235.28,235.28 L235.7,235.11 L236.13,234.93 L236.56,234.73 L236.98,234.51 L237.41,234.28 L237.84,234.03 L238.26,233.77 L238.69,233.49 L239.12,233.2 L239.54,232.91 L239.97,232.6 L240.39,232.28 L240.82,231.96 L241.25,231.63 L241.67,231.3 L242.1,230.96 L242.53,230.61 L242.95,230.25 L243.38,229.87 L243.81,229.48 L244.23,229.06 L244.66,228.6 L245.09,228.11 L245.51,227.55 L245.94,226.94 L246.37,226.26 L246.79,225.5 L247.22,224.7 L247.64,223.86 L248.07,222.96 L248.5,222.01 L248.92,221.02 L249.35,219.99 L249.78,218.94 L250.2,217.88 L250.63,216.86 L251.06,215.89 L251.48,215.01 L251.91,214.26 L252.33,213.66 L252.76,213.25 L253.19,213.05 L253.61,213.09 L254.04,213.56 L254.47,215.37 L254.89,218.31 L255.32,221.87 L255.75,225.52 L256.17,228.8 L256.6,231.45 L257.03,233.4 L257.45,234.71" stroke="#2c2cb0" stroke-width="1.2" fill="none" stroke-linejoin="round"/>
<text x="-0.24" y="0" transform="translate(30.4 294.4) rotate(-90)" font-size="5.6" font-weight="normal" fill="#333" font-family='"Liberation Sans", sans-serif' textLength="41.21" lengthAdjust="spacingAndGlyphs">geometric mean</text>
<line x1="40.8" y1="254.8" x2="40.8" y2="297.5" stroke="#c8c8dd" stroke-width="0.6"/>
<line x1="34.2" y1="254.8" x2="39.2" y2="254.8" stroke="#a0a0a0" stroke-width="1"/>
<line x1="34.2" y1="260.14" x2="39.2" y2="260.14" stroke="#a0a0a0" stroke-width="1"/>
<line x1="34.2" y1="265.48" x2="39.2" y2="265.48" stroke="#a0a0a0" stroke-width="1"/>
<line x1="34.2" y1="270.81" x2="39.2" y2="270.81" stroke="#a0a0a0" stroke-width="1"/>
<line x1="34.2" y1="276.15" x2="39.2" y2="276.15" stroke="#a0a0a0" stroke-width="1"/>
<line x1="34.2" y1="281.49" x2="39.2" y2="281.49" stroke="#a0a0a0" stroke-width="1"/>
<line x1="34.2" y1="286.82" x2="39.2" y2="286.82" stroke="#a0a0a0" stroke-width="1"/>
<line x1="34.2" y1="292.16" x2="39.2" y2="292.16" stroke="#a0a0a0" stroke-width="1"/>
<line x1="34.2" y1="297.5" x2="39.2" y2="297.5" stroke="#a0a0a0" stroke-width="1"/>
<rect x="43.5" y="287.2" width="2.1" height="10.3" fill="#c4c4cc"/>
<rect x="45.6" y="267.2" width="3.4" height="30.3" fill="#1f3fd0"/>
<rect x="49" y="281" width="2.25" height="16.5" fill="#90e040"/>
<rect x="51.25" y="260" width="3.5" height="37.5" fill="#d8781e"/>
<rect x="54.75" y="268" width="2.75" height="29.5" fill="#b0f0ec"/>
<line x1="41.9" y1="286.5" x2="59.8" y2="286.5" stroke="#1a2a7a" stroke-width="0.8" stroke-dasharray="1.6,1"/>
<line x1="108.6" y1="254.8" x2="108.6" y2="297.5" stroke="#c8c8dd" stroke-width="0.6"/>
<line x1="102" y1="254.8" x2="107" y2="254.8" stroke="#a0a0a0" stroke-width="1"/>
<line x1="102" y1="260.14" x2="107" y2="260.14" stroke="#a0a0a0" stroke-width="1"/>
<line x1="102" y1="265.48" x2="107" y2="265.48" stroke="#a0a0a0" stroke-width="1"/>
<line x1="102" y1="270.81" x2="107" y2="270.81" stroke="#a0a0a0" stroke-width="1"/>
<line x1="102" y1="276.15" x2="107" y2="276.15" stroke="#a0a0a0" stroke-width="1"/>
<line x1="102" y1="281.49" x2="107" y2="281.49" stroke="#a0a0a0" stroke-width="1"/>
<line x1="102" y1="286.82" x2="107" y2="286.82" stroke="#a0a0a0" stroke-width="1"/>
<line x1="102" y1="292.16" x2="107" y2="292.16" stroke="#a0a0a0" stroke-width="1"/>
<line x1="102" y1="297.5" x2="107" y2="297.5" stroke="#a0a0a0" stroke-width="1"/>
<rect x="111.25" y="293.1" width="2.25" height="4.4" fill="#c4c4cc"/>
<rect x="113.5" y="262.5" width="3.4" height="35" fill="#1f3fd0"/>
<rect x="116.9" y="285.6" width="2.5" height="11.9" fill="#90e040"/>
<rect x="119.4" y="261.9" width="3.1" height="35.6" fill="#d8781e"/>
<rect x="122.5" y="265.6" width="3.1" height="31.9" fill="#b0f0ec"/>
<line x1="109.4" y1="292.5" x2="126.9" y2="292.5" stroke="#1a2a7a" stroke-width="0.8" stroke-dasharray="1.6,1"/>
<line x1="177.3" y1="254.8" x2="177.3" y2="297.5" stroke="#c8c8dd" stroke-width="0.6"/>
<line x1="170.7" y1="254.8" x2="175.7" y2="254.8" stroke="#a0a0a0" stroke-width="1"/>
<line x1="170.7" y1="260.14" x2="175.7" y2="260.14" stroke="#a0a0a0" stroke-width="1"/>
<line x1="170.7" y1="265.48" x2="175.7" y2="265.48" stroke="#a0a0a0" stroke-width="1"/>
<line x1="170.7" y1="270.81" x2="175.7" y2="270.81" stroke="#a0a0a0" stroke-width="1"/>
<line x1="170.7" y1="276.15" x2="175.7" y2="276.15" stroke="#a0a0a0" stroke-width="1"/>
<line x1="170.7" y1="281.49" x2="175.7" y2="281.49" stroke="#a0a0a0" stroke-width="1"/>
<line x1="170.7" y1="286.82" x2="175.7" y2="286.82" stroke="#a0a0a0" stroke-width="1"/>
<line x1="170.7" y1="292.16" x2="175.7" y2="292.16" stroke="#a0a0a0" stroke-width="1"/>
<line x1="170.7" y1="297.5" x2="175.7" y2="297.5" stroke="#a0a0a0" stroke-width="1"/>
<rect x="179.75" y="292.5" width="2.15" height="5" fill="#c4c4cc"/>
<rect x="181.9" y="268.1" width="3.7" height="29.4" fill="#1f3fd0"/>
<rect x="185.6" y="286.2" width="2.5" height="11.3" fill="#90e040"/>
<rect x="188.1" y="264" width="3.15" height="33.5" fill="#d8781e"/>
<rect x="191.25" y="256.9" width="3.15" height="40.6" fill="#b0f0ec"/>
<line x1="178" y1="291.25" x2="195.6" y2="291.25" stroke="#1a2a7a" stroke-width="0.8" stroke-dasharray="1.6,1"/>
<line x1="244.5" y1="254.8" x2="244.5" y2="297.5" stroke="#c8c8dd" stroke-width="0.6"/>
<line x1="237.9" y1="254.8" x2="242.9" y2="254.8" stroke="#a0a0a0" stroke-width="1"/>
<line x1="237.9" y1="261.92" x2="242.9" y2="261.92" stroke="#a0a0a0" stroke-width="1"/>
<line x1="237.9" y1="269.03" x2="242.9" y2="269.03" stroke="#a0a0a0" stroke-width="1"/>
<line x1="237.9" y1="276.15" x2="242.9" y2="276.15" stroke="#a0a0a0" stroke-width="1"/>
<line x1="237.9" y1="283.27" x2="242.9" y2="283.27" stroke="#a0a0a0" stroke-width="1"/>
<line x1="237.9" y1="290.38" x2="242.9" y2="290.38" stroke="#a0a0a0" stroke-width="1"/>
<line x1="237.9" y1="297.5" x2="242.9" y2="297.5" stroke="#a0a0a0" stroke-width="1"/>
<rect x="246.25" y="278.1" width="2.5" height="19.4" fill="#c4c4cc"/>
<rect x="248.75" y="270.25" width="3.15" height="27.25" fill="#1f3fd0"/>
<rect x="251.9" y="255.6" width="2.5" height="41.9" fill="#90e040"/>
<rect x="254.4" y="272.75" width="3.1" height="24.75" fill="#d8781e"/>
<rect x="257.5" y="275" width="2.5" height="22.5" fill="#b0f0ec"/>
<line x1="245" y1="277.25" x2="263.1" y2="277.25" stroke="#1a2a7a" stroke-width="0.8" stroke-dasharray="1.6,1"/>
<rect x="68.2" y="306.9" width="3.7" height="3.7" fill="#b0b0b0"/>
<text x="73.69" y="311" font-size="7" font-weight="normal" fill="#2a2a2a" font-family='"Liberation Sans", sans-serif' textLength="49.05" lengthAdjust="spacingAndGlyphs" stroke="#2a2a2a" stroke-width="0.12">IgG/FITC control</text>
<rect x="131" y="306.9" width="3.7" height="3.7" fill="#2020b8"/>
<text x="135.52" y="311" font-size="7" font-weight="normal" fill="#2a2a2a" font-family='"Liberation Sans", sans-serif' textLength="8.32" lengthAdjust="spacingAndGlyphs" stroke="#2a2a2a" stroke-width="0.12">UT</text>
<rect x="156.9" y="306.9" width="3.7" height="3.7" fill="#80d040"/>
<text x="162.06" y="311" font-size="7" font-weight="normal" fill="#2a2a2a" font-family='"Liberation Sans", sans-serif' textLength="6.32" lengthAdjust="spacingAndGlyphs" stroke="#2a2a2a" stroke-width="0.12">FL</text>
<rect x="182" y="306.9" width="3.7" height="3.7" fill="#e0782a"/>
<text x="187.16" y="311" font-size="7" font-weight="normal" fill="#2a2a2a" font-family='"Liberation Sans", sans-serif' textLength="14.39" lengthAdjust="spacingAndGlyphs" stroke="#2a2a2a" stroke-width="0.12">PSM</text>
<rect x="209.7" y="306.9" width="3.7" height="3.7" fill="#a8e8e4"/>
<text x="216.07" y="311" font-size="7" font-weight="normal" fill="#2a2a2a" font-family='"Liberation Sans", sans-serif' textLength="18.41" lengthAdjust="spacingAndGlyphs" stroke="#2a2a2a" stroke-width="0.12">V75M</text>
<line x1="19.2" y1="359.3" x2="76" y2="359.3" stroke="#8090aa" stroke-width="0.6" stroke-dasharray="1.2,0.6"/>
<text x="35.5" y="363.2" font-size="4.3" font-weight="normal" text-anchor="middle" fill="#4a4a4a" font-family='"Liberation Sans", sans-serif'>10<tspan font-size="3" dy="-1.6">1</tspan></text>
<text x="53.6" y="363.2" font-size="4.3" font-weight="normal" text-anchor="middle" fill="#4a4a4a" font-family='"Liberation Sans", sans-serif'>10<tspan font-size="3" dy="-1.6">1</tspan></text>
<text x="70.9" y="363.2" font-size="4.3" font-weight="normal" text-anchor="middle" fill="#4a4a4a" font-family='"Liberation Sans", sans-serif'>10<tspan font-size="3" dy="-1.6">1</tspan></text>
<path d="M18.2,357 L18.62,357 L19.04,357 L19.46,357 L19.88,357 L20.3,357 L20.72,357 L21.14,357 L21.56,357 L21.98,357 L22.4,357 L22.82,357 L23.24,357 L23.66,357 L24.08,357 L24.5,357 L24.92,357 L25.34,357 L25.76,357 L26.18,357 L26.6,357 L27.02,357 L27.44,357 L27.86,357 L28.28,357 L28.7,357 L29.12,357 L29.54,357 L29.96,357 L30.38,357 L30.8,357 L31.22,357 L31.64,357 L32.06,357 L32.48,357 L32.9,357 L33.32,357 L33.74,357 L34.16,357 L34.58,357 L35,357 L35.42,357 L35.84,357 L36.26,357 L36.68,357 L37.1,357 L37.52,357 L37.94,357 L38.36,357 L38.78,357 L39.2,356.99 L39.62,356.99 L40.04,356.98 L40.46,356.96 L40.88,356.93 L41.3,356.88 L41.72,356.81 L42.14,356.7 L42.56,356.53 L42.98,356.29 L43.4,355.96 L43.82,355.49 L44.24,354.86 L44.66,354.05 L45.08,353.01 L45.5,351.72 L45.92,350.18 L46.34,348.38 L46.76,346.34 L47.18,344.13 L47.6,341.79 L48.02,339.44 L48.44,337.16 L48.86,335.1 L49.28,333.35 L49.7,332.04 L50.12,331.24 L50.54,331 L50.96,331.35 L51.38,332.25 L51.8,333.66 L52.22,335.47 L52.64,337.59 L53.06,339.88 L53.48,342.24 L53.9,344.56 L54.32,346.75 L54.74,348.74 L55.16,350.49 L55.58,351.99 L56,353.22 L56.42,354.22 L56.84,355 L57.26,355.59 L57.68,356.03 L58.1,356.35 L58.52,356.57 L58.94,356.72 L59.36,356.83 L59.78,356.89 L60.2,356.94 L60.62,356.96 L61.04,356.98 L61.46,356.99 L61.88,356.99 L62.3,357 L62.72,357 L63.14,357 L63.56,357 L63.98,357 L64.4,357 L64.82,357 L65.24,357 L65.66,357 L66.08,357 L66.5,357 L66.92,357 L67.34,357 L67.76,357 L68.18,357 L68.6,357 L69.02,357 L69.44,357 L69.86,357 L70.28,357 L70.7,357 L71.12,357 L71.54,357 L71.96,357 L72.38,357 L72.8,357 L73.22,357 L73.64,357 L74.06,357 L74.48,357 L74.9,357 L75.32,357 L75.74,357 L76.16,357 L76.58,357 L77,357 L77,357 L18.2,357 Z" stroke="none" stroke-width="1" fill="#dcf5f5"/>
<path d="M18.2,357 L18.62,357 L19.04,357 L19.46,357 L19.88,357 L20.3,357 L20.72,357 L21.14,357 L21.56,357 L21.98,357 L22.4,357 L22.82,357 L23.24,357 L23.66,357 L24.08,357 L24.5,357 L24.92,357 L25.34,357 L25.76,357 L26.18,357 L26.6,357 L27.02,357 L27.44,357 L27.86,357 L28.28,357 L28.7,357 L29.12,357 L29.54,357 L29.96,357 L30.38,357 L30.8,357 L31.22,357 L31.64,357 L32.06,357 L32.48,357 L32.9,357 L33.32,357 L33.74,357 L34.16,357 L34.58,357 L35,357 L35.42,357 L35.84,357 L36.26,357 L36.68,357 L37.1,357 L37.52,357 L37.94,357 L38.36,357 L38.78,357 L39.2,356.99 L39.62,356.99 L40.04,356.98 L40.46,356.96 L40.88,356.93 L41.3,356.88 L41.72,356.81 L42.14,356.7 L42.56,356.53 L42.98,356.29 L43.4,355.96 L43.82,355.49 L44.24,354.86 L44.66,354.05 L45.08,353.01 L45.5,351.72 L45.92,350.18 L46.34,348.38 L46.76,346.34 L47.18,344.13 L47.6,341.79 L48.02,339.44 L48.44,337.16 L48.86,335.1 L49.28,333.35 L49.7,332.04 L50.12,331.24 L50.54,331 L50.96,331.35 L51.38,332.25 L51.8,333.66 L52.22,335.47 L52.64,337.59 L53.06,339.88 L53.48,342.24 L53.9,344.56 L54.32,346.75 L54.74,348.74 L55.16,350.49 L55.58,351.99 L56,353.22 L56.42,354.22 L56.84,355 L57.26,355.59 L57.68,356.03 L58.1,356.35 L58.52,356.57 L58.94,356.72 L59.36,356.83 L59.78,356.89 L60.2,356.94 L60.62,356.96 L61.04,356.98 L61.46,356.99 L61.88,356.99 L62.3,357 L62.72,357 L63.14,357 L63.56,357 L63.98,357 L64.4,357 L64.82,357 L65.24,357 L65.66,357 L66.08,357 L66.5,357 L66.92,357 L67.34,357 L67.76,357 L68.18,357 L68.6,357 L69.02,357 L69.44,357 L69.86,357 L70.28,357 L70.7,357 L71.12,357 L71.54,357 L71.96,357 L72.38,357 L72.8,357 L73.22,357 L73.64,357 L74.06,357 L74.48,357 L74.9,357 L75.32,357 L75.74,357 L76.16,357 L76.58,357 L77,357" stroke="#bce8e8" stroke-width="0.8" fill="none" stroke-linejoin="round"/>
<path d="M43.82,355.49 L44.24,354.86 L44.66,354.05 L45.08,353.01 L45.5,351.72 L45.92,350.18 L46.34,348.38 L46.76,346.34 L47.18,344.13 L47.6,341.79 L48.02,339.44 L48.44,337.16 L48.86,335.1 L49.28,333.35 L49.7,332.04 L50.12,331.24 L50.54,331 L50.96,331.35 L51.38,332.25 L51.8,333.66 L52.22,335.47 L52.64,337.59 L53.06,339.88 L53.48,342.24 L53.9,344.56 L54.32,346.75 L54.74,348.74 L55.16,350.49 L55.58,351.99 L56,353.22 L56.42,354.22 L56.84,355 L57.26,355.59" stroke="#86d8d8" stroke-width="0.8" fill="none" stroke-linejoin="round"/>
<path d="M18.2,356.3 L18.62,356.3 L19.04,356.3 L19.46,356.3 L19.88,356.3 L20.3,356.3 L20.72,356.3 L21.14,356.3 L21.56,356.3 L21.98,356.3 L22.4,356.3 L22.82,356.3 L23.24,356.3 L23.66,356.3 L24.08,356.3 L24.5,356.3 L24.92,356.3 L25.34,356.3 L25.76,356.3 L26.18,356.3 L26.6,356.3 L27.02,356.3 L27.44,356.3 L27.86,356.3 L28.28,356.3 L28.7,356.3 L29.12,356.3 L29.54,356.3 L29.96,356.3 L30.38,356.3 L30.8,356.3 L31.22,356.3 L31.64,356.3 L32.06,356.3 L32.48,356.3 L32.9,356.3 L33.32,356.3 L33.74,356.3 L34.16,356.3 L34.58,356.3 L35,356.3 L35.42,356.3 L35.84,356.3 L36.26,356.3 L36.68,356.3 L37.1,356.3 L37.52,356.3 L37.94,356.3 L38.36,356.3 L38.78,356.3 L39.2,356.3 L39.62,356.3 L40.04,356.3 L40.46,356.3 L40.88,356.3 L41.3,356.3 L41.72,356.3 L42.14,356.3 L42.56,356.3 L42.98,356.3 L43.4,356.3 L43.82,356.3 L44.24,356.3 L44.66,356.3 L45.08,356.3 L45.5,356.3 L45.92,356.29 L46.34,356.29 L46.76,356.27 L47.18,356.25 L47.6,356.2 L48.02,356.12 L48.44,355.97 L48.86,355.73 L49.28,355.35 L49.7,354.76 L50.12,353.91 L50.54,352.71 L50.96,351.11 L51.38,349.07 L51.8,346.58 L52.22,343.7 L52.64,340.55 L53.06,337.32 L53.48,334.25 L53.9,331.59 L54.32,329.61 L54.74,328.49 L55.16,328.39 L55.58,329.45 L56,331.59 L56.42,334.54 L56.84,337.96 L57.26,341.51 L57.68,344.89 L58.1,347.88 L58.52,350.35 L58.94,352.28 L59.36,353.7 L59.78,354.69 L60.2,355.35 L60.62,355.76 L61.04,356.01 L61.46,356.15 L61.88,356.22 L62.3,356.26 L62.72,356.28 L63.14,356.29 L63.56,356.3 L63.98,356.3 L64.4,356.3 L64.82,356.3 L65.24,356.3 L65.66,356.3 L66.08,356.3 L66.5,356.3 L66.92,356.3 L67.34,356.3 L67.76,356.3 L68.18,356.3 L68.6,356.3 L69.02,356.3 L69.44,356.3 L69.86,356.3 L70.28,356.3 L70.7,356.3 L71.12,356.3 L71.54,356.3 L71.96,356.3 L72.38,356.3 L72.8,356.3 L73.22,356.3 L73.64,356.3 L74.06,356.3 L74.48,356.3 L74.9,356.3 L75.32,356.3 L75.74,356.3 L76.16,356.3 L76.58,356.3 L77,356.3" stroke="#deddb0" stroke-width="0.8" fill="none" stroke-linejoin="round"/>
<path d="M49.7,354.76 L50.12,353.91 L50.54,352.71 L50.96,351.11 L51.38,349.07 L51.8,346.58 L52.22,343.7 L52.64,340.55 L53.06,337.32 L53.48,334.25 L53.9,331.59 L54.32,329.61 L54.74,328.49 L55.16,328.39 L55.58,329.45 L56,331.59 L56.42,334.54 L56.84,337.96 L57.26,341.51 L57.68,344.89 L58.1,347.88 L58.52,350.35 L58.94,352.28 L59.36,353.7 L59.78,354.69" stroke="#c4c468" stroke-width="0.8" fill="none" stroke-linejoin="round"/>
<path d="M18.2,355.3 L18.62,355.3 L19.04,355.3 L19.46,355.3 L19.88,355.3 L20.3,355.3 L20.72,355.3 L21.14,355.3 L21.56,355.3 L21.98,355.3 L22.4,355.3 L22.82,355.3 L23.24,355.3 L23.66,355.3 L24.08,355.3 L24.5,355.3 L24.92,355.3 L25.34,355.3 L25.76,355.3 L26.18,355.3 L26.6,355.3 L27.02,355.3 L27.44,355.3 L27.86,355.3 L28.28,355.3 L28.7,355.3 L29.12,355.3 L29.54,355.3 L29.96,355.3 L30.38,355.3 L30.8,355.3 L31.22,355.3 L31.64,355.3 L32.06,355.3 L32.48,355.3 L32.9,355.3 L33.32,355.3 L33.74,355.3 L34.16,355.3 L34.58,355.3 L35,355.3 L35.42,355.3 L35.84,355.3 L36.26,355.3 L36.68,355.3 L37.1,355.3 L37.52,355.3 L37.94,355.3 L38.36,355.3 L38.78,355.3 L39.2,355.3 L39.62,355.3 L40.04,355.3 L40.46,355.3 L40.88,355.3 L41.3,355.3 L41.72,355.3 L42.14,355.29 L42.56,355.29 L42.98,355.27 L43.4,355.25 L43.82,355.2 L44.24,355.13 L44.66,355.01 L45.08,354.81 L45.5,354.52 L45.92,354.08 L46.34,353.46 L46.76,352.6 L47.18,351.46 L47.6,350 L48.02,348.21 L48.44,346.1 L48.86,343.73 L49.28,341.18 L49.7,338.59 L50.12,336.12 L50.54,333.95 L50.96,332.26 L51.38,331.17 L51.8,330.8 L52.22,331.63 L52.64,333.95 L53.06,337.33 L53.48,341.18 L53.9,344.95 L54.32,348.21 L54.74,350.77 L55.16,352.6 L55.58,353.8 L56,354.52 L56.42,354.92 L56.84,355.13 L57.26,355.23 L57.68,355.27 L58.1,355.29 L58.52,355.3 L58.94,355.3 L59.36,355.3 L59.78,355.3 L60.2,355.3 L60.62,355.3 L61.04,355.3 L61.46,355.3 L61.88,355.3 L62.3,355.3 L62.72,355.3 L63.14,355.3 L63.56,355.3 L63.98,355.3 L64.4,355.3 L64.82,355.3 L65.24,355.3 L65.66,355.3 L66.08,355.3 L66.5,355.3 L66.92,355.3 L67.34,355.3 L67.76,355.3 L68.18,355.3 L68.6,355.3 L69.02,355.3 L69.44,355.3 L69.86,355.3 L70.28,355.3 L70.7,355.3 L71.12,355.3 L71.54,355.3 L71.96,355.3 L72.38,355.3 L72.8,355.3 L73.22,355.3 L73.64,355.3 L74.06,355.3 L74.48,355.3 L74.9,355.3 L75.32,355.3 L75.74,355.3 L76.16,355.3 L76.58,355.3 L77,355.3" stroke="#eac0a0" stroke-width="0.9" fill="none" stroke-linejoin="round"/>
<path d="M45.92,354.08 L46.34,353.46 L46.76,352.6 L47.18,351.46 L47.6,350 L48.02,348.21 L48.44,346.1 L48.86,343.73 L49.28,341.18 L49.7,338.59 L50.12,336.12 L50.54,333.95 L50.96,332.26 L51.38,331.17 L51.8,330.8 L52.22,331.63 L52.64,333.95 L53.06,337.33 L53.48,341.18 L53.9,344.95 L54.32,348.21 L54.74,350.77 L55.16,352.6 L55.58,353.8" stroke="#dc8846" stroke-width="0.9" fill="none" stroke-linejoin="round"/>
<path d="M18.2,354 L18.62,354 L19.04,354 L19.46,354 L19.88,354 L20.3,354 L20.72,354 L21.14,354 L21.56,354 L21.98,354 L22.4,354 L22.82,354 L23.24,354 L23.66,354 L24.08,354 L24.5,354 L24.92,354 L25.34,354 L25.76,354 L26.18,354 L26.6,354 L27.02,354 L27.44,354 L27.86,354 L28.28,354 L28.7,354 L29.12,354 L29.54,354 L29.96,354 L30.38,354 L30.8,354 L31.22,354 L31.64,354 L32.06,354 L32.48,354 L32.9,354 L33.32,354 L33.74,354 L34.16,354 L34.58,354 L35,354 L35.42,354 L35.84,354 L36.26,354 L36.68,354 L37.1,354 L37.52,354 L37.94,354 L38.36,354 L38.78,354 L39.2,354 L39.62,354 L40.04,354 L40.46,354 L40.88,354 L41.3,354 L41.72,354 L42.14,354 L42.56,354 L42.98,354 L43.4,353.99 L43.82,353.99 L44.24,353.97 L44.66,353.95 L45.08,353.9 L45.5,353.82 L45.92,353.68 L46.34,353.47 L46.76,353.15 L47.18,352.7 L47.6,352.08 L48.02,351.3 L48.44,350.35 L48.86,349.24 L49.28,348.01 L49.7,346.7 L50.12,345.34 L50.54,343.92 L50.96,342.43 L51.38,340.8 L51.8,338.97 L52.22,336.89 L52.64,334.58 L53.06,332.11 L53.48,329.69 L53.9,327.56 L54.32,326.03 L54.74,325.34 L55.16,325.69 L55.58,327.31 L56,330.08 L56.42,333.65 L56.84,337.58 L57.26,341.44 L57.68,344.89 L58.1,347.74 L58.52,349.93 L58.94,351.49 L59.36,352.54 L59.78,353.19 L60.2,353.58 L60.62,353.79 L61.04,353.9 L61.46,353.96 L61.88,353.98 L62.3,353.99 L62.72,354 L63.14,354 L63.56,354 L63.98,354 L64.4,354 L64.82,354 L65.24,354 L65.66,354 L66.08,354 L66.5,354 L66.92,354 L67.34,354 L67.76,354 L68.18,354 L68.6,354 L69.02,354 L69.44,354 L69.86,354 L70.28,354 L70.7,354 L71.12,354 L71.54,354 L71.96,354 L72.38,354 L72.8,354 L73.22,354 L73.64,354 L74.06,354 L74.48,354 L74.9,354 L75.32,354 L75.74,354 L76.16,354 L76.58,354 L77,354" stroke="#c4e2a4" stroke-width="0.9" fill="none" stroke-linejoin="round"/>
<path d="M47.18,352.7 L47.6,352.08 L48.02,351.3 L48.44,350.35 L48.86,349.24 L49.28,348.01 L49.7,346.7 L50.12,345.34 L50.54,343.92 L50.96,342.43 L51.38,340.8 L51.8,338.97 L52.22,336.89 L52.64,334.58 L53.06,332.11 L53.48,329.69 L53.9,327.56 L54.32,326.03 L54.74,325.34 L55.16,325.69 L55.58,327.31 L56,330.08 L56.42,333.65 L56.84,337.58 L57.26,341.44 L57.68,344.89 L58.1,347.74 L58.52,349.93 L58.94,351.49 L59.36,352.54" stroke="#86c84c" stroke-width="0.9" fill="none" stroke-linejoin="round"/>
<path d="M18.2,347.8 L18.62,347.8 L19.04,347.8 L19.46,347.8 L19.88,347.8 L20.3,347.8 L20.72,347.8 L21.14,347.8 L21.56,347.8 L21.98,347.8 L22.4,347.8 L22.82,347.8 L23.24,347.8 L23.66,347.8 L24.08,347.8 L24.5,347.8 L24.92,347.8 L25.34,347.8 L25.76,347.8 L26.18,347.8 L26.6,347.8 L27.02,347.8 L27.44,347.8 L27.86,347.8 L28.28,347.8 L28.7,347.8 L29.12,347.8 L29.54,347.8 L29.96,347.8 L30.38,347.8 L30.8,347.8 L31.22,347.8 L31.64,347.8 L32.06,347.8 L32.48,347.8 L32.9,347.8 L33.32,347.8 L33.74,347.8 L34.16,347.8 L34.58,347.8 L35,347.8 L35.42,347.8 L35.84,347.79 L36.26,347.79 L36.68,347.77 L37.1,347.75 L37.52,347.72 L37.94,347.66 L38.36,347.56 L38.78,347.42 L39.2,347.2 L39.62,346.88 L40.04,346.42 L40.46,345.79 L40.88,344.95 L41.3,343.87 L41.72,342.5 L42.14,340.85 L42.56,338.92 L42.98,336.74 L43.4,334.38 L43.82,331.94 L44.24,329.53 L44.66,327.31 L45.08,325.4 L45.5,323.95 L45.92,323.03 L46.34,322.71 L46.76,323.85 L47.18,326.65 L47.6,330.2 L48.02,333.48 L48.44,335.73 L48.86,336.73 L49.28,336.85 L49.7,336.8 L50.12,337.22 L50.54,338.1 L50.96,339.35 L51.38,340.87 L51.8,342.48 L52.22,343.98 L52.64,345.24 L53.06,346.19 L53.48,346.86 L53.9,347.29 L54.32,347.54 L54.74,347.68 L55.16,347.74 L55.58,347.78 L56,347.79 L56.42,347.8 L56.84,347.8 L57.26,347.8 L57.68,347.8 L58.1,347.8 L58.52,347.8 L58.94,347.8 L59.36,347.8 L59.78,347.8 L60.2,347.8 L60.62,347.8 L61.04,347.8 L61.46,347.8 L61.88,347.8 L62.3,347.8 L62.72,347.8 L63.14,347.8 L63.56,347.8 L63.98,347.8 L64.4,347.8 L64.82,347.8 L65.24,347.8 L65.66,347.8 L66.08,347.8 L66.5,347.8 L66.92,347.8 L67.34,347.8 L67.76,347.8 L68.18,347.8 L68.6,347.8 L69.02,347.8 L69.44,347.8 L69.86,347.8 L70.28,347.8 L70.7,347.8 L71.12,347.8 L71.54,347.8 L71.96,347.8 L72.38,347.8 L72.8,347.8 L73.22,347.8 L73.64,347.8 L74.06,347.8 L74.48,347.8 L74.9,347.8 L75.32,347.8 L75.74,347.8 L76.16,347.8 L76.58,347.8 L77,347.8" stroke="#a0a0d0" stroke-width="1" fill="none" stroke-linejoin="round"/>
<path d="M40.04,346.42 L40.46,345.79 L40.88,344.95 L41.3,343.87 L41.72,342.5 L42.14,340.85 L42.56,338.92 L42.98,336.74 L43.4,334.38 L43.82,331.94 L44.24,329.53 L44.66,327.31 L45.08,325.4 L45.5,323.95 L45.92,323.03 L46.34,322.71 L46.76,323.85 L47.18,326.65 L47.6,330.2 L48.02,333.48 L48.44,335.73 L48.86,336.73 L49.28,336.85 L49.7,336.8 L50.12,337.22 L50.54,338.1 L50.96,339.35 L51.38,340.87 L51.8,342.48 L52.22,343.98 L52.64,345.24 L53.06,346.19" stroke="#7474b8" stroke-width="1" fill="none" stroke-linejoin="round"/>
<path d="M18.2,350.9 L18.62,350.9 L19.04,350.9 L19.46,350.9 L19.88,350.9 L20.3,350.9 L20.72,350.9 L21.14,350.9 L21.56,350.9 L21.98,350.9 L22.4,350.9 L22.82,350.9 L23.24,350.9 L23.66,350.9 L24.08,350.9 L24.5,350.9 L24.92,350.9 L25.34,350.9 L25.76,350.9 L26.18,350.9 L26.6,350.9 L27.02,350.9 L27.44,350.9 L27.86,350.9 L28.28,350.9 L28.7,350.9 L29.12,350.9 L29.54,350.9 L29.96,350.9 L30.38,350.9 L30.8,350.9 L31.22,350.9 L31.64,350.9 L32.06,350.9 L32.48,350.9 L32.9,350.9 L33.32,350.9 L33.74,350.9 L34.16,350.9 L34.58,350.9 L35,350.9 L35.42,350.9 L35.84,350.89 L36.26,350.89 L36.68,350.88 L37.1,350.86 L37.52,350.83 L37.94,350.78 L38.36,350.7 L38.78,350.57 L39.2,350.38 L39.62,350.09 L40.04,349.67 L40.46,349.08 L40.88,348.29 L41.3,347.25 L41.72,345.92 L42.14,344.28 L42.56,342.34 L42.98,340.1 L43.4,337.64 L43.82,335.03 L44.24,332.39 L44.66,329.88 L45.08,327.64 L45.5,325.82 L45.92,324.54 L46.34,323.88 L46.76,324.16 L47.18,326.4 L47.6,329.92 L48.02,333.62 L48.44,336.47 L48.86,337.95 L49.28,338.2 L49.7,337.92 L50.12,337.97 L50.54,338.75 L50.96,340.01 L51.38,341.7 L51.8,343.6 L52.22,345.49 L52.64,347.15 L53.06,348.47 L53.48,349.43 L53.9,350.07 L54.32,350.46 L54.74,350.69 L55.16,350.8 L55.58,350.86 L56,350.88 L56.42,350.89 L56.84,350.9 L57.26,350.9 L57.68,350.9 L58.1,350.9 L58.52,350.9 L58.94,350.9 L59.36,350.9 L59.78,350.9 L60.2,350.9 L60.62,350.9 L61.04,350.9 L61.46,350.9 L61.88,350.9 L62.3,350.9 L62.72,350.9 L63.14,350.9 L63.56,350.9 L63.98,350.9 L64.4,350.9 L64.82,350.9 L65.24,350.9 L65.66,350.9 L66.08,350.9 L66.5,350.9 L66.92,350.9 L67.34,350.9 L67.76,350.9 L68.18,350.9 L68.6,350.9 L69.02,350.9 L69.44,350.9 L69.86,350.9 L70.28,350.9 L70.7,350.9 L71.12,350.9 L71.54,350.9 L71.96,350.9 L72.38,350.9 L72.8,350.9 L73.22,350.9 L73.64,350.9 L74.06,350.9 L74.48,350.9 L74.9,350.9 L75.32,350.9 L75.74,350.9 L76.16,350.9 L76.58,350.9 L77,350.9" stroke="#8c8cd8" stroke-width="1.1" fill="none" stroke-linejoin="round"/>
<path d="M40.04,349.67 L40.46,349.08 L40.88,348.29 L41.3,347.25 L41.72,345.92 L42.14,344.28 L42.56,342.34 L42.98,340.1 L43.4,337.64 L43.82,335.03 L44.24,332.39 L44.66,329.88 L45.08,327.64 L45.5,325.82 L45.92,324.54 L46.34,323.88 L46.76,324.16 L47.18,326.4 L47.6,329.92 L48.02,333.62 L48.44,336.47 L48.86,337.95 L49.28,338.2 L49.7,337.92 L50.12,337.97 L50.54,338.75 L50.96,340.01 L51.38,341.7 L51.8,343.6 L52.22,345.49 L52.64,347.15 L53.06,348.47 L53.48,349.43" stroke="#2c2cb0" stroke-width="1.1" fill="none" stroke-linejoin="round"/>
<line x1="86" y1="360.2" x2="144" y2="360.2" stroke="#8090aa" stroke-width="0.6" stroke-dasharray="1.2,0.6"/>
<text x="90.2" y="363.4" font-size="4.3" font-weight="normal" text-anchor="middle" fill="#4a4a4a" font-family='"Liberation Sans", sans-serif'>10<tspan font-size="3" dy="-1.6">1</tspan></text>
<text x="110.5" y="363.4" font-size="4.3" font-weight="normal" text-anchor="middle" fill="#4a4a4a" font-family='"Liberation Sans", sans-serif'>10<tspan font-size="3" dy="-1.6">1</tspan></text>
<text x="130" y="363.4" font-size="4.3" font-weight="normal" text-anchor="middle" fill="#4a4a4a" font-family='"Liberation Sans", sans-serif'>10<tspan font-size="3" dy="-1.6">1</tspan></text>
<path d="M85,357.5 L85.43,357.5 L85.86,357.5 L86.29,357.5 L86.71,357.5 L87.14,357.5 L87.57,357.5 L88,357.5 L88.43,357.5 L88.86,357.5 L89.29,357.5 L89.71,357.5 L90.14,357.5 L90.57,357.5 L91,357.5 L91.43,357.5 L91.86,357.5 L92.29,357.5 L92.71,357.5 L93.14,357.5 L93.57,357.5 L94,357.5 L94.43,357.5 L94.86,357.5 L95.29,357.5 L95.71,357.5 L96.14,357.5 L96.57,357.5 L97,357.5 L97.43,357.5 L97.86,357.5 L98.29,357.5 L98.71,357.5 L99.14,357.5 L99.57,357.5 L100,357.5 L100.43,357.5 L100.86,357.5 L101.29,357.5 L101.71,357.5 L102.14,357.5 L102.57,357.5 L103,357.5 L103.43,357.5 L103.86,357.5 L104.29,357.5 L104.71,357.49 L105.14,357.49 L105.57,357.48 L106,357.47 L106.43,357.45 L106.86,357.42 L107.29,357.38 L107.71,357.32 L108.14,357.24 L108.57,357.12 L109,356.96 L109.43,356.73 L109.86,356.43 L110.29,356.04 L110.71,355.54 L111.14,354.9 L111.57,354.11 L112,353.16 L112.43,352.02 L112.86,350.69 L113.29,349.17 L113.71,347.47 L114.14,345.62 L114.57,343.65 L115,341.61 L115.43,339.55 L115.86,337.54 L116.29,335.66 L116.71,333.98 L117.14,332.57 L117.57,331.49 L118,330.79 L118.43,330.51 L118.86,330.65 L119.29,331.21 L119.71,332.17 L120.14,333.47 L120.57,335.07 L121,336.9 L121.43,338.87 L121.86,340.92 L122.29,342.97 L122.71,344.98 L123.14,346.87 L123.57,348.62 L124,350.2 L124.43,351.6 L124.86,352.8 L125.29,353.82 L125.71,354.66 L126.14,355.34 L126.57,355.89 L127,356.31 L127.43,356.64 L127.86,356.89 L128.29,357.07 L128.71,357.2 L129.14,357.3 L129.57,357.37 L130,357.41 L130.43,357.44 L130.86,357.46 L131.29,357.48 L131.71,357.49 L132.14,357.49 L132.57,357.49 L133,357.5 L133.43,357.5 L133.86,357.5 L134.29,357.5 L134.71,357.5 L135.14,357.5 L135.57,357.5 L136,357.5 L136.43,357.5 L136.86,357.5 L137.29,357.5 L137.71,357.5 L138.14,357.5 L138.57,357.5 L139,357.5 L139.43,357.5 L139.86,357.5 L140.29,357.5 L140.71,357.5 L141.14,357.5 L141.57,357.5 L142,357.5 L142.43,357.5 L142.86,357.5 L143.29,357.5 L143.71,357.5 L144.14,357.5 L144.57,357.5 L145,357.5 L145,357.5 L85,357.5 Z" stroke="none" stroke-width="1" fill="#dcf5f5"/>
<path d="M85,347.8 L85.43,347.8 L85.86,347.8 L86.29,347.8 L86.71,347.8 L87.14,347.8 L87.57,347.8 L88,347.8 L88.43,347.8 L88.86,347.8 L89.29,347.8 L89.71,347.8 L90.14,347.8 L90.57,347.79 L91,347.79 L91.43,347.78 L91.86,347.78 L92.29,347.76 L92.71,347.75 L93.14,347.73 L93.57,347.7 L94,347.66 L94.43,347.6 L94.86,347.53 L95.29,347.43 L95.71,347.31 L96.14,347.15 L96.57,346.95 L97,346.69 L97.43,346.38 L97.86,345.99 L98.29,345.53 L98.71,344.97 L99.14,344.32 L99.57,343.56 L100,342.68 L100.43,341.69 L100.86,340.59 L101.29,339.37 L101.71,338.04 L102.14,336.63 L102.57,335.14 L103,333.61 L103.43,332.05 L103.86,330.5 L104.29,329 L104.71,327.58 L105.14,326.27 L105.57,325.12 L106,324.16 L106.43,323.41 L106.86,322.89 L107.29,322.63 L107.71,322.86 L108.14,324.81 L108.57,328.27 L109,332.52 L109.43,336.77 L109.86,340.47 L110.29,343.31 L110.71,345.26 L111.14,346.48 L111.57,347.17 L112,347.52 L112.43,347.69 L112.86,347.76 L113.29,347.79 L113.71,347.8 L114.14,347.8 L114.57,347.8 L115,347.8 L115.43,347.8 L115.86,347.8 L116.29,347.8 L116.71,347.8 L117.14,347.8 L117.57,347.8 L118,347.8 L118.43,347.8 L118.86,347.8 L119.29,347.8 L119.71,347.8 L120.14,347.8 L120.57,347.8 L121,347.8 L121.43,347.8 L121.86,347.8 L122.29,347.8 L122.71,347.8 L123.14,347.8 L123.57,347.8 L124,347.8 L124.43,347.8 L124.86,347.8 L125.29,347.8 L125.71,347.8 L126.14,347.8 L126.57,347.8 L127,347.8 L127.43,347.8 L127.86,347.8 L128.29,347.8 L128.71,347.8 L129.14,347.8 L129.57,347.8 L130,347.8 L130.43,347.8 L130.86,347.8 L131.29,347.8 L131.71,347.8 L132.14,347.8 L132.57,347.8 L133,347.8 L133.43,347.8 L133.86,347.8 L134.29,347.8 L134.71,347.8 L135.14,347.8 L135.57,347.8 L136,347.8 L136.43,347.8 L136.86,347.8 L137.29,347.8 L137.71,347.8 L138.14,347.8 L138.57,347.8 L139,347.8 L139.43,347.8 L139.86,347.8 L140.29,347.8 L140.71,347.8 L141.14,347.8 L141.57,347.8 L142,347.8 L142.43,347.8 L142.86,347.8 L143.29,347.8 L143.71,347.8 L144.14,347.8 L144.57,347.8 L145,347.8 L145,347.8 L85,347.8 Z" stroke="none" stroke-width="1" fill="#b4b4b4"/>
<path d="M85,357.5 L85.43,357.5 L85.86,357.5 L86.29,357.5 L86.71,357.5 L87.14,357.5 L87.57,357.5 L88,357.5 L88.43,357.5 L88.86,357.5 L89.29,357.5 L89.71,357.5 L90.14,357.5 L90.57,357.5 L91,357.5 L91.43,357.5 L91.86,357.5 L92.29,357.5 L92.71,357.5 L93.14,357.5 L93.57,357.5 L94,357.5 L94.43,357.5 L94.86,357.5 L95.29,357.5 L95.71,357.5 L96.14,357.5 L96.57,357.5 L97,357.5 L97.43,357.5 L97.86,357.5 L98.29,357.5 L98.71,357.5 L99.14,357.5 L99.57,357.5 L100,357.5 L100.43,357.5 L100.86,357.5 L101.29,357.5 L101.71,357.5 L102.14,357.5 L102.57,357.5 L103,357.5 L103.43,357.5 L103.86,357.5 L104.29,357.5 L104.71,357.49 L105.14,357.49 L105.57,357.48 L106,357.47 L106.43,357.45 L106.86,357.42 L107.29,357.38 L107.71,357.32 L108.14,357.24 L108.57,357.12 L109,356.96 L109.43,356.73 L109.86,356.43 L110.29,356.04 L110.71,355.54 L111.14,354.9 L111.57,354.11 L112,353.16 L112.43,352.02 L112.86,350.69 L113.29,349.17 L113.71,347.47 L114.14,345.62 L114.57,343.65 L115,341.61 L115.43,339.55 L115.86,337.54 L116.29,335.66 L116.71,333.98 L117.14,332.57 L117.57,331.49 L118,330.79 L118.43,330.51 L118.86,330.65 L119.29,331.21 L119.71,332.17 L120.14,333.47 L120.57,335.07 L121,336.9 L121.43,338.87 L121.86,340.92 L122.29,342.97 L122.71,344.98 L123.14,346.87 L123.57,348.62 L124,350.2 L124.43,351.6 L124.86,352.8 L125.29,353.82 L125.71,354.66 L126.14,355.34 L126.57,355.89 L127,356.31 L127.43,356.64 L127.86,356.89 L128.29,357.07 L128.71,357.2 L129.14,357.3 L129.57,357.37 L130,357.41 L130.43,357.44 L130.86,357.46 L131.29,357.48 L131.71,357.49 L132.14,357.49 L132.57,357.49 L133,357.5 L133.43,357.5 L133.86,357.5 L134.29,357.5 L134.71,357.5 L135.14,357.5 L135.57,357.5 L136,357.5 L136.43,357.5 L136.86,357.5 L137.29,357.5 L137.71,357.5 L138.14,357.5 L138.57,357.5 L139,357.5 L139.43,357.5 L139.86,357.5 L140.29,357.5 L140.71,357.5 L141.14,357.5 L141.57,357.5 L142,357.5 L142.43,357.5 L142.86,357.5 L143.29,357.5 L143.71,357.5 L144.14,357.5 L144.57,357.5 L145,357.5" stroke="#bce8e8" stroke-width="0.8" fill="none" stroke-linejoin="round"/>
<path d="M110.29,356.04 L110.71,355.54 L111.14,354.9 L111.57,354.11 L112,353.16 L112.43,352.02 L112.86,350.69 L113.29,349.17 L113.71,347.47 L114.14,345.62 L114.57,343.65 L115,341.61 L115.43,339.55 L115.86,337.54 L116.29,335.66 L116.71,333.98 L117.14,332.57 L117.57,331.49 L118,330.79 L118.43,330.51 L118.86,330.65 L119.29,331.21 L119.71,332.17 L120.14,333.47 L120.57,335.07 L121,336.9 L121.43,338.87 L121.86,340.92 L122.29,342.97 L122.71,344.98 L123.14,346.87 L123.57,348.62 L124,350.2 L124.43,351.6 L124.86,352.8 L125.29,353.82 L125.71,354.66 L126.14,355.34 L126.57,355.89" stroke="#86d8d8" stroke-width="0.8" fill="none" stroke-linejoin="round"/>
<path d="M85,355 L85.43,355 L85.86,355 L86.29,355 L86.71,355 L87.14,355 L87.57,355 L88,355 L88.43,355 L88.86,355 L89.29,355 L89.71,355 L90.14,355 L90.57,355 L91,355 L91.43,355 L91.86,355 L92.29,355 L92.71,355 L93.14,355 L93.57,355 L94,355 L94.43,355 L94.86,355 L95.29,355 L95.71,355 L96.14,355 L96.57,355 L97,355 L97.43,355 L97.86,355 L98.29,355 L98.71,355 L99.14,355 L99.57,355 L100,355 L100.43,355 L100.86,355 L101.29,355 L101.71,355 L102.14,355 L102.57,355 L103,355 L103.43,355 L103.86,355 L104.29,355 L104.71,355 L105.14,355 L105.57,355 L106,355 L106.43,354.99 L106.86,354.99 L107.29,354.98 L107.71,354.96 L108.14,354.93 L108.57,354.89 L109,354.83 L109.43,354.73 L109.86,354.59 L110.29,354.39 L110.71,354.1 L111.14,353.71 L111.57,353.19 L112,352.51 L112.43,351.65 L112.86,350.57 L113.29,349.26 L113.71,347.72 L114.14,345.94 L114.57,343.97 L115,341.84 L115.43,339.61 L115.86,337.36 L116.29,335.2 L116.71,333.22 L117.14,331.53 L117.57,330.22 L118,329.36 L118.43,329.01 L118.86,329.18 L119.29,329.88 L119.71,331.04 L120.14,332.62 L120.57,334.51 L121,336.63 L121.43,338.85 L121.86,341.1 L122.29,343.27 L122.71,345.31 L123.14,347.15 L123.57,348.77 L124,350.16 L124.43,351.31 L124.86,352.25 L125.29,352.99 L125.71,353.56 L126.14,353.99 L126.57,354.3 L127,354.53 L127.43,354.69 L127.86,354.8 L128.29,354.87 L128.71,354.92 L129.14,354.95 L129.57,354.97 L130,354.98 L130.43,354.99 L130.86,354.99 L131.29,355 L131.71,355 L132.14,355 L132.57,355 L133,355 L133.43,355 L133.86,355 L134.29,355 L134.71,355 L135.14,355 L135.57,355 L136,355 L136.43,355 L136.86,355 L137.29,355 L137.71,355 L138.14,355 L138.57,355 L139,355 L139.43,355 L139.86,355 L140.29,355 L140.71,355 L141.14,355 L141.57,355 L142,355 L142.43,355 L142.86,355 L143.29,355 L143.71,355 L144.14,355 L144.57,355 L145,355" stroke="#deddb0" stroke-width="0.8" fill="none" stroke-linejoin="round"/>
<path d="M111.14,353.71 L111.57,353.19 L112,352.51 L112.43,351.65 L112.86,350.57 L113.29,349.26 L113.71,347.72 L114.14,345.94 L114.57,343.97 L115,341.84 L115.43,339.61 L115.86,337.36 L116.29,335.2 L116.71,333.22 L117.14,331.53 L117.57,330.22 L118,329.36 L118.43,329.01 L118.86,329.18 L119.29,329.88 L119.71,331.04 L120.14,332.62 L120.57,334.51 L121,336.63 L121.43,338.85 L121.86,341.1 L122.29,343.27 L122.71,345.31 L123.14,347.15 L123.57,348.77 L124,350.16 L124.43,351.31 L124.86,352.25 L125.29,352.99 L125.71,353.56" stroke="#c4c468" stroke-width="0.8" fill="none" stroke-linejoin="round"/>
<path d="M85,356 L85.43,356 L85.86,356 L86.29,356 L86.71,356 L87.14,356 L87.57,356 L88,356 L88.43,356 L88.86,356 L89.29,356 L89.71,356 L90.14,356 L90.57,356 L91,356 L91.43,356 L91.86,356 L92.29,356 L92.71,356 L93.14,356 L93.57,356 L94,356 L94.43,356 L94.86,356 L95.29,356 L95.71,356 L96.14,356 L96.57,356 L97,356 L97.43,356 L97.86,356 L98.29,356 L98.71,356 L99.14,356 L99.57,356 L100,356 L100.43,356 L100.86,356 L101.29,356 L101.71,356 L102.14,356 L102.57,356 L103,356 L103.43,356 L103.86,356 L104.29,356 L104.71,356 L105.14,356 L105.57,356 L106,356 L106.43,356 L106.86,356 L107.29,356 L107.71,356 L108.14,355.99 L108.57,355.99 L109,355.97 L109.43,355.96 L109.86,355.93 L110.29,355.89 L110.71,355.83 L111.14,355.73 L111.57,355.59 L112,355.4 L112.43,355.13 L112.86,354.77 L113.29,354.28 L113.71,353.66 L114.14,352.88 L114.57,351.91 L115,350.76 L115.43,349.42 L115.86,347.91 L116.29,346.24 L116.71,344.47 L117.14,342.66 L117.57,340.87 L118,339.18 L118.43,337.69 L118.86,336.47 L119.29,335.59 L119.71,335.1 L120.14,335.02 L120.57,335.38 L121,336.13 L121.43,337.25 L121.86,338.66 L122.29,340.29 L122.71,342.05 L123.14,343.87 L123.57,345.66 L124,347.37 L124.43,348.94 L124.86,350.34 L125.29,351.55 L125.71,352.58 L126.14,353.42 L126.57,354.09 L127,354.62 L127.43,355.02 L127.86,355.32 L128.29,355.54 L128.71,355.69 L129.14,355.8 L129.57,355.87 L130,355.92 L130.43,355.95 L130.86,355.97 L131.29,355.98 L131.71,355.99 L132.14,355.99 L132.57,356 L133,356 L133.43,356 L133.86,356 L134.29,356 L134.71,356 L135.14,356 L135.57,356 L136,356 L136.43,356 L136.86,356 L137.29,356 L137.71,356 L138.14,356 L138.57,356 L139,356 L139.43,356 L139.86,356 L140.29,356 L140.71,356 L141.14,356 L141.57,356 L142,356 L142.43,356 L142.86,356 L143.29,356 L143.71,356 L144.14,356 L144.57,356 L145,356" stroke="#eac0a0" stroke-width="0.8" fill="none" stroke-linejoin="round"/>
<path d="M112.86,354.77 L113.29,354.28 L113.71,353.66 L114.14,352.88 L114.57,351.91 L115,350.76 L115.43,349.42 L115.86,347.91 L116.29,346.24 L116.71,344.47 L117.14,342.66 L117.57,340.87 L118,339.18 L118.43,337.69 L118.86,336.47 L119.29,335.59 L119.71,335.1 L120.14,335.02 L120.57,335.38 L121,336.13 L121.43,337.25 L121.86,338.66 L122.29,340.29 L122.71,342.05 L123.14,343.87 L123.57,345.66 L124,347.37 L124.43,348.94 L124.86,350.34 L125.29,351.55 L125.71,352.58 L126.14,353.42 L126.57,354.09 L127,354.62" stroke="#dc8846" stroke-width="0.8" fill="none" stroke-linejoin="round"/>
<path d="M85,353.5 L85.43,353.5 L85.86,353.5 L86.29,353.5 L86.71,353.5 L87.14,353.5 L87.57,353.5 L88,353.5 L88.43,353.5 L88.86,353.5 L89.29,353.5 L89.71,353.5 L90.14,353.5 L90.57,353.5 L91,353.5 L91.43,353.5 L91.86,353.5 L92.29,353.5 L92.71,353.5 L93.14,353.5 L93.57,353.5 L94,353.5 L94.43,353.5 L94.86,353.5 L95.29,353.5 L95.71,353.5 L96.14,353.5 L96.57,353.5 L97,353.5 L97.43,353.5 L97.86,353.5 L98.29,353.5 L98.71,353.5 L99.14,353.5 L99.57,353.5 L100,353.5 L100.43,353.5 L100.86,353.5 L101.29,353.5 L101.71,353.5 L102.14,353.5 L102.57,353.5 L103,353.5 L103.43,353.5 L103.86,353.5 L104.29,353.5 L104.71,353.5 L105.14,353.5 L105.57,353.5 L106,353.5 L106.43,353.49 L106.86,353.49 L107.29,353.48 L107.71,353.46 L108.14,353.44 L108.57,353.4 L109,353.34 L109.43,353.25 L109.86,353.12 L110.29,352.93 L110.71,352.67 L111.14,352.31 L111.57,351.83 L112,351.2 L112.43,350.4 L112.86,349.41 L113.29,348.2 L113.71,346.78 L114.14,345.14 L114.57,343.32 L115,341.35 L115.43,339.29 L115.86,337.22 L116.29,335.22 L116.71,333.4 L117.14,331.83 L117.57,330.62 L118,329.83 L118.43,329.51 L118.86,329.67 L119.29,330.31 L119.71,331.39 L120.14,332.84 L120.57,334.59 L121,336.54 L121.43,338.6 L121.86,340.67 L122.29,342.68 L122.71,344.55 L123.14,346.25 L123.57,347.75 L124,349.03 L124.43,350.09 L124.86,350.96 L125.29,351.64 L125.71,352.17 L126.14,352.56 L126.57,352.86 L127,353.07 L127.43,353.21 L127.86,353.31 L128.29,353.38 L128.71,353.43 L129.14,353.46 L129.57,353.47 L130,353.48 L130.43,353.49 L130.86,353.5 L131.29,353.5 L131.71,353.5 L132.14,353.5 L132.57,353.5 L133,353.5 L133.43,353.5 L133.86,353.5 L134.29,353.5 L134.71,353.5 L135.14,353.5 L135.57,353.5 L136,353.5 L136.43,353.5 L136.86,353.5 L137.29,353.5 L137.71,353.5 L138.14,353.5 L138.57,353.5 L139,353.5 L139.43,353.5 L139.86,353.5 L140.29,353.5 L140.71,353.5 L141.14,353.5 L141.57,353.5 L142,353.5 L142.43,353.5 L142.86,353.5 L143.29,353.5 L143.71,353.5 L144.14,353.5 L144.57,353.5 L145,353.5" stroke="#c4e2a4" stroke-width="0.9" fill="none" stroke-linejoin="round"/>
<path d="M111.57,351.83 L112,351.2 L112.43,350.4 L112.86,349.41 L113.29,348.2 L113.71,346.78 L114.14,345.14 L114.57,343.32 L115,341.35 L115.43,339.29 L115.86,337.22 L116.29,335.22 L116.71,333.4 L117.14,331.83 L117.57,330.62 L118,329.83 L118.43,329.51 L118.86,329.67 L119.29,330.31 L119.71,331.39 L120.14,332.84 L120.57,334.59 L121,336.54 L121.43,338.6 L121.86,340.67 L122.29,342.68 L122.71,344.55 L123.14,346.25 L123.57,347.75 L124,349.03 L124.43,350.09 L124.86,350.96 L125.29,351.64 L125.71,352.17" stroke="#86c84c" stroke-width="0.9" fill="none" stroke-linejoin="round"/>
<path d="M85,347.8 L85.43,347.8 L85.86,347.8 L86.29,347.8 L86.71,347.8 L87.14,347.8 L87.57,347.8 L88,347.8 L88.43,347.8 L88.86,347.8 L89.29,347.8 L89.71,347.8 L90.14,347.8 L90.57,347.79 L91,347.79 L91.43,347.78 L91.86,347.78 L92.29,347.76 L92.71,347.75 L93.14,347.73 L93.57,347.7 L94,347.66 L94.43,347.6 L94.86,347.53 L95.29,347.43 L95.71,347.31 L96.14,347.15 L96.57,346.95 L97,346.69 L97.43,346.38 L97.86,345.99 L98.29,345.53 L98.71,344.97 L99.14,344.32 L99.57,343.56 L100,342.68 L100.43,341.69 L100.86,340.59 L101.29,339.37 L101.71,338.04 L102.14,336.63 L102.57,335.14 L103,333.61 L103.43,332.05 L103.86,330.5 L104.29,329 L104.71,327.58 L105.14,326.27 L105.57,325.12 L106,324.16 L106.43,323.41 L106.86,322.89 L107.29,322.63 L107.71,322.86 L108.14,324.81 L108.57,328.27 L109,332.52 L109.43,336.77 L109.86,340.47 L110.29,343.31 L110.71,345.26 L111.14,346.48 L111.57,347.17 L112,347.52 L112.43,347.69 L112.86,347.76 L113.29,347.79 L113.71,347.8 L114.14,347.8 L114.57,347.8 L115,347.8 L115.43,347.8 L115.86,347.8 L116.29,347.8 L116.71,347.8 L117.14,347.8 L117.57,347.8 L118,347.8 L118.43,347.8 L118.86,347.8 L119.29,347.8 L119.71,347.8 L120.14,347.8 L120.57,347.8 L121,347.8 L121.43,347.8 L121.86,347.8 L122.29,347.8 L122.71,347.8 L123.14,347.8 L123.57,347.8 L124,347.8 L124.43,347.8 L124.86,347.8 L125.29,347.8 L125.71,347.8 L126.14,347.8 L126.57,347.8 L127,347.8 L127.43,347.8 L127.86,347.8 L128.29,347.8 L128.71,347.8 L129.14,347.8 L129.57,347.8 L130,347.8 L130.43,347.8 L130.86,347.8 L131.29,347.8 L131.71,347.8 L132.14,347.8 L132.57,347.8 L133,347.8 L133.43,347.8 L133.86,347.8 L134.29,347.8 L134.71,347.8 L135.14,347.8 L135.57,347.8 L136,347.8 L136.43,347.8 L136.86,347.8 L137.29,347.8 L137.71,347.8 L138.14,347.8 L138.57,347.8 L139,347.8 L139.43,347.8 L139.86,347.8 L140.29,347.8 L140.71,347.8 L141.14,347.8 L141.57,347.8 L142,347.8 L142.43,347.8 L142.86,347.8 L143.29,347.8 L143.71,347.8 L144.14,347.8 L144.57,347.8 L145,347.8" stroke="#b4b4b4" stroke-width="1" fill="none" stroke-linejoin="round"/>
<path d="M97.43,346.38 L97.86,345.99 L98.29,345.53 L98.71,344.97 L99.14,344.32 L99.57,343.56 L100,342.68 L100.43,341.69 L100.86,340.59 L101.29,339.37 L101.71,338.04 L102.14,336.63 L102.57,335.14 L103,333.61 L103.43,332.05 L103.86,330.5 L104.29,329 L104.71,327.58 L105.14,326.27 L105.57,325.12 L106,324.16 L106.43,323.41 L106.86,322.89 L107.29,322.63 L107.71,322.86 L108.14,324.81 L108.57,328.27 L109,332.52 L109.43,336.77 L109.86,340.47 L110.29,343.31 L110.71,345.26 L111.14,346.48" stroke="#666666" stroke-width="1" fill="none" stroke-linejoin="round"/>
<path d="M85,351.2 L85.43,351.2 L85.86,351.2 L86.29,351.2 L86.71,351.2 L87.14,351.2 L87.57,351.2 L88,351.2 L88.43,351.2 L88.86,351.19 L89.29,351.19 L89.71,351.19 L90.14,351.18 L90.57,351.18 L91,351.17 L91.43,351.16 L91.86,351.15 L92.29,351.13 L92.71,351.11 L93.14,351.08 L93.57,351.04 L94,351 L94.43,350.95 L94.86,350.88 L95.29,350.81 L95.71,350.71 L96.14,350.6 L96.57,350.47 L97,350.31 L97.43,350.13 L97.86,349.92 L98.29,349.69 L98.71,349.42 L99.14,349.12 L99.57,348.78 L100,348.42 L100.43,348.02 L100.86,347.6 L101.29,347.14 L101.71,346.66 L102.14,346.16 L102.57,345.65 L103,345.13 L103.43,344.62 L103.86,344.11 L104.29,343.61 L104.71,343.14 L105.14,342.71 L105.57,342.31 L106,341.97 L106.43,341.68 L106.86,341.46 L107.29,341.3 L107.71,341.22 L108.14,341.21 L108.57,341.32 L109,341.56 L109.43,341.88 L109.86,342.15 L110.29,342.17 L110.71,341.61 L111.14,340.09 L111.57,337.36 L112,333.59 L112.43,329.58 L112.86,326.55 L113.29,325.7 L113.71,328.5 L114.14,334.67 L114.57,341.26 L115,346.1 L115.43,348.79 L115.86,350 L116.29,350.5 L116.71,350.73 L117.14,350.87 L117.57,350.96 L118,351.03 L118.43,351.08 L118.86,351.12 L119.29,351.14 L119.71,351.16 L120.14,351.18 L120.57,351.18 L121,351.19 L121.43,351.19 L121.86,351.2 L122.29,351.2 L122.71,351.2 L123.14,351.2 L123.57,351.2 L124,351.2 L124.43,351.2 L124.86,351.2 L125.29,351.2 L125.71,351.2 L126.14,351.2 L126.57,351.2 L127,351.2 L127.43,351.2 L127.86,351.2 L128.29,351.2 L128.71,351.2 L129.14,351.2 L129.57,351.2 L130,351.2 L130.43,351.2 L130.86,351.2 L131.29,351.2 L131.71,351.2 L132.14,351.2 L132.57,351.2 L133,351.2 L133.43,351.2 L133.86,351.2 L134.29,351.2 L134.71,351.2 L135.14,351.2 L135.57,351.2 L136,351.2 L136.43,351.2 L136.86,351.2 L137.29,351.2 L137.71,351.2 L138.14,351.2 L138.57,351.2 L139,351.2 L139.43,351.2 L139.86,351.2 L140.29,351.2 L140.71,351.2 L141.14,351.2 L141.57,351.2 L142,351.2 L142.43,351.2 L142.86,351.2 L143.29,351.2 L143.71,351.2 L144.14,351.2 L144.57,351.2 L145,351.2" stroke="#8c8cd8" stroke-width="1.2" fill="none" stroke-linejoin="round"/>
<path d="M97.86,349.92 L98.29,349.69 L98.71,349.42 L99.14,349.12 L99.57,348.78 L100,348.42 L100.43,348.02 L100.86,347.6 L101.29,347.14 L101.71,346.66 L102.14,346.16 L102.57,345.65 L103,345.13 L103.43,344.62 L103.86,344.11 L104.29,343.61 L104.71,343.14 L105.14,342.71 L105.57,342.31 L106,341.97 L106.43,341.68 L106.86,341.46 L107.29,341.3 L107.71,341.22 L108.14,341.21 L108.57,341.32 L109,341.56 L109.43,341.88 L109.86,342.15 L110.29,342.17 L110.71,341.61 L111.14,340.09 L111.57,337.36 L112,333.59 L112.43,329.58 L112.86,326.55 L113.29,325.7 L113.71,328.5 L114.14,334.67 L114.57,341.26 L115,346.1 L115.43,348.79" stroke="#2c2cb0" stroke-width="1.2" fill="none" stroke-linejoin="round"/>
<line x1="153.3" y1="360" x2="214" y2="360" stroke="#8090aa" stroke-width="0.6" stroke-dasharray="1.2,0.6"/>
<text x="157" y="363.4" font-size="4.3" font-weight="normal" text-anchor="middle" fill="#4a4a4a" font-family='"Liberation Sans", sans-serif'>10<tspan font-size="3" dy="-1.6">1</tspan></text>
<text x="178.7" y="363.4" font-size="4.3" font-weight="normal" text-anchor="middle" fill="#4a4a4a" font-family='"Liberation Sans", sans-serif'>10<tspan font-size="3" dy="-1.6">1</tspan></text>
<text x="200.4" y="363.4" font-size="4.3" font-weight="normal" text-anchor="middle" fill="#4a4a4a" font-family='"Liberation Sans", sans-serif'>10<tspan font-size="3" dy="-1.6">1</tspan></text>
<path d="M152.3,357.5 L152.75,357.5 L153.2,357.5 L153.64,357.5 L154.09,357.5 L154.54,357.5 L154.99,357.5 L155.44,357.5 L155.88,357.5 L156.33,357.5 L156.78,357.5 L157.23,357.5 L157.67,357.5 L158.12,357.5 L158.57,357.5 L159.02,357.5 L159.47,357.5 L159.91,357.5 L160.36,357.5 L160.81,357.5 L161.26,357.5 L161.71,357.5 L162.15,357.5 L162.6,357.5 L163.05,357.5 L163.5,357.5 L163.94,357.5 L164.39,357.5 L164.84,357.5 L165.29,357.5 L165.74,357.5 L166.18,357.5 L166.63,357.5 L167.08,357.5 L167.53,357.5 L167.98,357.5 L168.42,357.5 L168.87,357.5 L169.32,357.5 L169.77,357.5 L170.21,357.5 L170.66,357.5 L171.11,357.5 L171.56,357.5 L172.01,357.5 L172.45,357.5 L172.9,357.49 L173.35,357.49 L173.8,357.48 L174.25,357.47 L174.69,357.45 L175.14,357.43 L175.59,357.39 L176.04,357.34 L176.48,357.26 L176.93,357.15 L177.38,357 L177.83,356.79 L178.28,356.52 L178.72,356.16 L179.17,355.7 L179.62,355.12 L180.07,354.41 L180.52,353.55 L180.96,352.53 L181.41,351.35 L181.86,350.02 L182.31,348.55 L182.75,346.96 L183.2,345.29 L183.65,343.58 L184.1,341.9 L184.55,340.3 L184.99,338.83 L185.44,337.58 L185.89,336.58 L186.34,335.89 L186.78,335.54 L187.23,335.55 L187.68,335.91 L188.13,336.61 L188.58,337.62 L189.02,338.89 L189.47,340.36 L189.92,341.97 L190.37,343.65 L190.82,345.36 L191.26,347.02 L191.71,348.61 L192.16,350.08 L192.61,351.4 L193.06,352.57 L193.5,353.58 L193.95,354.44 L194.4,355.14 L194.85,355.72 L195.29,356.17 L195.74,356.53 L196.19,356.8 L196.64,357 L197.09,357.15 L197.53,357.26 L197.98,357.34 L198.43,357.39 L198.88,357.43 L199.32,357.46 L199.77,357.47 L200.22,357.48 L200.67,357.49 L201.12,357.49 L201.56,357.5 L202.01,357.5 L202.46,357.5 L202.91,357.5 L203.36,357.5 L203.8,357.5 L204.25,357.5 L204.7,357.5 L205.15,357.5 L205.59,357.5 L206.04,357.5 L206.49,357.5 L206.94,357.5 L207.39,357.5 L207.83,357.5 L208.28,357.5 L208.73,357.5 L209.18,357.5 L209.63,357.5 L210.07,357.5 L210.52,357.5 L210.97,357.5 L211.42,357.5 L211.87,357.5 L212.31,357.5 L212.76,357.5 L213.21,357.5 L213.66,357.5 L214.1,357.5 L214.55,357.5 L215,357.5 L215,357.5 L152.3,357.5 Z" stroke="none" stroke-width="1" fill="#dcf5f5"/>
<path d="M152.3,347.5 L152.75,347.5 L153.2,347.5 L153.64,347.5 L154.09,347.5 L154.54,347.5 L154.99,347.5 L155.44,347.5 L155.88,347.5 L156.33,347.5 L156.78,347.5 L157.23,347.5 L157.67,347.5 L158.12,347.5 L158.57,347.5 L159.02,347.5 L159.47,347.49 L159.91,347.49 L160.36,347.48 L160.81,347.48 L161.26,347.47 L161.71,347.45 L162.15,347.43 L162.6,347.39 L163.05,347.35 L163.5,347.29 L163.94,347.21 L164.39,347.1 L164.84,346.97 L165.29,346.79 L165.74,346.56 L166.18,346.27 L166.63,345.91 L167.08,345.46 L167.53,344.93 L167.98,344.29 L168.42,343.53 L168.87,342.66 L169.32,341.66 L169.77,340.53 L170.21,339.28 L170.66,337.91 L171.11,336.44 L171.56,334.89 L172.01,333.28 L172.45,331.66 L172.9,330.04 L173.35,328.48 L173.8,327.01 L174.25,325.68 L174.69,324.53 L175.14,323.59 L175.59,322.89 L176.04,322.45 L176.48,322.3 L176.93,323.88 L177.38,328.24 L177.83,333.84 L178.28,339.07 L178.72,342.97 L179.17,345.39 L179.62,346.64 L180.07,347.2 L180.52,347.41 L180.96,347.47 L181.41,347.49 L181.86,347.5 L182.31,347.5 L182.75,347.5 L183.2,347.5 L183.65,347.5 L184.1,347.5 L184.55,347.5 L184.99,347.5 L185.44,347.5 L185.89,347.5 L186.34,347.5 L186.78,347.5 L187.23,347.5 L187.68,347.5 L188.13,347.5 L188.58,347.5 L189.02,347.5 L189.47,347.5 L189.92,347.5 L190.37,347.5 L190.82,347.5 L191.26,347.5 L191.71,347.5 L192.16,347.5 L192.61,347.5 L193.06,347.5 L193.5,347.5 L193.95,347.5 L194.4,347.5 L194.85,347.5 L195.29,347.5 L195.74,347.5 L196.19,347.5 L196.64,347.5 L197.09,347.5 L197.53,347.5 L197.98,347.5 L198.43,347.5 L198.88,347.5 L199.32,347.5 L199.77,347.5 L200.22,347.5 L200.67,347.5 L201.12,347.5 L201.56,347.5 L202.01,347.5 L202.46,347.5 L202.91,347.5 L203.36,347.5 L203.8,347.5 L204.25,347.5 L204.7,347.5 L205.15,347.5 L205.59,347.5 L206.04,347.5 L206.49,347.5 L206.94,347.5 L207.39,347.5 L207.83,347.5 L208.28,347.5 L208.73,347.5 L209.18,347.5 L209.63,347.5 L210.07,347.5 L210.52,347.5 L210.97,347.5 L211.42,347.5 L211.87,347.5 L212.31,347.5 L212.76,347.5 L213.21,347.5 L213.66,347.5 L214.1,347.5 L214.55,347.5 L215,347.5 L215,347.5 L152.3,347.5 Z" stroke="none" stroke-width="1" fill="#a8a8b0"/>
<path d="M152.3,357.5 L152.75,357.5 L153.2,357.5 L153.64,357.5 L154.09,357.5 L154.54,357.5 L154.99,357.5 L155.44,357.5 L155.88,357.5 L156.33,357.5 L156.78,357.5 L157.23,357.5 L157.67,357.5 L158.12,357.5 L158.57,357.5 L159.02,357.5 L159.47,357.5 L159.91,357.5 L160.36,357.5 L160.81,357.5 L161.26,357.5 L161.71,357.5 L162.15,357.5 L162.6,357.5 L163.05,357.5 L163.5,357.5 L163.94,357.5 L164.39,357.5 L164.84,357.5 L165.29,357.5 L165.74,357.5 L166.18,357.5 L166.63,357.5 L167.08,357.5 L167.53,357.5 L167.98,357.5 L168.42,357.5 L168.87,357.5 L169.32,357.5 L169.77,357.5 L170.21,357.5 L170.66,357.5 L171.11,357.5 L171.56,357.5 L172.01,357.5 L172.45,357.5 L172.9,357.49 L173.35,357.49 L173.8,357.48 L174.25,357.47 L174.69,357.45 L175.14,357.43 L175.59,357.39 L176.04,357.34 L176.48,357.26 L176.93,357.15 L177.38,357 L177.83,356.79 L178.28,356.52 L178.72,356.16 L179.17,355.7 L179.62,355.12 L180.07,354.41 L180.52,353.55 L180.96,352.53 L181.41,351.35 L181.86,350.02 L182.31,348.55 L182.75,346.96 L183.2,345.29 L183.65,343.58 L184.1,341.9 L184.55,340.3 L184.99,338.83 L185.44,337.58 L185.89,336.58 L186.34,335.89 L186.78,335.54 L187.23,335.55 L187.68,335.91 L188.13,336.61 L188.58,337.62 L189.02,338.89 L189.47,340.36 L189.92,341.97 L190.37,343.65 L190.82,345.36 L191.26,347.02 L191.71,348.61 L192.16,350.08 L192.61,351.4 L193.06,352.57 L193.5,353.58 L193.95,354.44 L194.4,355.14 L194.85,355.72 L195.29,356.17 L195.74,356.53 L196.19,356.8 L196.64,357 L197.09,357.15 L197.53,357.26 L197.98,357.34 L198.43,357.39 L198.88,357.43 L199.32,357.46 L199.77,357.47 L200.22,357.48 L200.67,357.49 L201.12,357.49 L201.56,357.5 L202.01,357.5 L202.46,357.5 L202.91,357.5 L203.36,357.5 L203.8,357.5 L204.25,357.5 L204.7,357.5 L205.15,357.5 L205.59,357.5 L206.04,357.5 L206.49,357.5 L206.94,357.5 L207.39,357.5 L207.83,357.5 L208.28,357.5 L208.73,357.5 L209.18,357.5 L209.63,357.5 L210.07,357.5 L210.52,357.5 L210.97,357.5 L211.42,357.5 L211.87,357.5 L212.31,357.5 L212.76,357.5 L213.21,357.5 L213.66,357.5 L214.1,357.5 L214.55,357.5 L215,357.5" stroke="#bce8e8" stroke-width="0.8" fill="none" stroke-linejoin="round"/>
<path d="M178.72,356.16 L179.17,355.7 L179.62,355.12 L180.07,354.41 L180.52,353.55 L180.96,352.53 L181.41,351.35 L181.86,350.02 L182.31,348.55 L182.75,346.96 L183.2,345.29 L183.65,343.58 L184.1,341.9 L184.55,340.3 L184.99,338.83 L185.44,337.58 L185.89,336.58 L186.34,335.89 L186.78,335.54 L187.23,335.55 L187.68,335.91 L188.13,336.61 L188.58,337.62 L189.02,338.89 L189.47,340.36 L189.92,341.97 L190.37,343.65 L190.82,345.36 L191.26,347.02 L191.71,348.61 L192.16,350.08 L192.61,351.4 L193.06,352.57 L193.5,353.58 L193.95,354.44 L194.4,355.14 L194.85,355.72 L195.29,356.17" stroke="#86d8d8" stroke-width="0.8" fill="none" stroke-linejoin="round"/>
<path d="M152.3,355 L152.75,355 L153.2,355 L153.64,355 L154.09,355 L154.54,355 L154.99,355 L155.44,355 L155.88,355 L156.33,355 L156.78,355 L157.23,355 L157.67,355 L158.12,355 L158.57,355 L159.02,355 L159.47,355 L159.91,355 L160.36,355 L160.81,355 L161.26,355 L161.71,355 L162.15,355 L162.6,355 L163.05,355 L163.5,355 L163.94,355 L164.39,355 L164.84,355 L165.29,355 L165.74,355 L166.18,355 L166.63,355 L167.08,355 L167.53,355 L167.98,355 L168.42,355 L168.87,355 L169.32,355 L169.77,355 L170.21,355 L170.66,355 L171.11,355 L171.56,355 L172.01,355 L172.45,355 L172.9,355 L173.35,355 L173.8,355 L174.25,355 L174.69,354.99 L175.14,354.95 L175.59,354.87 L176.04,354.68 L176.48,354.31 L176.93,353.66 L177.38,352.63 L177.83,351.16 L178.28,349.24 L178.72,346.94 L179.17,344.39 L179.62,341.73 L180.07,339.16 L180.52,336.8 L180.96,334.77 L181.41,333.11 L181.86,331.84 L182.31,330.91 L182.75,330.28 L183.2,329.89 L183.65,329.66 L184.1,329.55 L184.55,329.51 L184.99,329.5 L185.44,329.5 L185.89,329.5 L186.34,329.52 L186.78,329.58 L187.23,329.78 L187.68,330.19 L188.13,330.94 L188.58,332.14 L189.02,333.87 L189.47,336.18 L189.92,338.99 L190.37,342.14 L190.82,345.37 L191.26,348.36 L191.71,350.85 L192.16,352.68 L192.61,353.86 L193.06,354.52 L193.5,354.83 L193.95,354.95 L194.4,354.99 L194.85,355 L195.29,355 L195.74,355 L196.19,355 L196.64,355 L197.09,355 L197.53,355 L197.98,355 L198.43,355 L198.88,355 L199.32,355 L199.77,355 L200.22,355 L200.67,355 L201.12,355 L201.56,355 L202.01,355 L202.46,355 L202.91,355 L203.36,355 L203.8,355 L204.25,355 L204.7,355 L205.15,355 L205.59,355 L206.04,355 L206.49,355 L206.94,355 L207.39,355 L207.83,355 L208.28,355 L208.73,355 L209.18,355 L209.63,355 L210.07,355 L210.52,355 L210.97,355 L211.42,355 L211.87,355 L212.31,355 L212.76,355 L213.21,355 L213.66,355 L214.1,355 L214.55,355 L215,355" stroke="#eac0a0" stroke-width="0.9" fill="none" stroke-linejoin="round"/>
<path d="M176.93,353.66 L177.38,352.63 L177.83,351.16 L178.28,349.24 L178.72,346.94 L179.17,344.39 L179.62,341.73 L180.07,339.16 L180.52,336.8 L180.96,334.77 L181.41,333.11 L181.86,331.84 L182.31,330.91 L182.75,330.28 L183.2,329.89 L183.65,329.66 L184.1,329.55 L184.55,329.51 L184.99,329.5 L185.44,329.5 L185.89,329.5 L186.34,329.52 L186.78,329.58 L187.23,329.78 L187.68,330.19 L188.13,330.94 L188.58,332.14 L189.02,333.87 L189.47,336.18 L189.92,338.99 L190.37,342.14 L190.82,345.37 L191.26,348.36 L191.71,350.85 L192.16,352.68" stroke="#dc8846" stroke-width="0.9" fill="none" stroke-linejoin="round"/>
<path d="M152.3,353.5 L152.75,353.5 L153.2,353.5 L153.64,353.5 L154.09,353.5 L154.54,353.5 L154.99,353.5 L155.44,353.5 L155.88,353.5 L156.33,353.5 L156.78,353.5 L157.23,353.5 L157.67,353.5 L158.12,353.5 L158.57,353.5 L159.02,353.5 L159.47,353.5 L159.91,353.5 L160.36,353.5 L160.81,353.5 L161.26,353.5 L161.71,353.5 L162.15,353.5 L162.6,353.5 L163.05,353.5 L163.5,353.5 L163.94,353.5 L164.39,353.5 L164.84,353.5 L165.29,353.5 L165.74,353.5 L166.18,353.5 L166.63,353.5 L167.08,353.5 L167.53,353.5 L167.98,353.5 L168.42,353.5 L168.87,353.5 L169.32,353.5 L169.77,353.5 L170.21,353.5 L170.66,353.5 L171.11,353.5 L171.56,353.5 L172.01,353.5 L172.45,353.5 L172.9,353.5 L173.35,353.5 L173.8,353.5 L174.25,353.5 L174.69,353.5 L175.14,353.5 L175.59,353.5 L176.04,353.5 L176.48,353.5 L176.93,353.5 L177.38,353.5 L177.83,353.5 L178.28,353.5 L178.72,353.5 L179.17,353.5 L179.62,353.5 L180.07,353.5 L180.52,353.5 L180.96,353.5 L181.41,353.49 L181.86,353.46 L182.31,353.39 L182.75,353.23 L183.2,352.91 L183.65,352.34 L184.1,351.41 L184.55,350.03 L184.99,348.18 L185.44,345.88 L185.89,343.27 L186.34,340.53 L186.78,337.89 L187.23,335.54 L187.68,333.61 L188.13,332.19 L188.58,331.26 L189.02,330.75 L189.47,330.54 L189.92,330.5 L190.37,330.5 L190.82,330.54 L191.26,330.64 L191.71,330.84 L192.16,331.19 L192.61,331.69 L193.06,332.39 L193.5,333.29 L193.95,334.39 L194.4,335.69 L194.85,337.16 L195.29,338.78 L195.74,340.48 L196.19,342.22 L196.64,343.95 L197.09,345.6 L197.53,347.14 L197.98,348.51 L198.43,349.7 L198.88,350.69 L199.32,351.49 L199.77,352.11 L200.22,352.57 L200.67,352.9 L201.12,353.13 L201.56,353.28 L202.01,353.37 L202.46,353.43 L202.91,353.46 L203.36,353.48 L203.8,353.49 L204.25,353.5 L204.7,353.5 L205.15,353.5 L205.59,353.5 L206.04,353.5 L206.49,353.5 L206.94,353.5 L207.39,353.5 L207.83,353.5 L208.28,353.5 L208.73,353.5 L209.18,353.5 L209.63,353.5 L210.07,353.5 L210.52,353.5 L210.97,353.5 L211.42,353.5 L211.87,353.5 L212.31,353.5 L212.76,353.5 L213.21,353.5 L213.66,353.5 L214.1,353.5 L214.55,353.5 L215,353.5" stroke="#c4e2a4" stroke-width="0.9" fill="none" stroke-linejoin="round"/>
<path d="M184.1,351.41 L184.55,350.03 L184.99,348.18 L185.44,345.88 L185.89,343.27 L186.34,340.53 L186.78,337.89 L187.23,335.54 L187.68,333.61 L188.13,332.19 L188.58,331.26 L189.02,330.75 L189.47,330.54 L189.92,330.5 L190.37,330.5 L190.82,330.54 L191.26,330.64 L191.71,330.84 L192.16,331.19 L192.61,331.69 L193.06,332.39 L193.5,333.29 L193.95,334.39 L194.4,335.69 L194.85,337.16 L195.29,338.78 L195.74,340.48 L196.19,342.22 L196.64,343.95 L197.09,345.6 L197.53,347.14 L197.98,348.51 L198.43,349.7 L198.88,350.69 L199.32,351.49 L199.77,352.11" stroke="#86c84c" stroke-width="0.9" fill="none" stroke-linejoin="round"/>
<path d="M152.3,347.5 L152.75,347.5 L153.2,347.5 L153.64,347.5 L154.09,347.5 L154.54,347.5 L154.99,347.5 L155.44,347.5 L155.88,347.5 L156.33,347.5 L156.78,347.5 L157.23,347.5 L157.67,347.5 L158.12,347.5 L158.57,347.5 L159.02,347.5 L159.47,347.49 L159.91,347.49 L160.36,347.48 L160.81,347.48 L161.26,347.47 L161.71,347.45 L162.15,347.43 L162.6,347.39 L163.05,347.35 L163.5,347.29 L163.94,347.21 L164.39,347.1 L164.84,346.97 L165.29,346.79 L165.74,346.56 L166.18,346.27 L166.63,345.91 L167.08,345.46 L167.53,344.93 L167.98,344.29 L168.42,343.53 L168.87,342.66 L169.32,341.66 L169.77,340.53 L170.21,339.28 L170.66,337.91 L171.11,336.44 L171.56,334.89 L172.01,333.28 L172.45,331.66 L172.9,330.04 L173.35,328.48 L173.8,327.01 L174.25,325.68 L174.69,324.53 L175.14,323.59 L175.59,322.89 L176.04,322.45 L176.48,322.3 L176.93,323.88 L177.38,328.24 L177.83,333.84 L178.28,339.07 L178.72,342.97 L179.17,345.39 L179.62,346.64 L180.07,347.2 L180.52,347.41 L180.96,347.47 L181.41,347.49 L181.86,347.5 L182.31,347.5 L182.75,347.5 L183.2,347.5 L183.65,347.5 L184.1,347.5 L184.55,347.5 L184.99,347.5 L185.44,347.5 L185.89,347.5 L186.34,347.5 L186.78,347.5 L187.23,347.5 L187.68,347.5 L188.13,347.5 L188.58,347.5 L189.02,347.5 L189.47,347.5 L189.92,347.5 L190.37,347.5 L190.82,347.5 L191.26,347.5 L191.71,347.5 L192.16,347.5 L192.61,347.5 L193.06,347.5 L193.5,347.5 L193.95,347.5 L194.4,347.5 L194.85,347.5 L195.29,347.5 L195.74,347.5 L196.19,347.5 L196.64,347.5 L197.09,347.5 L197.53,347.5 L197.98,347.5 L198.43,347.5 L198.88,347.5 L199.32,347.5 L199.77,347.5 L200.22,347.5 L200.67,347.5 L201.12,347.5 L201.56,347.5 L202.01,347.5 L202.46,347.5 L202.91,347.5 L203.36,347.5 L203.8,347.5 L204.25,347.5 L204.7,347.5 L205.15,347.5 L205.59,347.5 L206.04,347.5 L206.49,347.5 L206.94,347.5 L207.39,347.5 L207.83,347.5 L208.28,347.5 L208.73,347.5 L209.18,347.5 L209.63,347.5 L210.07,347.5 L210.52,347.5 L210.97,347.5 L211.42,347.5 L211.87,347.5 L212.31,347.5 L212.76,347.5 L213.21,347.5 L213.66,347.5 L214.1,347.5 L214.55,347.5 L215,347.5" stroke="#b4b4b4" stroke-width="1" fill="none" stroke-linejoin="round"/>
<path d="M166.18,346.27 L166.63,345.91 L167.08,345.46 L167.53,344.93 L167.98,344.29 L168.42,343.53 L168.87,342.66 L169.32,341.66 L169.77,340.53 L170.21,339.28 L170.66,337.91 L171.11,336.44 L171.56,334.89 L172.01,333.28 L172.45,331.66 L172.9,330.04 L173.35,328.48 L173.8,327.01 L174.25,325.68 L174.69,324.53 L175.14,323.59 L175.59,322.89 L176.04,322.45 L176.48,322.3 L176.93,323.88 L177.38,328.24 L177.83,333.84 L178.28,339.07 L178.72,342.97 L179.17,345.39" stroke="#666666" stroke-width="1" fill="none" stroke-linejoin="round"/>
<path d="M152.3,351 L152.75,351 L153.2,351 L153.64,351 L154.09,351 L154.54,351 L154.99,350.99 L155.44,350.97 L155.88,350.92 L156.33,350.82 L156.78,350.65 L157.23,350.37 L157.67,349.95 L158.12,349.4 L158.57,348.78 L159.02,348.17 L159.47,347.71 L159.91,347.5 L160.36,347.6 L160.81,347.97 L161.26,348.53 L161.71,349.15 L162.15,349.72 L162.6,350.18 L163.05,350.49 L163.5,350.66 L163.94,350.73 L164.39,350.71 L164.84,350.63 L165.29,350.5 L165.74,350.32 L166.18,350.08 L166.63,349.79 L167.08,349.44 L167.53,349.03 L167.98,348.56 L168.42,348.05 L168.87,347.52 L169.32,346.98 L169.77,346.45 L170.21,345.97 L170.66,345.56 L171.11,345.25 L171.56,345.03 L172.01,344.92 L172.45,344.96 L172.9,345.16 L173.35,345.41 L173.8,345.55 L174.25,345.42 L174.69,344.91 L175.14,343.97 L175.59,342.62 L176.04,340.93 L176.48,339.04 L176.93,337.08 L177.38,335.18 L177.83,333.41 L178.28,331.78 L178.72,330.2 L179.17,328.65 L179.62,327.34 L180.07,326.65 L180.52,326.71 L180.96,327.18 L181.41,327.63 L181.86,327.88 L182.31,327.98 L182.75,328.05 L183.2,328.24 L183.65,328.73 L184.1,329.63 L184.55,330.71 L184.99,331.44 L185.44,331.55 L185.89,331.48 L186.34,331.92 L186.78,333.14 L187.23,334.94 L187.68,337.02 L188.13,339.31 L188.58,341.94 L189.02,344.77 L189.47,347.34 L189.92,349.18 L190.37,350.24 L190.82,350.73 L191.26,350.92 L191.71,350.98 L192.16,351 L192.61,351 L193.06,351 L193.5,351 L193.95,351 L194.4,351 L194.85,351 L195.29,351 L195.74,351 L196.19,351 L196.64,350.99 L197.09,350.98 L197.53,350.95 L197.98,350.88 L198.43,350.74 L198.88,350.48 L199.32,350.08 L199.77,349.51 L200.22,348.77 L200.67,347.97 L201.12,347.22 L201.56,346.69 L202.01,346.5 L202.46,346.62 L202.91,346.94 L203.36,347.42 L203.8,348 L204.25,348.61 L204.7,349.19 L205.15,349.7 L205.59,350.11 L206.04,350.42 L206.49,350.64 L206.94,350.79 L207.39,350.88 L207.83,350.94 L208.28,350.97 L208.73,350.98 L209.18,350.99 L209.63,351 L210.07,351 L210.52,351 L210.97,351 L211.42,351 L211.87,351 L212.31,351 L212.76,351 L213.21,351 L213.66,351 L214.1,351 L214.55,351 L215,351" stroke="#8c8cd8" stroke-width="1.2" fill="none" stroke-linejoin="round"/>
<path d="M158.12,349.4 L158.57,348.78 L159.02,348.17 L159.47,347.71 L159.91,347.5 L160.36,347.6 L160.81,347.97 L161.26,348.53 L161.71,349.15 L162.15,349.72" stroke="#2c2cb0" stroke-width="1.2" fill="none" stroke-linejoin="round"/>
<path d="M166.63,349.79 L167.08,349.44 L167.53,349.03 L167.98,348.56 L168.42,348.05 L168.87,347.52 L169.32,346.98 L169.77,346.45 L170.21,345.97 L170.66,345.56 L171.11,345.25 L171.56,345.03 L172.01,344.92 L172.45,344.96 L172.9,345.16 L173.35,345.41 L173.8,345.55 L174.25,345.42 L174.69,344.91 L175.14,343.97 L175.59,342.62 L176.04,340.93 L176.48,339.04 L176.93,337.08 L177.38,335.18 L177.83,333.41 L178.28,331.78 L178.72,330.2 L179.17,328.65 L179.62,327.34 L180.07,326.65 L180.52,326.71 L180.96,327.18 L181.41,327.63 L181.86,327.88 L182.31,327.98 L182.75,328.05 L183.2,328.24 L183.65,328.73 L184.1,329.63 L184.55,330.71 L184.99,331.44 L185.44,331.55 L185.89,331.48 L186.34,331.92 L186.78,333.14 L187.23,334.94 L187.68,337.02 L188.13,339.31 L188.58,341.94 L189.02,344.77 L189.47,347.34 L189.92,349.18" stroke="#2c2cb0" stroke-width="1.2" fill="none" stroke-linejoin="round"/>
<path d="M199.77,349.51 L200.22,348.77 L200.67,347.97 L201.12,347.22 L201.56,346.69 L202.01,346.5 L202.46,346.62 L202.91,346.94 L203.36,347.42 L203.8,348 L204.25,348.61 L204.7,349.19 L205.15,349.7" stroke="#2c2cb0" stroke-width="1.2" fill="none" stroke-linejoin="round"/>
<line x1="222.3" y1="358.7" x2="278.4" y2="358.7" stroke="#8090aa" stroke-width="0.6" stroke-dasharray="1.2,0.6"/>
<text x="224.8" y="363" font-size="4.3" font-weight="normal" text-anchor="middle" fill="#4a4a4a" font-family='"Liberation Sans", sans-serif'>10<tspan font-size="3" dy="-1.6">1</tspan></text>
<text x="246.3" y="363" font-size="4.3" font-weight="normal" text-anchor="middle" fill="#4a4a4a" font-family='"Liberation Sans", sans-serif'>10<tspan font-size="3" dy="-1.6">1</tspan></text>
<text x="266.9" y="363" font-size="4.3" font-weight="normal" text-anchor="middle" fill="#4a4a4a" font-family='"Liberation Sans", sans-serif'>10<tspan font-size="3" dy="-1.6">1</tspan></text>
<path d="M221.3,356.8 L221.72,356.8 L222.13,356.8 L222.55,356.8 L222.96,356.8 L223.38,356.8 L223.79,356.8 L224.21,356.8 L224.62,356.8 L225.03,356.8 L225.45,356.8 L225.87,356.8 L226.28,356.8 L226.69,356.8 L227.11,356.8 L227.53,356.8 L227.94,356.8 L228.36,356.8 L228.77,356.8 L229.19,356.8 L229.6,356.8 L230.02,356.8 L230.43,356.8 L230.84,356.8 L231.26,356.8 L231.68,356.8 L232.09,356.8 L232.5,356.8 L232.92,356.8 L233.34,356.8 L233.75,356.8 L234.16,356.8 L234.58,356.8 L235,356.8 L235.41,356.8 L235.82,356.8 L236.24,356.8 L236.66,356.8 L237.07,356.8 L237.49,356.8 L237.9,356.8 L238.31,356.8 L238.73,356.8 L239.15,356.8 L239.56,356.8 L239.97,356.8 L240.39,356.8 L240.81,356.79 L241.22,356.78 L241.63,356.77 L242.05,356.75 L242.47,356.72 L242.88,356.68 L243.29,356.6 L243.71,356.49 L244.12,356.32 L244.54,356.08 L244.95,355.74 L245.37,355.28 L245.78,354.67 L246.2,353.87 L246.62,352.87 L247.03,351.63 L247.44,350.14 L247.86,348.42 L248.28,346.48 L248.69,344.37 L249.1,342.15 L249.52,339.91 L249.94,337.75 L250.35,335.78 L250.76,334.12 L251.18,332.85 L251.59,332.06 L252.01,331.8 L252.42,332.09 L252.84,332.9 L253.25,334.19 L253.67,335.87 L254.08,337.85 L254.5,340.02 L254.91,342.26 L255.33,344.47 L255.75,346.58 L256.16,348.51 L256.57,350.22 L256.99,351.69 L257.4,352.92 L257.82,353.92 L258.24,354.7 L258.65,355.31 L259.06,355.76 L259.48,356.09 L259.89,356.33 L260.31,356.49 L260.72,356.61 L261.14,356.68 L261.56,356.73 L261.97,356.76 L262.38,356.77 L262.8,356.79 L263.21,356.79 L263.63,356.8 L264.04,356.8 L264.46,356.8 L264.88,356.8 L265.29,356.8 L265.7,356.8 L266.12,356.8 L266.53,356.8 L266.95,356.8 L267.37,356.8 L267.78,356.8 L268.19,356.8 L268.61,356.8 L269.02,356.8 L269.44,356.8 L269.85,356.8 L270.27,356.8 L270.69,356.8 L271.1,356.8 L271.51,356.8 L271.93,356.8 L272.34,356.8 L272.76,356.8 L273.17,356.8 L273.59,356.8 L274,356.8 L274.42,356.8 L274.83,356.8 L275.25,356.8 L275.66,356.8 L276.08,356.8 L276.5,356.8 L276.91,356.8 L277.32,356.8 L277.74,356.8 L278.15,356.8 L278.57,356.8 L278.98,356.8 L279.4,356.8 L279.4,356.8 L221.3,356.8 Z" stroke="none" stroke-width="1" fill="#dcf5f5"/>
<path d="M221.3,348 L221.72,348 L222.13,348 L222.55,348 L222.96,348 L223.38,348 L223.79,348 L224.21,348 L224.62,348 L225.03,348 L225.45,348 L225.87,348 L226.28,348 L226.69,348 L227.11,348 L227.53,348 L227.94,348 L228.36,348 L228.77,348 L229.19,348 L229.6,348 L230.02,348 L230.43,347.99 L230.84,347.99 L231.26,347.98 L231.68,347.97 L232.09,347.95 L232.5,347.93 L232.92,347.89 L233.34,347.85 L233.75,347.78 L234.16,347.7 L234.58,347.59 L235,347.46 L235.41,347.29 L235.82,347.1 L236.24,346.86 L236.66,346.6 L237.07,346.3 L237.49,345.98 L237.9,345.65 L238.31,345.31 L238.73,344.97 L239.15,344.66 L239.56,344.38 L239.97,344.14 L240.39,343.94 L240.81,343.8 L241.22,343.7 L241.63,343.64 L242.05,343.59 L242.47,343.54 L242.88,343.45 L243.29,343.3 L243.71,343.04 L244.12,342.65 L244.54,342.09 L244.95,341.33 L245.37,340.37 L245.78,339.19 L246.2,337.81 L246.62,336.24 L247.03,334.52 L247.44,332.7 L247.86,330.85 L248.28,329.03 L248.69,327.33 L249.1,325.82 L249.52,324.57 L249.94,323.66 L250.35,323.12 L250.76,322.99 L251.18,323.35 L251.59,324.24 L252.01,325.59 L252.42,327.32 L252.84,329.33 L253.25,331.51 L253.67,333.76 L254.08,335.96 L254.5,338.05 L254.91,339.95 L255.33,341.63 L255.75,343.07 L256.16,344.27 L256.57,345.23 L256.99,345.99 L257.4,346.58 L257.82,347.01 L258.24,347.33 L258.65,347.56 L259.06,347.71 L259.48,347.82 L259.89,347.89 L260.31,347.93 L260.72,347.96 L261.14,347.98 L261.56,347.99 L261.97,347.99 L262.38,348 L262.8,348 L263.21,348 L263.63,348 L264.04,348 L264.46,348 L264.88,348 L265.29,348 L265.7,348 L266.12,348 L266.53,348 L266.95,348 L267.37,348 L267.78,348 L268.19,348 L268.61,348 L269.02,348 L269.44,348 L269.85,348 L270.27,348 L270.69,348 L271.1,348 L271.51,348 L271.93,348 L272.34,348 L272.76,348 L273.17,348 L273.59,348 L274,348 L274.42,348 L274.83,348 L275.25,348 L275.66,348 L276.08,348 L276.5,348 L276.91,348 L277.32,348 L277.74,348 L278.15,348 L278.57,348 L278.98,348 L279.4,348 L279.4,348 L221.3,348 Z" stroke="none" stroke-width="1" fill="#e8e8f2"/>
<path d="M221.3,356.8 L221.72,356.8 L222.13,356.8 L222.55,356.8 L222.96,356.8 L223.38,356.8 L223.79,356.8 L224.21,356.8 L224.62,356.8 L225.03,356.8 L225.45,356.8 L225.87,356.8 L226.28,356.8 L226.69,356.8 L227.11,356.8 L227.53,356.8 L227.94,356.8 L228.36,356.8 L228.77,356.8 L229.19,356.8 L229.6,356.8 L230.02,356.8 L230.43,356.8 L230.84,356.8 L231.26,356.8 L231.68,356.8 L232.09,356.8 L232.5,356.8 L232.92,356.8 L233.34,356.8 L233.75,356.8 L234.16,356.8 L234.58,356.8 L235,356.8 L235.41,356.8 L235.82,356.8 L236.24,356.8 L236.66,356.8 L237.07,356.8 L237.49,356.8 L237.9,356.8 L238.31,356.8 L238.73,356.8 L239.15,356.8 L239.56,356.8 L239.97,356.8 L240.39,356.8 L240.81,356.79 L241.22,356.78 L241.63,356.77 L242.05,356.75 L242.47,356.72 L242.88,356.68 L243.29,356.6 L243.71,356.49 L244.12,356.32 L244.54,356.08 L244.95,355.74 L245.37,355.28 L245.78,354.67 L246.2,353.87 L246.62,352.87 L247.03,351.63 L247.44,350.14 L247.86,348.42 L248.28,346.48 L248.69,344.37 L249.1,342.15 L249.52,339.91 L249.94,337.75 L250.35,335.78 L250.76,334.12 L251.18,332.85 L251.59,332.06 L252.01,331.8 L252.42,332.09 L252.84,332.9 L253.25,334.19 L253.67,335.87 L254.08,337.85 L254.5,340.02 L254.91,342.26 L255.33,344.47 L255.75,346.58 L256.16,348.51 L256.57,350.22 L256.99,351.69 L257.4,352.92 L257.82,353.92 L258.24,354.7 L258.65,355.31 L259.06,355.76 L259.48,356.09 L259.89,356.33 L260.31,356.49 L260.72,356.61 L261.14,356.68 L261.56,356.73 L261.97,356.76 L262.38,356.77 L262.8,356.79 L263.21,356.79 L263.63,356.8 L264.04,356.8 L264.46,356.8 L264.88,356.8 L265.29,356.8 L265.7,356.8 L266.12,356.8 L266.53,356.8 L266.95,356.8 L267.37,356.8 L267.78,356.8 L268.19,356.8 L268.61,356.8 L269.02,356.8 L269.44,356.8 L269.85,356.8 L270.27,356.8 L270.69,356.8 L271.1,356.8 L271.51,356.8 L271.93,356.8 L272.34,356.8 L272.76,356.8 L273.17,356.8 L273.59,356.8 L274,356.8 L274.42,356.8 L274.83,356.8 L275.25,356.8 L275.66,356.8 L276.08,356.8 L276.5,356.8 L276.91,356.8 L277.32,356.8 L277.74,356.8 L278.15,356.8 L278.57,356.8 L278.98,356.8 L279.4,356.8" stroke="#bce8e8" stroke-width="0.8" fill="none" stroke-linejoin="round"/>
<path d="M245.37,355.28 L245.78,354.67 L246.2,353.87 L246.62,352.87 L247.03,351.63 L247.44,350.14 L247.86,348.42 L248.28,346.48 L248.69,344.37 L249.1,342.15 L249.52,339.91 L249.94,337.75 L250.35,335.78 L250.76,334.12 L251.18,332.85 L251.59,332.06 L252.01,331.8 L252.42,332.09 L252.84,332.9 L253.25,334.19 L253.67,335.87 L254.08,337.85 L254.5,340.02 L254.91,342.26 L255.33,344.47 L255.75,346.58 L256.16,348.51 L256.57,350.22 L256.99,351.69 L257.4,352.92 L257.82,353.92 L258.24,354.7 L258.65,355.31" stroke="#86d8d8" stroke-width="0.8" fill="none" stroke-linejoin="round"/>
<path d="M221.3,355.3 L221.72,355.3 L222.13,355.3 L222.55,355.3 L222.96,355.3 L223.38,355.3 L223.79,355.3 L224.21,355.3 L224.62,355.3 L225.03,355.3 L225.45,355.3 L225.87,355.3 L226.28,355.3 L226.69,355.3 L227.11,355.3 L227.53,355.3 L227.94,355.3 L228.36,355.3 L228.77,355.3 L229.19,355.3 L229.6,355.3 L230.02,355.3 L230.43,355.3 L230.84,355.3 L231.26,355.3 L231.68,355.3 L232.09,355.3 L232.5,355.3 L232.92,355.3 L233.34,355.3 L233.75,355.3 L234.16,355.3 L234.58,355.3 L235,355.3 L235.41,355.3 L235.82,355.3 L236.24,355.3 L236.66,355.3 L237.07,355.3 L237.49,355.3 L237.9,355.3 L238.31,355.3 L238.73,355.3 L239.15,355.3 L239.56,355.29 L239.97,355.29 L240.39,355.28 L240.81,355.27 L241.22,355.26 L241.63,355.23 L242.05,355.19 L242.47,355.12 L242.88,355.02 L243.29,354.88 L243.71,354.68 L244.12,354.41 L244.54,354.03 L244.95,353.52 L245.37,352.86 L245.78,352.03 L246.2,350.98 L246.62,349.71 L247.03,348.2 L247.44,346.46 L247.86,344.5 L248.28,342.35 L248.69,340.07 L249.1,337.72 L249.52,335.4 L249.94,333.21 L250.35,331.23 L250.76,329.57 L251.18,328.33 L251.59,327.55 L252.01,327.3 L252.42,327.58 L252.84,328.38 L253.25,329.65 L253.67,331.32 L254.08,333.31 L254.5,335.51 L254.91,337.84 L255.33,340.18 L255.75,342.45 L256.16,344.59 L256.57,346.55 L256.99,348.28 L257.4,349.78 L257.82,351.04 L258.24,352.07 L258.65,352.9 L259.06,353.55 L259.48,354.05 L259.89,354.42 L260.31,354.7 L260.72,354.89 L261.14,355.03 L261.56,355.12 L261.97,355.19 L262.38,355.23 L262.8,355.26 L263.21,355.27 L263.63,355.28 L264.04,355.29 L264.46,355.29 L264.88,355.3 L265.29,355.3 L265.7,355.3 L266.12,355.3 L266.53,355.3 L266.95,355.3 L267.37,355.3 L267.78,355.3 L268.19,355.3 L268.61,355.3 L269.02,355.3 L269.44,355.3 L269.85,355.3 L270.27,355.3 L270.69,355.3 L271.1,355.3 L271.51,355.3 L271.93,355.3 L272.34,355.3 L272.76,355.3 L273.17,355.3 L273.59,355.3 L274,355.3 L274.42,355.3 L274.83,355.3 L275.25,355.3 L275.66,355.3 L276.08,355.3 L276.5,355.3 L276.91,355.3 L277.32,355.3 L277.74,355.3 L278.15,355.3 L278.57,355.3 L278.98,355.3 L279.4,355.3" stroke="#deddb0" stroke-width="0.8" fill="none" stroke-linejoin="round"/>
<path d="M244.54,354.03 L244.95,353.52 L245.37,352.86 L245.78,352.03 L246.2,350.98 L246.62,349.71 L247.03,348.2 L247.44,346.46 L247.86,344.5 L248.28,342.35 L248.69,340.07 L249.1,337.72 L249.52,335.4 L249.94,333.21 L250.35,331.23 L250.76,329.57 L251.18,328.33 L251.59,327.55 L252.01,327.3 L252.42,327.58 L252.84,328.38 L253.25,329.65 L253.67,331.32 L254.08,333.31 L254.5,335.51 L254.91,337.84 L255.33,340.18 L255.75,342.45 L256.16,344.59 L256.57,346.55 L256.99,348.28 L257.4,349.78 L257.82,351.04 L258.24,352.07 L258.65,352.9 L259.06,353.55 L259.48,354.05" stroke="#c4c468" stroke-width="0.8" fill="none" stroke-linejoin="round"/>
<path d="M221.3,354 L221.72,354 L222.13,354 L222.55,354 L222.96,354 L223.38,354 L223.79,354 L224.21,354 L224.62,354 L225.03,354 L225.45,354 L225.87,354 L226.28,354 L226.69,354 L227.11,354 L227.53,354 L227.94,354 L228.36,354 L228.77,354 L229.19,354 L229.6,354 L230.02,354 L230.43,354 L230.84,354 L231.26,354 L231.68,354 L232.09,354 L232.5,354 L232.92,354 L233.34,354 L233.75,354 L234.16,354 L234.58,354 L235,354 L235.41,354 L235.82,354 L236.24,354 L236.66,354 L237.07,354 L237.49,354 L237.9,354 L238.31,354 L238.73,354 L239.15,353.99 L239.56,353.99 L239.97,353.98 L240.39,353.97 L240.81,353.95 L241.22,353.92 L241.63,353.88 L242.05,353.81 L242.47,353.71 L242.88,353.56 L243.29,353.36 L243.71,353.07 L244.12,352.68 L244.54,352.17 L244.95,351.5 L245.37,350.65 L245.78,349.6 L246.2,348.33 L246.62,346.83 L247.03,345.1 L247.44,343.17 L247.86,341.07 L248.28,338.85 L248.69,336.59 L249.1,334.37 L249.52,332.28 L249.94,330.43 L250.35,328.91 L250.76,327.8 L251.18,327.15 L251.59,327.01 L252.01,327.39 L252.42,328.25 L252.84,329.56 L253.25,331.25 L253.67,333.22 L254.08,335.37 L254.5,337.62 L254.91,339.88 L255.33,342.05 L255.75,344.08 L256.16,345.92 L256.57,347.54 L256.99,348.94 L257.4,350.11 L257.82,351.06 L258.24,351.83 L258.65,352.42 L259.06,352.88 L259.48,353.21 L259.89,353.46 L260.31,353.64 L260.72,353.76 L261.14,353.85 L261.56,353.9 L261.97,353.94 L262.38,353.96 L262.8,353.98 L263.21,353.99 L263.63,353.99 L264.04,354 L264.46,354 L264.88,354 L265.29,354 L265.7,354 L266.12,354 L266.53,354 L266.95,354 L267.37,354 L267.78,354 L268.19,354 L268.61,354 L269.02,354 L269.44,354 L269.85,354 L270.27,354 L270.69,354 L271.1,354 L271.51,354 L271.93,354 L272.34,354 L272.76,354 L273.17,354 L273.59,354 L274,354 L274.42,354 L274.83,354 L275.25,354 L275.66,354 L276.08,354 L276.5,354 L276.91,354 L277.32,354 L277.74,354 L278.15,354 L278.57,354 L278.98,354 L279.4,354" stroke="#c4e2a4" stroke-width="0.9" fill="none" stroke-linejoin="round"/>
<path d="M244.12,352.68 L244.54,352.17 L244.95,351.5 L245.37,350.65 L245.78,349.6 L246.2,348.33 L246.62,346.83 L247.03,345.1 L247.44,343.17 L247.86,341.07 L248.28,338.85 L248.69,336.59 L249.1,334.37 L249.52,332.28 L249.94,330.43 L250.35,328.91 L250.76,327.8 L251.18,327.15 L251.59,327.01 L252.01,327.39 L252.42,328.25 L252.84,329.56 L253.25,331.25 L253.67,333.22 L254.08,335.37 L254.5,337.62 L254.91,339.88 L255.33,342.05 L255.75,344.08 L256.16,345.92 L256.57,347.54 L256.99,348.94 L257.4,350.11 L257.82,351.06 L258.24,351.83 L258.65,352.42" stroke="#86c84c" stroke-width="0.9" fill="none" stroke-linejoin="round"/>
<path d="M221.3,348 L221.72,348 L222.13,348 L222.55,348 L222.96,348 L223.38,348 L223.79,348 L224.21,348 L224.62,348 L225.03,348 L225.45,348 L225.87,348 L226.28,348 L226.69,348 L227.11,348 L227.53,348 L227.94,348 L228.36,348 L228.77,348 L229.19,348 L229.6,348 L230.02,348 L230.43,347.99 L230.84,347.99 L231.26,347.98 L231.68,347.97 L232.09,347.95 L232.5,347.93 L232.92,347.89 L233.34,347.85 L233.75,347.78 L234.16,347.7 L234.58,347.59 L235,347.46 L235.41,347.29 L235.82,347.1 L236.24,346.86 L236.66,346.6 L237.07,346.3 L237.49,345.98 L237.9,345.65 L238.31,345.31 L238.73,344.97 L239.15,344.66 L239.56,344.38 L239.97,344.14 L240.39,343.94 L240.81,343.8 L241.22,343.7 L241.63,343.64 L242.05,343.59 L242.47,343.54 L242.88,343.45 L243.29,343.3 L243.71,343.04 L244.12,342.65 L244.54,342.09 L244.95,341.33 L245.37,340.37 L245.78,339.19 L246.2,337.81 L246.62,336.24 L247.03,334.52 L247.44,332.7 L247.86,330.85 L248.28,329.03 L248.69,327.33 L249.1,325.82 L249.52,324.57 L249.94,323.66 L250.35,323.12 L250.76,322.99 L251.18,323.35 L251.59,324.24 L252.01,325.59 L252.42,327.32 L252.84,329.33 L253.25,331.51 L253.67,333.76 L254.08,335.96 L254.5,338.05 L254.91,339.95 L255.33,341.63 L255.75,343.07 L256.16,344.27 L256.57,345.23 L256.99,345.99 L257.4,346.58 L257.82,347.01 L258.24,347.33 L258.65,347.56 L259.06,347.71 L259.48,347.82 L259.89,347.89 L260.31,347.93 L260.72,347.96 L261.14,347.98 L261.56,347.99 L261.97,347.99 L262.38,348 L262.8,348 L263.21,348 L263.63,348 L264.04,348 L264.46,348 L264.88,348 L265.29,348 L265.7,348 L266.12,348 L266.53,348 L266.95,348 L267.37,348 L267.78,348 L268.19,348 L268.61,348 L269.02,348 L269.44,348 L269.85,348 L270.27,348 L270.69,348 L271.1,348 L271.51,348 L271.93,348 L272.34,348 L272.76,348 L273.17,348 L273.59,348 L274,348 L274.42,348 L274.83,348 L275.25,348 L275.66,348 L276.08,348 L276.5,348 L276.91,348 L277.32,348 L277.74,348 L278.15,348 L278.57,348 L278.98,348 L279.4,348" stroke="#a0a0d0" stroke-width="1" fill="none" stroke-linejoin="round"/>
<path d="M236.66,346.6 L237.07,346.3 L237.49,345.98 L237.9,345.65 L238.31,345.31 L238.73,344.97 L239.15,344.66 L239.56,344.38 L239.97,344.14 L240.39,343.94 L240.81,343.8 L241.22,343.7 L241.63,343.64 L242.05,343.59 L242.47,343.54 L242.88,343.45 L243.29,343.3 L243.71,343.04 L244.12,342.65 L244.54,342.09 L244.95,341.33 L245.37,340.37 L245.78,339.19 L246.2,337.81 L246.62,336.24 L247.03,334.52 L247.44,332.7 L247.86,330.85 L248.28,329.03 L248.69,327.33 L249.1,325.82 L249.52,324.57 L249.94,323.66 L250.35,323.12 L250.76,322.99 L251.18,323.35 L251.59,324.24 L252.01,325.59 L252.42,327.32 L252.84,329.33 L253.25,331.51 L253.67,333.76 L254.08,335.96 L254.5,338.05 L254.91,339.95 L255.33,341.63 L255.75,343.07 L256.16,344.27 L256.57,345.23 L256.99,345.99 L257.4,346.58" stroke="#7474b8" stroke-width="1" fill="none" stroke-linejoin="round"/>
<path d="M221.3,351.2 L221.72,351.2 L222.13,351.2 L222.55,351.2 L222.96,351.2 L223.38,351.2 L223.79,351.2 L224.21,351.2 L224.62,351.2 L225.03,351.2 L225.45,351.2 L225.87,351.2 L226.28,351.2 L226.69,351.2 L227.11,351.2 L227.53,351.2 L227.94,351.2 L228.36,351.2 L228.77,351.2 L229.19,351.2 L229.6,351.2 L230.02,351.2 L230.43,351.2 L230.84,351.2 L231.26,351.2 L231.68,351.2 L232.09,351.19 L232.5,351.19 L232.92,351.19 L233.34,351.18 L233.75,351.17 L234.16,351.15 L234.58,351.12 L235,351.09 L235.41,351.04 L235.82,350.97 L236.24,350.88 L236.66,350.77 L237.07,350.63 L237.49,350.46 L237.9,350.26 L238.31,350.02 L238.73,349.74 L239.15,349.44 L239.56,349.12 L239.97,348.78 L240.39,348.44 L240.81,348.1 L241.22,347.79 L241.63,347.5 L242.05,347.26 L242.47,347.07 L242.88,346.92 L243.29,346.81 L243.71,346.74 L244.12,346.68 L244.54,346.61 L244.95,346.5 L245.37,346.34 L245.78,346.07 L246.2,345.69 L246.62,345.15 L247.03,344.44 L247.44,343.55 L247.86,342.47 L248.28,341.21 L248.69,339.79 L249.1,338.24 L249.52,336.61 L249.94,334.94 L250.35,333.29 L250.76,331.72 L251.18,330.31 L251.59,329.1 L252.01,328.15 L252.42,327.51 L252.84,327.21 L253.25,327.35 L253.67,328.28 L254.08,329.94 L254.5,332.18 L254.91,334.77 L255.33,337.5 L255.75,340.18 L256.16,342.65 L256.57,344.79 L256.99,346.57 L257.4,347.97 L257.82,349.02 L258.24,349.79 L258.65,350.31 L259.06,350.66 L259.48,350.89 L259.89,351.02 L260.31,351.1 L260.72,351.15 L261.14,351.17 L261.56,351.19 L261.97,351.19 L262.38,351.2 L262.8,351.2 L263.21,351.2 L263.63,351.2 L264.04,351.2 L264.46,351.2 L264.88,351.2 L265.29,351.2 L265.7,351.2 L266.12,351.2 L266.53,351.2 L266.95,351.2 L267.37,351.2 L267.78,351.2 L268.19,351.2 L268.61,351.2 L269.02,351.2 L269.44,351.2 L269.85,351.2 L270.27,351.2 L270.69,351.2 L271.1,351.2 L271.51,351.2 L271.93,351.2 L272.34,351.2 L272.76,351.2 L273.17,351.2 L273.59,351.2 L274,351.2 L274.42,351.2 L274.83,351.2 L275.25,351.2 L275.66,351.2 L276.08,351.2 L276.5,351.2 L276.91,351.2 L277.32,351.2 L277.74,351.2 L278.15,351.2 L278.57,351.2 L278.98,351.2 L279.4,351.2" stroke="#8c8cd8" stroke-width="1.1" fill="none" stroke-linejoin="round"/>
<path d="M238.73,349.74 L239.15,349.44 L239.56,349.12 L239.97,348.78 L240.39,348.44 L240.81,348.1 L241.22,347.79 L241.63,347.5 L242.05,347.26 L242.47,347.07 L242.88,346.92 L243.29,346.81 L243.71,346.74 L244.12,346.68 L244.54,346.61 L244.95,346.5 L245.37,346.34 L245.78,346.07 L246.2,345.69 L246.62,345.15 L247.03,344.44 L247.44,343.55 L247.86,342.47 L248.28,341.21 L248.69,339.79 L249.1,338.24 L249.52,336.61 L249.94,334.94 L250.35,333.29 L250.76,331.72 L251.18,330.31 L251.59,329.1 L252.01,328.15 L252.42,327.51 L252.84,327.21 L253.25,327.35 L253.67,328.28 L254.08,329.94 L254.5,332.18 L254.91,334.77 L255.33,337.5 L255.75,340.18 L256.16,342.65 L256.57,344.79 L256.99,346.57 L257.4,347.97 L257.82,349.02 L258.24,349.79" stroke="#2c2cb0" stroke-width="1.1" fill="none" stroke-linejoin="round"/>
<text x="-0.25" y="0" transform="translate(30.6 412.7) rotate(-90)" font-size="5.6" font-weight="normal" fill="#333" font-family='"Liberation Sans", sans-serif' textLength="43.34" lengthAdjust="spacingAndGlyphs">geometric mean</text>
<line x1="41.5" y1="371.5" x2="41.5" y2="414.7" stroke="#c8c8dd" stroke-width="0.6"/>
<line x1="34.9" y1="371.5" x2="39.9" y2="371.5" stroke="#a0a0a0" stroke-width="1"/>
<line x1="34.9" y1="376.9" x2="39.9" y2="376.9" stroke="#a0a0a0" stroke-width="1"/>
<line x1="34.9" y1="382.3" x2="39.9" y2="382.3" stroke="#a0a0a0" stroke-width="1"/>
<line x1="34.9" y1="387.7" x2="39.9" y2="387.7" stroke="#a0a0a0" stroke-width="1"/>
<line x1="34.9" y1="393.1" x2="39.9" y2="393.1" stroke="#a0a0a0" stroke-width="1"/>
<line x1="34.9" y1="398.5" x2="39.9" y2="398.5" stroke="#a0a0a0" stroke-width="1"/>
<line x1="34.9" y1="403.9" x2="39.9" y2="403.9" stroke="#a0a0a0" stroke-width="1"/>
<line x1="34.9" y1="409.3" x2="39.9" y2="409.3" stroke="#a0a0a0" stroke-width="1"/>
<line x1="34.9" y1="414.7" x2="39.9" y2="414.7" stroke="#a0a0a0" stroke-width="1"/>
<rect x="43.6" y="404.4" width="2.4" height="10.3" fill="#c4c4cc"/>
<rect x="46" y="402.4" width="2.8" height="12.3" fill="#1f3fd0"/>
<rect x="48.8" y="386.7" width="2.1" height="28" fill="#90e040"/>
<rect x="50.9" y="387" width="2.8" height="27.7" fill="#d8781e"/>
<rect x="53.7" y="388.2" width="2.3" height="26.5" fill="#b0f0ec"/>
<line x1="42" y1="403.5" x2="59.5" y2="403.5" stroke="#1a2a7a" stroke-width="0.8" stroke-dasharray="1.6,1"/>
<line x1="108.5" y1="372.1" x2="108.5" y2="415.8" stroke="#c8c8dd" stroke-width="0.6"/>
<line x1="101.9" y1="372.1" x2="106.9" y2="372.1" stroke="#a0a0a0" stroke-width="1"/>
<line x1="101.9" y1="377.56" x2="106.9" y2="377.56" stroke="#a0a0a0" stroke-width="1"/>
<line x1="101.9" y1="383.03" x2="106.9" y2="383.03" stroke="#a0a0a0" stroke-width="1"/>
<line x1="101.9" y1="388.49" x2="106.9" y2="388.49" stroke="#a0a0a0" stroke-width="1"/>
<line x1="101.9" y1="393.95" x2="106.9" y2="393.95" stroke="#a0a0a0" stroke-width="1"/>
<line x1="101.9" y1="399.41" x2="106.9" y2="399.41" stroke="#a0a0a0" stroke-width="1"/>
<line x1="101.9" y1="404.88" x2="106.9" y2="404.88" stroke="#a0a0a0" stroke-width="1"/>
<line x1="101.9" y1="410.34" x2="106.9" y2="410.34" stroke="#a0a0a0" stroke-width="1"/>
<line x1="101.9" y1="415.8" x2="106.9" y2="415.8" stroke="#a0a0a0" stroke-width="1"/>
<rect x="110.2" y="409.5" width="2.8" height="6.3" fill="#c4c4cc"/>
<rect x="113" y="400.5" width="2.9" height="15.3" fill="#1f3fd0"/>
<rect x="115.9" y="390.8" width="3" height="25" fill="#90e040"/>
<rect x="118.9" y="381.5" width="3.2" height="34.3" fill="#d8781e"/>
<rect x="122.1" y="387.2" width="3.2" height="28.6" fill="#b0f0ec"/>
<line x1="108.5" y1="409.5" x2="126.6" y2="409.5" stroke="#1a2a7a" stroke-width="0.8" stroke-dasharray="1.6,1"/>
<line x1="177.3" y1="373" x2="177.3" y2="415.3" stroke="#c8c8dd" stroke-width="0.6"/>
<line x1="170.7" y1="373" x2="175.7" y2="373" stroke="#a0a0a0" stroke-width="1"/>
<line x1="170.7" y1="378.29" x2="175.7" y2="378.29" stroke="#a0a0a0" stroke-width="1"/>
<line x1="170.7" y1="383.57" x2="175.7" y2="383.57" stroke="#a0a0a0" stroke-width="1"/>
<line x1="170.7" y1="388.86" x2="175.7" y2="388.86" stroke="#a0a0a0" stroke-width="1"/>
<line x1="170.7" y1="394.15" x2="175.7" y2="394.15" stroke="#a0a0a0" stroke-width="1"/>
<line x1="170.7" y1="399.44" x2="175.7" y2="399.44" stroke="#a0a0a0" stroke-width="1"/>
<line x1="170.7" y1="404.73" x2="175.7" y2="404.73" stroke="#a0a0a0" stroke-width="1"/>
<line x1="170.7" y1="410.01" x2="175.7" y2="410.01" stroke="#a0a0a0" stroke-width="1"/>
<line x1="170.7" y1="415.3" x2="175.7" y2="415.3" stroke="#a0a0a0" stroke-width="1"/>
<rect x="179.2" y="409.5" width="2.8" height="5.8" fill="#c4c4cc"/>
<rect x="182" y="398.3" width="3.6" height="17" fill="#1f3fd0"/>
<rect x="185.6" y="381.1" width="2.9" height="34.2" fill="#90e040"/>
<rect x="188.5" y="390.8" width="3.3" height="24.5" fill="#d8781e"/>
<rect x="191.8" y="392.4" width="3.1" height="22.9" fill="#b0f0ec"/>
<line x1="179.2" y1="409.5" x2="196" y2="409.5" stroke="#1a2a7a" stroke-width="0.8" stroke-dasharray="1.6,1"/>
<text x="310.1" y="185.6" font-size="12" font-weight="bold" fill="#000" font-family='"Liberation Sans", sans-serif' textLength="8.72" lengthAdjust="spacingAndGlyphs">C</text>
<text x="369.24" y="201" font-size="8.7" font-weight="normal" fill="#222" font-family='"Liberation Sans", sans-serif' textLength="123.01" lengthAdjust="spacingAndGlyphs"><tspan font-style="italic">in vitro</tspan> T cell polarizing condition</text>
<text x="-0.13" y="0" transform="translate(321 304.4) rotate(-90)" font-size="8.8" font-weight="normal" fill="#333" font-family='"Liberation Sans", sans-serif' textLength="92.47" lengthAdjust="spacingAndGlyphs">type of WASp expressed</text>
<text x="-0.58" y="0" transform="translate(331.4 274.4) rotate(-90)" font-size="8.8" font-weight="normal" fill="#333" font-family='"Liberation Sans", sans-serif' textLength="34.6" lengthAdjust="spacingAndGlyphs">in T cells</text>
<rect x="398.75" y="281.4" width="52" height="27.9" fill="#d9d9d9"/>
<line x1="398.75" y1="206.5" x2="507.3" y2="206.5" stroke="#a3a3a3" stroke-width="0.9"/>
<line x1="337.7" y1="253.4" x2="507.3" y2="253.4" stroke="#a3a3a3" stroke-width="0.9"/>
<line x1="337.7" y1="281.4" x2="507.3" y2="281.4" stroke="#a3a3a3" stroke-width="0.9"/>
<line x1="337.7" y1="309.3" x2="507.3" y2="309.3" stroke="#a3a3a3" stroke-width="0.9"/>
<line x1="337.7" y1="253.4" x2="337.7" y2="309.3" stroke="#a3a3a3" stroke-width="0.9"/>
<line x1="398.75" y1="206.5" x2="398.75" y2="309.3" stroke="#a3a3a3" stroke-width="0.9"/>
<line x1="450.75" y1="206.5" x2="450.75" y2="309.3" stroke="#a3a3a3" stroke-width="0.9"/>
<line x1="507.3" y1="206.5" x2="507.3" y2="309.3" stroke="#a3a3a3" stroke-width="0.9"/>
<text x="417.1" y="214.6" font-size="8" font-weight="bold" fill="#111" font-family='"Liberation Serif", serif' textLength="15.75" lengthAdjust="spacingAndGlyphs" stroke="#111" stroke-width="0.12">T<tspan font-size="5.6">H</tspan>1-</text>
<text x="409.74" y="223.3" font-size="8" font-weight="bold" fill="#111" font-family='"Liberation Serif", serif' textLength="30.14" lengthAdjust="spacingAndGlyphs" stroke="#111" stroke-width="0.12">skewing</text>
<text x="416.19" y="233.2" font-size="8" font-weight="bold" fill="#111" font-family='"Liberation Serif", serif' textLength="17.45" lengthAdjust="spacingAndGlyphs" stroke="#111" stroke-width="0.12">(TCR</text>
<text x="405.02" y="242" font-size="8" font-weight="bold" fill="#111" font-family='"Liberation Serif", serif' textLength="39.55" lengthAdjust="spacingAndGlyphs" stroke="#111" stroke-width="0.12">activation)</text>
<text x="469.9" y="214.6" font-size="8" font-weight="bold" fill="#111" font-family='"Liberation Serif", serif' textLength="19.15" lengthAdjust="spacingAndGlyphs" stroke="#111" stroke-width="0.12">T<tspan font-size="5.6">H</tspan>17-</text>
<text x="463.94" y="223.3" font-size="8" font-weight="bold" fill="#111" font-family='"Liberation Serif", serif' textLength="30.14" lengthAdjust="spacingAndGlyphs" stroke="#111" stroke-width="0.12">skewing</text>
<text x="468.01" y="233.2" font-size="8" font-weight="bold" fill="#111" font-family='"Liberation Serif", serif' textLength="22.13" lengthAdjust="spacingAndGlyphs" stroke="#111" stroke-width="0.12">(TCR-</text>
<text x="458.52" y="242" font-size="8" font-weight="bold" fill="#111" font-family='"Liberation Serif", serif' textLength="39.45" lengthAdjust="spacingAndGlyphs" stroke="#111" stroke-width="0.12">activation)</text>
<text x="340.97" y="260.9" font-size="8" font-weight="bold" fill="#111" font-family='"Liberation Serif", serif' textLength="54.32" lengthAdjust="spacingAndGlyphs" stroke="#111" stroke-width="0.12">SUMOylatable-</text>
<text x="357.69" y="269.9" font-size="8" font-weight="bold" fill="#111" font-family='"Liberation Serif", serif' textLength="21.63" lengthAdjust="spacingAndGlyphs" stroke="#111" stroke-width="0.12">WASp</text>
<text x="359.44" y="290.2" font-size="8" font-weight="bold" fill="#111" font-family='"Liberation Serif", serif' textLength="17.66" lengthAdjust="spacingAndGlyphs" stroke="#111" stroke-width="0.12">Non-</text>
<text x="340.97" y="298.6" font-size="8" font-weight="bold" fill="#111" font-family='"Liberation Serif", serif' textLength="54.32" lengthAdjust="spacingAndGlyphs" stroke="#111" stroke-width="0.12">SUMOylatable-</text>
<text x="357.69" y="307.3" font-size="8" font-weight="bold" fill="#111" font-family='"Liberation Serif", serif' textLength="21.63" lengthAdjust="spacingAndGlyphs" stroke="#111" stroke-width="0.12">WASp</text>
<text x="417.57" y="260.2" font-size="8" font-weight="normal" fill="#3a3a3a" font-family='"Liberation Serif", serif' textLength="15.38" lengthAdjust="spacingAndGlyphs" stroke="#3a3a3a" stroke-width="0.12">T<tspan font-size="5.6">H</tspan>1-</text>
<text x="407.41" y="270" font-size="8" font-weight="normal" fill="#3a3a3a" font-family='"Liberation Serif", serif' textLength="36.13" lengthAdjust="spacingAndGlyphs" stroke="#3a3a3a" stroke-width="0.12">phenotype</text>
<text x="469.82" y="260.2" font-size="8" font-weight="normal" fill="#3a3a3a" font-family='"Liberation Serif", serif' textLength="18.88" lengthAdjust="spacingAndGlyphs" stroke="#3a3a3a" stroke-width="0.12">T<tspan font-size="5.6">H</tspan>17-</text>
<text x="460.51" y="270" font-size="8" font-weight="normal" fill="#3a3a3a" font-family='"Liberation Serif", serif' textLength="36.13" lengthAdjust="spacingAndGlyphs" stroke="#3a3a3a" stroke-width="0.12">phenotype</text>
<text x="415.82" y="288.7" font-size="8" font-weight="normal" fill="#3a3a3a" font-family='"Liberation Serif", serif' textLength="18.88" lengthAdjust="spacingAndGlyphs" stroke="#3a3a3a" stroke-width="0.12">T<tspan font-size="5.6">H</tspan>17-</text>
<text x="407.41" y="297.6" font-size="8" font-weight="normal" fill="#3a3a3a" font-family='"Liberation Serif", serif' textLength="36.13" lengthAdjust="spacingAndGlyphs" stroke="#3a3a3a" stroke-width="0.12">phenotype</text>
<text x="469.82" y="288.7" font-size="8" font-weight="normal" fill="#3a3a3a" font-family='"Liberation Serif", serif' textLength="18.88" lengthAdjust="spacingAndGlyphs" stroke="#3a3a3a" stroke-width="0.12">T<tspan font-size="5.6">H</tspan>17-</text>
<text x="460.51" y="297.6" font-size="8" font-weight="normal" fill="#3a3a3a" font-family='"Liberation Serif", serif' textLength="36.13" lengthAdjust="spacingAndGlyphs" stroke="#3a3a3a" stroke-width="0.12">phenotype</text>
<text x="326.75" y="326.2" font-size="8.4" font-weight="normal" fill="#1a1a1a" font-family='"Liberation Serif", serif' textLength="51.12" lengthAdjust="spacingAndGlyphs" stroke="#1a1a1a" stroke-width="0.15">T<tspan font-size="5.6">H</tspan>1-phenotype</text>
<text x="377.56" y="326.2" font-size="8.4" font-weight="normal" fill="#1a1a1a" font-family='"Liberation Serif", serif' textLength="2.59" lengthAdjust="spacingAndGlyphs">:</text>
<line x1="326.9" y1="328.1" x2="377.4" y2="328.1" stroke="#222" stroke-width="0.7"/>
<path d="M385,327.3 L385,322.5" stroke="#000" stroke-width="1.8" fill="none"/>
<path d="M382.1,324.75 L385,322.2 L387.9,324.75" stroke="#000" stroke-width="1.7" fill="none" stroke-linecap="butt" stroke-linejoin="miter"/>
<text x="390.84" y="326.2" font-size="8.4" font-weight="normal" fill="#1a1a1a" font-family='"Liberation Serif", serif' textLength="42.1" lengthAdjust="spacingAndGlyphs" stroke="#1a1a1a" stroke-width="0.15">IFNG, TBX21</text>
<text x="326.75" y="335.3" font-size="8.4" font-weight="normal" fill="#1a1a1a" font-family='"Liberation Serif", serif' textLength="55.52" lengthAdjust="spacingAndGlyphs" stroke="#1a1a1a" stroke-width="0.15">T<tspan font-size="5.6">H</tspan>17-phenotype</text>
<text x="381.73" y="335.3" font-size="8.4" font-weight="normal" fill="#1a1a1a" font-family='"Liberation Serif", serif' textLength="3.06" lengthAdjust="spacingAndGlyphs">:</text>
<line x1="326.9" y1="337.2" x2="381.7" y2="337.2" stroke="#222" stroke-width="0.7"/>
<path d="M389.3,336.8 L389.3,331.5" stroke="#000" stroke-width="1.8" fill="none"/>
<path d="M386.4,333.75 L389.3,331.2 L392.2,333.75" stroke="#000" stroke-width="1.7" fill="none" stroke-linecap="butt" stroke-linejoin="miter"/>
<text x="394.83" y="335.3" font-size="8.4" font-weight="normal" fill="#1a1a1a" font-family='"Liberation Serif", serif' textLength="124.98" lengthAdjust="spacingAndGlyphs" stroke="#1a1a1a" stroke-width="0.15">IL17A, IL21, IL22, IL23R, CSF2, RORC</text>
</svg>
</body></html>
